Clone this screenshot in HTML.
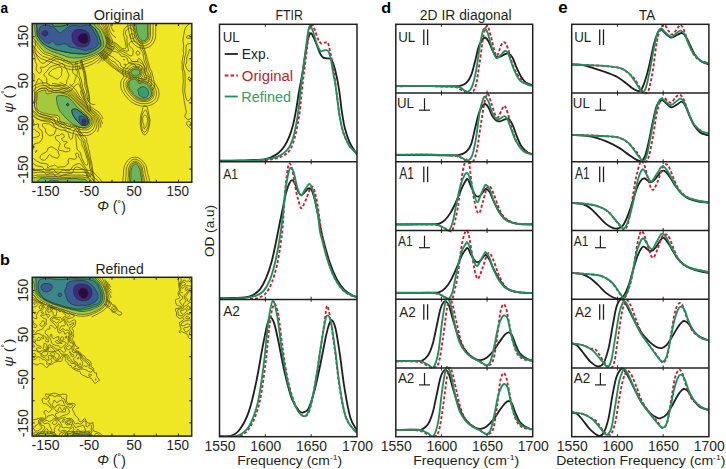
<!DOCTYPE html>
<html><head><meta charset="utf-8"><title>Figure</title><style>
html,body{margin:0;padding:0;background:#fff;width:726px;height:469px;overflow:hidden}
svg{display:block}
text{font-family:"Liberation Sans",sans-serif}
</style></head><body>
<svg width="726" height="469" viewBox="0 0 726 469"><defs><clipPath id="ca"><rect x="32.20" y="23.50" width="159.60" height="158.80"/></clipPath><clipPath id="cb"><rect x="32.20" y="277.30" width="159.50" height="158.80"/></clipPath><clipPath id="cc"><rect x="219.50" y="24.30" width="137.50" height="412.40"/></clipPath><clipPath id="cd"><rect x="395.80" y="24.30" width="136.90" height="412.40"/></clipPath><clipPath id="ce"><rect x="571.70" y="24.30" width="137.20" height="412.40"/></clipPath></defs><g clip-path="url(#ca)"><rect x="32.2" y="23.5" width="159.6" height="158.8" fill="#f0e724"/><path d="M124.2 59.3 123.7 59.5 123.7 60.0 124.2 60.4 124.6 60.0 124.2 59.3M124.7 63.9 124.3 64.5 124.6 65.0 125.7 65.2 125.7 64.4 124.7 63.9M102.2 45.0 101.9 46.0 102.4 49.0 103.2 50.5 105.2 51.8 107.7 54.5 113.2 57.3 116.7 60.4 119.2 62.0 120.0 63.0 120.9 66.0 121.7 66.9 125.7 68.5 129.2 69.0 133.2 71.4 134.2 71.5 135.2 70.7 136.8 68.0 136.0 66.0 135.2 65.0 133.8 64.0 129.2 62.9 128.2 61.7 127.1 58.5 125.7 57.0 124.2 56.5 121.7 56.4 121.1 56.0 119.9 54.0 118.7 53.0 115.2 51.5 112.7 51.2 110.9 49.0 107.7 47.9 105.2 45.4 103.7 44.8 102.2 45.0M140.2 65.4 138.5 67.0 138.2 68.0 139.7 69.9 141.2 70.4 141.7 70.2 142.1 69.5 141.9 67.0 141.2 65.5 140.2 65.4M97.2 40.9 95.7 42.1 95.5 43.0 95.7 44.0 96.5 45.0 99.3 47.0 101.1 51.0 107.8 57.0 110.7 60.1 114.2 62.0 116.1 63.5 119.6 68.0 125.7 71.0 130.2 72.8 137.7 77.8 143.7 79.5 145.2 79.6 146.0 79.0 146.4 76.5 144.9 73.0 144.0 65.5 142.2 61.6 140.2 59.2 138.7 58.5 138.2 59.0 137.5 61.0 136.7 61.6 134.7 61.8 132.7 61.3 131.5 60.5 129.5 58.0 126.6 55.5 122.7 54.0 120.9 52.5 116.6 50.0 113.7 47.1 109.7 45.2 106.7 42.8 98.2 40.7 97.2 40.9M137.2 50.9 136.2 52.0 136.2 53.5 137.2 55.0 138.2 55.1 139.7 54.0 139.8 53.0 138.7 51.3 137.2 50.9M79.7 66.3 79.2 66.6 79.2 67.5 79.7 68.8 80.2 69.2 80.4 68.0 79.7 66.3M59.2 66.9 57.1 67.5 52.2 69.7 49.0 73.0 48.7 74.0 49.0 75.0 52.2 76.5 55.7 78.6 57.2 79.1 57.7 79.0 61.4 75.5 61.5 73.0 62.0 70.5 61.9 69.0 61.2 67.6 60.3 67.0 59.2 66.9M43.7 123.4 42.7 123.9 42.4 124.5 42.4 126.0 45.4 129.0 45.7 132.0 46.2 133.0 49.2 135.5 50.2 135.9 54.2 134.3 56.2 129.0 56.2 128.0 53.2 126.8 49.2 123.9 43.7 123.4M61.2 133.9 59.7 135.5 56.2 135.8 55.5 136.5 55.4 138.0 56.0 139.5 59.2 142.0 60.1 143.5 60.1 144.5 58.5 148.0 58.6 149.5 59.7 150.3 62.7 150.9 65.7 151.9 68.7 151.3 69.7 150.6 70.0 150.0 69.8 148.5 69.2 148.2 65.7 147.9 64.8 147.0 64.5 146.0 64.5 145.0 65.0 144.0 67.2 142.6 67.2 142.0 66.2 141.4 63.7 141.4 62.2 140.4 61.8 139.5 61.8 138.5 62.3 138.0 64.2 137.2 64.4 136.0 63.2 134.3 62.2 133.8 61.2 133.9M76.2 135.0 75.6 135.5 75.4 136.5 76.1 139.5 77.0 149.0 77.5 150.0 79.9 152.0 80.6 153.0 81.4 157.0 84.2 163.2 85.7 165.0 86.7 165.3 87.3 165.0 87.9 164.0 88.0 161.5 84.2 149.6 81.9 144.5 81.5 141.5 81.0 140.5 79.0 138.5 77.7 135.8 76.7 135.0 76.2 135.0M50.7 146.9 48.1 148.0 47.2 150.8 46.2 152.0 41.7 154.4 40.7 155.4 39.9 157.5 40.3 158.5 41.2 159.5 43.2 160.2 45.2 159.9 46.7 158.4 48.0 156.5 48.7 155.0 49.2 154.6 50.2 155.0 52.1 156.5 56.2 158.1 57.2 158.3 58.2 157.6 59.2 155.5 57.8 150.5 52.2 147.0 50.7 146.9M36.2 150.5 35.5 151.5 35.4 152.0 35.7 152.5 37.0 151.0 36.8 150.5 36.2 150.5M131.2 33.6 130.5 35.5 130.7 37.9 131.7 38.6 133.7 38.7 134.5 38.0 134.9 37.0 134.6 35.0 133.2 33.9 131.2 33.6M96.2 37.0 93.4 38.0 92.5 39.0 92.4 41.5 92.7 44.3 93.1 45.5 94.1 46.5 97.2 48.5 100.0 52.0 107.2 58.3 110.2 62.1 114.2 65.0 119.2 69.5 130.2 74.9 136.2 79.1 140.7 81.0 145.2 83.6 146.7 83.7 147.7 83.1 148.8 80.5 149.1 75.0 146.8 71.0 146.3 66.0 144.2 61.0 142.9 53.0 140.5 49.0 140.2 46.5 139.7 45.0 138.2 43.3 135.7 41.5 134.2 41.0 130.2 42.1 129.2 43.0 129.0 44.0 129.2 45.5 132.6 49.0 133.2 50.5 133.2 52.5 132.7 55.0 132.2 55.6 130.7 55.8 129.2 55.3 126.2 53.2 119.2 50.0 117.9 49.0 115.2 45.8 110.7 43.5 106.2 40.0 102.2 38.7 98.9 37.0 96.2 37.0M189.7 49.3 189.2 50.0 188.4 53.5 186.8 57.5 186.7 62.0 185.5 65.5 186.2 67.9 188.7 71.3 189.2 71.3 191.2 69.9 191.9 69.0 192.1 68.0 191.4 62.5 192.5 58.5 192.5 55.5 191.7 52.5 190.7 50.5 189.7 49.3M30.2 49.7 31.2 48.5 31.3 47.5 30.9 46.5 30.2 46.0M78.2 59.4 77.4 60.5 77.1 62.5 77.4 68.0 79.0 72.0 79.5 75.5 81.1 79.0 82.7 87.3 85.4 95.0 86.2 98.3 87.2 99.3 87.7 98.8 87.7 97.5 86.7 94.5 86.5 90.5 84.7 85.5 84.8 80.5 83.7 73.1 79.9 60.5 79.2 59.6 78.2 59.4M60.2 63.9 53.2 65.8 50.2 67.1 49.1 68.0 47.2 70.9 44.5 73.5 44.1 74.5 44.3 75.5 46.1 77.5 46.7 79.0 46.9 83.0 48.7 85.5 49.7 85.8 52.7 85.3 56.2 86.1 59.7 85.3 63.2 85.6 65.2 84.9 66.5 83.5 66.9 80.5 68.8 76.0 68.9 75.0 67.7 72.5 67.0 70.0 64.9 67.0 64.2 64.9 63.2 64.0 62.2 63.6 60.2 63.9M30.2 70.2 31.7 69.6 32.3 68.5 32.3 62.5 32.0 60.0 32.6 57.5 32.0 56.0 30.2 55.1M189.2 77.0 188.7 77.2 188.2 78.0 188.0 79.0 188.2 79.5 189.2 79.9 190.2 79.5 190.5 78.5 190.2 77.7 189.2 77.0M30.2 94.2 31.4 94.0 31.9 93.5 32.8 88.0 31.6 83.5 31.6 82.5 33.9 80.0 34.2 75.5 33.9 74.0 33.2 73.2 32.2 72.7 30.2 72.4M144.7 115.0 143.2 116.2 142.7 118.0 142.7 122.0 144.0 125.0 143.8 128.0 144.2 128.8 145.2 128.2 146.7 125.5 147.7 120.5 147.5 118.5 146.7 116.5 145.7 115.2 144.7 115.0M30.2 158.0 33.7 158.6 36.7 161.1 41.2 163.2 46.7 163.9 47.7 164.3 48.2 165.5 47.2 167.0 47.7 167.8 48.7 167.5 49.8 166.5 52.7 165.9 54.7 164.9 55.7 165.3 57.7 167.3 60.7 166.9 63.7 166.9 64.9 166.5 66.7 164.8 68.2 163.9 68.5 163.0 68.1 160.0 68.7 158.8 70.7 158.5 74.2 159.4 75.9 158.5 76.7 157.0 75.7 155.0 75.6 154.0 76.2 153.3 77.2 153.2 78.5 154.0 78.9 157.0 80.2 158.7 83.0 164.0 86.4 169.0 90.2 176.4 90.7 176.5 90.8 176.0 91.1 172.0 90.7 170.0 89.4 167.0 89.6 164.0 89.2 161.5 87.8 157.5 86.0 150.5 84.0 145.0 83.3 141.0 80.9 137.5 79.8 135.0 77.8 132.5 76.2 129.7 75.2 129.3 74.2 129.8 73.0 134.5 72.5 138.0 71.7 139.0 70.7 139.1 69.4 138.0 68.5 134.0 67.7 132.2 62.5 127.0 59.9 125.0 58.2 124.3 53.7 123.7 50.7 121.0 48.7 120.2 46.7 120.0 42.2 120.3 40.7 120.1 36.7 118.5 34.7 115.9 33.7 115.2 32.7 115.1 31.7 115.5 31.2 116.0 31.0 117.0 33.4 119.5 33.6 123.0 34.1 124.0 35.7 124.6 38.2 123.7 38.6 124.0 38.4 127.5 39.1 128.5 41.2 130.2 42.2 132.0 42.6 137.5 41.7 139.7 40.1 142.0 37.9 143.0 34.1 144.0 33.7 144.9 33.5 147.5 32.7 150.2 31.7 151.6 30.2 152.4M129.7 27.9 128.2 28.5 126.7 29.9 125.7 31.5 125.4 33.0 125.6 34.5 126.7 36.0 127.0 37.0 127.1 44.0 128.5 50.0 128.3 51.0 127.7 51.2 125.7 51.0 120.7 49.3 115.7 44.5 111.2 42.2 107.2 38.8 100.5 35.5 96.9 34.5 93.7 33.2 91.2 33.0 89.7 33.3 87.8 34.5 86.9 35.5 86.8 36.5 90.2 40.1 90.9 42.0 91.4 45.5 92.2 47.0 95.7 49.8 106.2 59.4 110.2 63.9 118.0 70.0 121.2 72.2 129.2 76.3 136.2 80.6 139.7 82.3 143.2 85.0 146.7 86.0 150.7 85.8 151.2 85.5 151.5 84.5 151.0 82.5 151.3 78.5 150.8 74.0 150.2 72.5 148.4 69.5 147.8 65.5 146.0 61.0 145.4 56.5 144.1 52.0 142.4 48.5 141.8 45.5 137.6 39.0 136.6 34.5 135.9 33.0 133.2 30.8 131.2 28.3 129.7 27.9M190.7 34.8 189.2 35.6 187.2 35.8 186.5 37.0 186.7 38.0 187.7 38.3 191.7 38.2 192.4 37.0 192.3 35.5 191.7 34.9 190.7 34.8M30.2 40.3 31.7 39.2 32.7 36.5 32.2 35.2 30.2 34.2M194.2 52.7 192.5 49.0 192.1 45.5 191.7 44.3 190.7 43.6 189.2 43.6 187.7 43.9 186.7 44.7 186.0 47.0 186.0 53.0 184.8 57.0 183.4 67.0 183.7 69.4 184.8 72.5 185.1 75.0 185.1 82.5 184.7 91.0 185.7 97.0 186.7 99.9 187.7 101.0 188.7 100.9 189.7 99.8 192.9 93.5 193.3 87.5 192.3 83.5 193.5 79.5 193.3 75.0 194.2 71.2M77.2 56.5 76.5 58.0 75.2 65.0 75.5 67.5 77.4 72.0 77.4 73.5 77.0 75.5 78.7 77.6 79.4 79.0 81.0 86.5 82.9 91.5 85.1 99.0 86.2 101.1 87.7 102.5 88.2 102.2 88.7 101.0 89.0 97.5 88.0 93.5 87.6 90.0 86.1 84.5 85.8 79.5 84.7 73.0 80.7 59.5 78.7 57.1 77.7 56.4 77.2 56.5M194.2 66.1 194.2 63.1M30.2 105.1 33.2 102.4 34.3 100.5 34.6 98.5 34.6 91.5 35.5 88.0 35.2 85.0 38.2 78.8 39.2 78.8 42.0 81.0 43.2 84.5 43.7 85.1 45.7 86.1 48.7 88.2 51.7 89.0 54.2 90.6 56.2 90.8 59.2 90.1 62.7 88.4 67.7 88.2 70.2 87.3 74.4 82.5 76.2 76.0 76.1 75.5 73.7 73.7 72.9 72.5 72.5 70.5 73.2 66.0 72.7 65.0 71.4 63.5 69.9 62.5 65.2 60.5 56.2 58.9 54.7 59.3 52.0 61.0 48.7 64.3 44.7 66.9 43.2 67.3 40.7 67.1 40.2 67.5 41.4 69.5 41.3 71.5 40.2 73.0 39.7 73.2 38.7 72.9 37.2 71.5 36.2 69.5 36.2 67.0 37.0 65.0 35.2 61.5 34.9 57.0 32.9 51.0 33.1 47.0 32.9 45.5 32.1 44.0 30.2 43.1M145.2 110.0 144.2 111.2 141.6 116.0 141.2 122.0 142.2 129.8 143.2 131.5 144.7 132.2 146.2 131.0 147.8 127.5 148.7 124.5 149.1 121.0 148.7 118.1 146.7 111.6 146.2 110.4 145.7 109.9 145.2 110.0M30.2 131.4 31.7 131.1 33.2 129.3 34.2 129.1 36.2 131.0 38.9 132.5 39.4 133.5 39.5 134.5 39.3 135.5 38.7 136.3 36.7 137.1 33.2 137.9 30.2 141.0M30.2 161.6 36.7 165.8 42.2 166.8 43.9 169.0 46.7 170.8 48.7 170.9 52.2 169.3 53.7 169.5 56.5 173.0 58.2 173.7 59.7 173.0 61.8 170.5 62.7 169.9 63.7 169.9 66.7 170.9 69.4 170.5 70.7 169.5 72.7 166.5 73.8 165.5 77.7 163.8 79.7 163.6 81.7 164.9 86.1 171.0 87.5 174.0 88.7 178.3 90.7 182.1 91.7 183.0 92.7 183.1 93.2 182.5 93.5 181.0 92.2 171.0 91.0 167.0 90.5 162.5 85.5 144.5 84.8 140.5 84.1 139.0 82.4 137.0 79.1 132.0 77.9 129.0 77.2 127.9 75.7 126.8 73.7 126.2 72.7 126.5 70.2 128.4 69.2 128.7 67.7 128.5 66.2 127.7 64.2 125.3 63.2 124.6 59.2 123.0 54.9 122.0 50.7 119.0 47.7 117.8 44.2 117.3 38.7 115.7 37.7 115.0 35.2 112.1 33.7 111.0 32.7 110.9 30.2 111.3M189.7 21.5 189.4 24.0 186.7 25.9 185.2 28.5 184.5 31.0 182.9 40.0 183.7 46.0 183.2 50.0 183.6 53.5 182.1 61.5 182.1 68.5 183.0 73.0 183.0 77.5 183.4 81.5 182.8 86.5 182.8 91.0 184.1 100.5 186.3 112.0 186.2 113.0 185.0 115.0 184.9 116.5 185.7 118.0 187.7 119.4 189.2 119.4 191.3 118.0 192.1 117.0 191.9 115.0 192.5 111.0 192.4 107.5 193.2 104.0 192.7 99.5 194.2 96.0M129.2 25.4 127.2 26.2 125.7 27.2 124.3 29.0 123.7 30.6 123.5 35.0 124.5 38.0 126.1 46.5 125.9 48.0 125.5 48.5 124.7 48.8 122.7 48.6 121.3 48.0 116.4 43.5 112.2 41.4 108.2 38.1 101.2 34.2 93.7 31.2 88.2 30.5 85.7 29.1 84.7 28.8 83.2 29.0 82.3 29.5 81.6 30.5 81.7 31.5 84.7 37.5 89.2 42.5 90.0 46.0 90.9 47.5 110.7 65.8 124.7 76.0 132.2 79.4 135.7 81.8 139.2 83.7 142.7 86.5 148.2 88.8 152.2 89.4 153.2 89.2 154.0 88.0 154.6 85.0 153.6 79.0 151.7 71.5 149.8 68.0 148.8 64.0 147.6 60.5 146.7 56.3 143.0 45.0 139.1 38.0 137.2 32.7 134.5 29.5 132.7 26.0 131.2 25.1 129.2 25.4M194.2 33.3 192.4 27.0 192.2 21.5M194.2 49.1 194.2 46.9M143.7 106.4 143.0 107.5 142.0 112.0 140.7 115.5 140.2 123.0 140.9 128.5 141.7 131.3 143.2 134.0 144.7 134.9 146.2 134.1 147.7 131.7 149.2 126.5 150.0 120.0 147.5 108.0 146.7 106.8 145.7 106.2 144.7 106.0 143.7 106.4M187.7 121.5 186.9 122.5 186.6 123.5 187.2 125.3 191.2 128.9 192.2 129.1 192.7 128.8 193.0 127.5 190.5 122.5 189.2 121.2 188.2 121.1 187.7 121.5M30.2 168.9 32.7 170.3 34.2 170.7 38.7 170.4 41.7 171.0 43.7 171.9 45.7 173.8 46.7 174.3 48.2 174.2 50.8 173.0 52.2 172.8 53.4 173.5 55.7 176.3 58.2 177.3 59.7 176.9 62.7 175.0 72.2 173.1 73.1 172.0 73.7 169.5 74.6 168.0 76.2 167.1 77.7 167.1 82.2 168.8 84.7 170.9 86.4 174.0 87.3 177.5 88.7 180.9 90.8 184.5M95.0 184.5 94.8 181.0 93.4 174.5 91.8 163.5 90.2 156.8 89.5 151.5 88.4 148.5 88.1 145.5 87.0 142.5 86.5 138.5 85.7 137.1 83.2 135.4 80.4 132.0 78.7 128.0 75.9 124.5 75.1 121.5 74.2 120.1 71.7 117.5 71.2 117.2 70.7 117.4 71.2 122.5 71.0 124.5 69.7 126.3 68.7 126.6 67.7 126.5 64.2 123.2 55.7 120.6 52.7 118.4 48.2 116.1 39.2 113.5 36.5 110.0 34.3 106.0 34.3 105.0 36.0 99.5 36.2 94.0 36.6 91.5 37.7 90.1 41.2 88.2 43.2 87.9 45.2 88.2 49.7 90.7 53.7 92.5 61.7 92.7 68.2 91.4 71.2 90.3 72.2 89.5 74.6 86.0 77.2 84.0 78.2 83.7 79.2 84.9 81.9 91.0 84.2 98.9 87.0 105.5 88.2 110.1 88.7 111.1 89.2 111.5 89.7 111.4 90.2 110.5 90.4 108.5 89.7 103.0 89.5 96.5 87.0 84.0 85.4 72.5 83.0 65.0 81.6 59.5 79.5 55.5 77.7 50.3 76.2 48.5 75.7 49.5 75.0 59.5 74.5 61.0 73.7 61.8 72.2 61.4 66.7 57.9 61.7 57.5 56.7 56.4 54.7 56.9 52.2 58.5 48.7 60.0 44.2 63.0 42.7 63.3 41.2 62.8 40.0 61.5 37.2 57.4 36.3 55.5 35.7 52.5 34.7 50.0 34.8 47.5 35.8 43.0 34.7 39.0 35.0 35.0 34.3 33.5 32.3 31.0 30.9 25.5 30.2 24.5" fill="none" stroke="#2e2a18" stroke-width="0.6" stroke-linejoin="round"/><path d="M132.0 20.5 134.4 34.5 135.2 37.0 136.6 40.0 138.2 41.7 139.9 42.8 141.9 43.5 144.2 43.6 146.2 42.9 148.2 41.5 149.1 40.2 150.2 37.5 150.5 35.2 150.6 21.8 150.4 20.5M29.2 39.8 29.7 40.8 30.7 41.4 32.0 41.4 33.0 40.7 40.2 50.2 42.0 52.2 44.0 53.8 48.5 55.4 49.2 55.4 52.5 57.0 59.5 59.4 62.2 60.5 63.0 61.1 65.2 62.3 69.5 63.9 72.0 64.2 74.5 64.2 78.4 63.4 82.0 61.9 87.7 60.2 90.5 58.9 91.7 58.6 92.5 58.0 95.0 56.9 97.5 55.5 98.2 54.7 101.5 52.6 104.1 50.0 105.4 48.2 106.7 45.2 107.0 43.8 107.0 40.5 106.7 38.8 104.0 31.8 102.1 28.5 99.8 25.5 99.3 24.2 99.6 22.5 100.3 20.5M134.7 66.2 132.9 66.6 130.7 68.0 128.9 69.7 127.9 71.2 127.9 73.2 128.3 74.5 128.8 75.2 130.8 77.0 129.2 78.2 128.1 79.8 127.3 80.2 126.0 82.5 125.9 86.0 126.8 88.8 129.0 92.5 131.9 96.2 134.0 98.2 136.9 100.1 141.4 101.6 146.7 101.6 149.2 100.8 151.4 99.5 152.8 98.2 154.1 95.2 154.1 91.2 153.2 88.5 150.4 84.2 148.9 82.9 145.9 81.1 142.9 80.2 141.4 80.5 139.9 81.2 139.7 81.0 139.1 79.5 138.0 78.2 138.7 78.0 139.9 77.1 141.0 76.0 142.1 73.5 142.2 71.0 140.9 68.5 139.4 67.3 137.9 66.5 134.7 66.2M42.9 88.2 41.0 88.6 37.5 90.1 35.8 91.8 35.1 93.8 35.3 96.2 34.5 101.0 34.5 106.2 35.2 109.3 36.2 111.2 37.7 112.8 42.2 114.8 45.0 115.6 46.5 115.7 48.2 116.2 49.5 116.2 51.0 116.7 54.5 116.9 57.2 117.5 57.5 118.0 57.7 120.5 58.5 122.5 59.2 123.2 62.0 124.4 63.5 124.4 66.7 125.2 68.2 125.9 71.2 126.7 74.0 127.9 76.7 128.4 78.5 129.1 82.2 129.9 86.7 129.9 88.7 129.2 91.5 127.2 92.8 124.8 93.4 122.5 93.2 120.5 92.9 119.0 91.7 116.8 88.2 112.9 78.7 103.5 77.2 101.8 71.4 96.2 68.0 93.9 66.2 93.2 65.2 92.6 60.2 91.0 58.0 90.6 54.0 90.5 51.7 90.8 50.2 91.4 48.0 91.9 47.7 89.8 46.8 88.8 45.5 88.1 42.9 88.2M97.1 185.2 96.9 184.0 95.7 182.5 93.2 180.2 90.2 176.8 88.5 175.9 85.0 175.6 83.0 175.1 71.2 175.1 70.2 175.3 66.2 175.3 64.7 175.6 64.0 175.3 61.0 175.3 57.5 174.8 37.5 175.1 32.0 176.2 31.0 176.8 29.7 178.0 29.2 178.9M145.3 185.2 144.9 181.5 144.4 180.0 144.0 177.0 143.2 174.2 142.9 170.8 142.4 169.2 142.4 168.0 142.1 167.0 140.6 164.5 139.2 163.0 136.7 161.4 134.7 161.2 132.7 161.8 131.4 162.9 130.1 164.8 128.9 167.5 128.3 170.8 128.3 177.0 128.0 178.0 127.8 185.2M129.5 20.5 132.2 35.2 133.1 38.0 134.6 41.2 136.7 43.4 138.9 44.9 141.4 45.8 144.2 45.9 145.2 45.7 146.9 45.1 149.2 43.8 151.0 41.8 152.0 39.8 152.6 38.0 153.0 35.5 153.2 21.8 153.0 20.5M29.2 43.8 30.5 44.2 32.3 44.2 36.7 50.4 39.6 53.8 42.7 56.2 48.5 58.1 51.5 59.6 58.7 62.1 64.1 64.8 68.7 66.5 71.7 66.9 74.7 66.9 79.5 66.0 82.7 64.7 88.7 62.8 92.7 61.0 95.7 59.1 98.5 57.1 101.0 54.1 102.2 53.3 104.8 50.8 106.4 48.8 107.7 45.5 107.9 44.0 107.9 40.2 107.6 38.5 105.1 31.2 103.3 27.5 101.3 24.0 102.3 20.5M133.9 64.0 131.9 64.4 129.2 66.1 127.0 68.2 125.6 70.2 125.4 71.5 125.5 73.8 126.1 75.2 127.1 77.0 125.2 79.1 123.6 82.0 123.5 86.0 124.1 88.5 125.0 90.5 127.0 93.8 130.2 97.5 132.8 100.0 135.9 101.9 139.4 103.2 141.2 103.6 146.9 103.7 150.2 102.8 153.2 101.0 154.7 99.5 155.7 97.5 156.4 95.2 156.3 91.5 155.1 87.8 151.9 83.2 149.9 81.5 146.7 79.7 144.9 79.1 143.0 78.7 140.7 79.2 140.5 79.0 140.4 78.5 142.2 76.9 143.8 73.8 144.0 70.8 143.2 68.5 141.9 66.6 139.2 64.6 136.4 64.0 133.9 64.0M42.7 85.5 39.7 86.1 35.6 88.0 33.4 90.2 32.8 91.5 32.3 93.2 32.2 94.5 32.4 95.8 31.7 101.2 31.7 106.2 32.0 108.5 32.5 110.2 33.7 112.5 35.7 114.8 38.7 116.4 44.2 118.3 54.7 120.0 54.9 121.2 56.0 123.8 57.0 125.0 58.0 125.7 61.0 127.0 66.0 127.9 73.0 130.5 76.2 131.2 77.7 131.8 82.0 132.7 87.2 132.6 90.0 131.6 93.0 129.3 94.5 126.8 95.2 123.2 94.9 120.2 94.0 118.0 92.8 116.0 91.2 114.2 81.6 105.0 72.2 95.2 68.7 92.6 66.0 91.1 60.7 89.1 58.2 88.5 54.0 88.1 51.5 88.2 50.0 88.6 48.7 87.0 47.0 85.9 45.5 85.5 42.7 85.5M99.9 185.2 99.8 183.8 99.1 182.2 97.7 180.5 95.4 178.5 92.2 174.8 89.7 173.3 87.2 172.8 85.5 172.7 82.7 172.3 71.2 172.3 65.0 172.7 57.5 172.0 37.5 172.3 32.2 173.2 30.7 173.7 29.2 174.6M147.8 185.2 147.2 181.2 145.2 173.8 144.8 170.5 143.8 166.2 142.0 163.2 139.2 160.8 136.9 159.5 134.7 159.3 132.4 159.7 130.9 160.6 128.3 163.8 126.9 166.8 126.2 170.5 126.0 176.5 125.7 178.0 125.3 185.2M126.9 20.5 129.7 35.8 130.7 39.0 132.4 42.6 135.0 45.2 137.9 47.1 141.2 48.1 144.4 48.3 145.9 48.1 147.9 47.4 150.7 45.9 151.9 44.8 153.2 43.2 154.4 41.0 155.3 38.5 155.7 35.8 155.8 20.5M29.2 46.8 30.7 47.0 34.6 52.2 37.7 55.8 40.2 57.9 41.7 58.8 57.7 64.5 63.2 67.2 68.2 69.0 71.5 69.6 75.0 69.6 77.5 69.3 80.5 68.6 89.5 65.4 93.7 63.3 96.7 61.3 99.5 58.9 101.5 55.0 103.0 54.0 105.5 51.6 107.3 49.2 108.7 45.5 108.9 44.0 108.9 40.2 108.5 38.2 106.1 30.8 104.5 26.8 103.0 23.8 104.1 20.5M133.7 61.5 130.9 62.0 127.7 63.9 125.0 66.5 123.2 69.2 122.7 71.0 122.8 73.2 123.8 76.8 121.5 80.1 120.7 82.5 120.8 86.5 121.4 89.2 122.7 91.8 124.8 95.0 126.9 97.7 131.1 101.8 134.9 104.1 138.7 105.4 141.2 106.0 147.2 106.1 151.2 105.0 154.4 103.2 156.2 101.7 157.2 100.5 158.1 98.5 158.9 96.2 159.0 94.8 158.8 90.8 157.8 88.0 156.1 85.0 153.4 81.8 151.5 80.2 147.4 78.1 143.9 77.2 145.5 74.0 146.0 70.8 145.8 69.5 145.1 67.5 143.7 65.1 141.7 63.4 139.4 62.2 136.7 61.5 133.7 61.5M29.2 108.6 29.9 111.2 31.5 114.2 33.8 116.8 35.5 117.9 40.2 120.0 43.5 121.0 52.3 122.5 54.3 126.3 55.5 127.4 57.0 128.3 60.2 129.7 65.0 130.6 72.2 133.2 77.2 134.6 81.7 135.5 86.7 135.5 88.5 135.2 91.2 134.1 94.0 132.0 95.4 130.2 96.5 127.8 97.1 123.8 96.4 120.2 95.7 118.3 93.5 115.0 82.2 104.3 72.7 94.0 69.5 91.4 66.5 89.5 61.2 87.3 58.5 86.5 56.0 86.1 53.7 85.8 51.0 85.8 48.7 84.0 46.0 82.9 42.7 82.8 38.9 83.5 34.2 85.5 32.0 87.5 31.1 88.8 30.2 90.5 29.6 92.8 29.4 94.2 29.6 95.8 29.2 98.4M102.7 185.2 102.6 183.5 102.1 182.0 101.4 180.8 99.8 178.8 97.4 176.5 93.7 172.4 91.2 170.9 89.5 170.4 83.0 169.5 71.0 169.5 65.0 169.8 57.7 169.2 46.2 169.2 44.2 169.5 36.7 169.5 31.7 170.4 29.2 171.3M150.5 185.2 149.8 181.0 147.6 173.2 146.4 167.0 145.4 164.5 143.7 161.9 140.2 158.9 137.4 157.4 134.4 157.2 131.7 157.6 129.4 158.8 128.0 160.2 126.2 162.4 124.5 165.8 123.6 170.2 123.4 176.2 123.0 177.8 122.6 185.2M97.9 63.5 100.7 60.7 101.7 58.2 102.2 55.7 104.0 54.5 107.9 50.2 109.7 45.8 109.9 44.0 110.0 40.2 109.6 38.2 107.6 32.5 105.7 25.9 104.7 23.4 105.7 20.5M147.5 73.9 147.7 73.3M150.9 77.5 146.7 75.8 147.4 74.2M97.5 131.7 98.3 129.8 98.8 127.5 98.8 123.2 97.9 120.0 97.1 118.0 94.6 114.5 83.7 104.6 78.5 98.8 73.7 93.1 70.0 89.9 66.7 87.7 61.2 85.2 58.0 84.3 54.0 83.5 52.0 83.5M140.5 156.3 140.4 156.2M141.8 157.1 141.7 157.0M102.8 61.5 103.2 59.5 103.1 56.5 104.4 55.5 107.0 53.0 108.8 50.8 110.4 46.8 111.0 44.3 111.9 43.2 112.3 41.8 112.3 40.0 110.1 35.5 108.7 32.0 106.3 23.2 107.3 20.5M100.9 127.6 100.6 123.8 99.4 119.8 98.1 117.0 95.8 114.0 87.8 107.2 83.9 103.5 79.1 98.0 74.7 92.0 71.1 88.5 67.2 85.8 62.0 83.3 59.6 82.5M116.0 37.8 112.2 34.8 110.2 31.5 108.0 22.8 109.0 20.5M104.9 60.3 104.0 57.2 107.7 53.7 109.6 51.5 110.5 49.8 111.7 46.1 115.2 47.3M69.4 84.2 69.1 84.0M102.5 123.8 101.2 119.8 100.0 117.2 97.4 113.8 88.7 106.7 84.7 102.9 82.7 100.7 81.0 98.1 80.0 97.0 75.7 89.8 72.3 86.2 69.5 84.2M114.5 31.5 112.7 30.5 111.0 26.5 110.4 23.9M106.1 59.6 105.0 57.8 108.5 54.5 110.4 52.2 111.3 50.5 112.2 47.9 112.5 47.8 114.4 49.1M103.0 118.9 101.4 115.5 98.9 112.2 94.2 109.2 89.4 105.7 86.7 103.2 84.5 100.8 83.7 99.8 82.2 96.4 81.4 95.2 80.9 93.2 80.7 90.5M106.7 59.0 106.2 58.1 109.5 55.0 111.1 53.0 113.0 49.3 113.8 50.1M95.1 104.4 94.0 104.7 92.7 104.5 91.0 103.7 89.1 102.2 87.9 100.8 87.4 99.2 87.7 98.4 88.6 97.9M113.4 51.1 113.4 50.9" fill="none" stroke="#2e2a18" stroke-width="0.6" stroke-linejoin="round"/><path d="M29.2 20.5 98.8 20.5 97.8 23.0 97.8 24.8 98.6 26.2 101.3 29.2 103.3 32.2 103.8 33.2 103.8 33.8 105.1 36.0 105.3 37.2 106.0 39.0 106.1 40.2 106.3 40.5 106.3 43.8 106.1 44.0 106.1 45.0 105.6 45.8 105.6 46.2 105.1 47.0 104.8 48.0 103.6 49.2 103.6 49.5 101.0 52.1 98.2 53.6 97.7 53.6 97.0 54.4 95.2 54.9 94.2 55.6 93.7 55.6 93.0 56.1 91.7 56.4 91.0 57.1 90.0 57.1 87.0 58.6 86.0 58.6 85.2 59.1 82.7 59.6 82.0 60.1 81.2 60.1 80.0 60.9 79.2 60.9 78.0 61.6 76.2 61.8 76.0 62.1 74.7 62.1 74.5 62.3 70.0 62.1 69.2 61.6 68.5 61.6 66.7 60.6 66.0 60.6 64.0 59.6 63.2 58.8 62.0 58.6 59.0 57.1 58.2 57.1 57.0 56.3 56.2 56.3 54.7 55.6 53.2 55.3 52.5 54.9 51.5 54.6 50.0 53.6 49.0 53.6 47.5 52.9 46.7 52.8 45.5 52.1 44.7 52.1 43.1 50.8 42.1 49.2 41.6 49.0 41.1 48.0 40.4 47.5 39.8 46.5 38.1 44.5 37.8 43.8 36.8 42.8 36.3 41.8 33.0 38.1 32.3 38.5 31.5 39.6 31.1 39.5 30.9 39.0 30.9 37.0 30.6 36.8 30.6 35.8 30.1 34.5 30.1 33.8 29.9 33.5 29.6 31.0 29.4 30.8 29.2 20.5ZM133.6 20.5 148.9 20.5 148.9 21.5 149.1 21.8 149.1 35.2 148.9 35.5 148.8 37.0 147.9 39.5 146.7 40.9 146.2 40.9 145.4 41.7 144.9 41.7 144.2 42.2 142.2 42.2 139.9 41.2 137.8 39.2 137.5 38.2 136.6 36.5 136.3 35.0 135.8 34.2 135.8 33.2 135.6 33.0 135.5 32.0 135.3 31.8 135.3 30.5 135.0 30.2 135.0 29.0 134.8 28.8 134.5 25.5 134.1 24.2 133.8 20.8 133.6 20.5ZM134.8 67.8 136.2 67.6 136.4 67.8 137.7 67.9 138.7 68.3 139.9 69.2 141.1 71.5 141.1 73.2 140.1 75.5 138.2 77.1 137.2 77.2 136.9 77.4 134.9 77.4 134.7 77.2 133.4 76.9 132.7 76.4 132.2 76.4 130.3 74.8 129.6 73.8 129.3 73.0 129.3 71.8 130.0 70.8 132.4 68.6 133.2 68.3 133.7 67.8 134.8 67.8ZM132.5 77.8 134.2 77.6 134.4 77.8 135.4 77.8 136.2 78.3 136.7 78.4 136.9 78.8 138.4 80.0 138.6 81.2 139.4 82.1 140.4 82.1 141.7 81.3 142.7 81.3 142.9 81.1 143.2 81.3 144.2 81.3 144.9 81.8 145.4 81.8 148.2 83.6 149.6 85.0 152.1 89.0 152.4 90.5 152.9 91.5 152.8 94.8 151.8 97.2 150.7 98.4 148.7 99.7 147.4 99.9 146.4 100.4 141.4 100.4 141.2 100.2 139.7 99.9 138.2 99.2 137.7 99.1 134.9 97.4 132.8 95.2 132.8 95.0 131.6 93.8 131.0 92.8 130.1 91.8 129.5 90.5 128.3 88.8 128.0 87.8 127.5 87.0 127.5 86.0 127.3 85.8 127.3 83.0 128.3 81.2 129.3 80.5 130.2 79.1 131.4 78.1 132.5 77.8ZM43.7 90.0 45.2 90.0 46.0 90.5 46.0 92.8 46.7 93.7 49.0 93.7 49.2 93.5 51.0 93.2 52.2 92.4 54.0 92.4 54.2 92.2 58.0 92.2 58.2 92.4 60.0 92.4 62.0 93.1 64.7 93.6 65.7 94.4 66.5 94.4 67.5 94.9 68.0 95.4 69.2 95.9 70.7 96.9 77.8 103.5 77.8 103.8 87.6 113.5 87.6 113.8 90.8 117.2 91.8 119.2 92.1 122.5 91.3 124.5 90.3 126.0 88.0 127.6 86.5 128.2 82.5 128.2 81.2 127.7 79.0 127.5 77.5 126.7 74.5 126.2 72.0 124.9 71.0 124.9 69.5 124.1 68.7 124.1 67.5 123.4 65.5 123.1 64.2 122.6 62.5 122.6 61.5 121.8 60.2 121.6 59.4 119.8 59.4 117.0 58.0 115.6 55.5 115.3 55.2 115.1 51.2 114.8 50.2 114.3 48.5 114.3 47.2 113.8 45.5 113.8 44.5 113.3 43.0 113.0 42.0 112.3 41.2 112.3 41.0 112.0 40.5 112.0 39.5 111.3 39.0 111.3 37.7 110.0 36.9 108.5 36.9 108.0 36.7 107.8 36.7 106.2 36.4 106.0 36.4 101.2 36.7 101.0 36.9 97.2 37.2 97.0 37.2 94.5 36.9 94.2 37.2 94.0 37.4 92.8 38.5 91.7 39.2 91.7 41.5 90.5 42.5 90.5 43.7 90.0ZM134.6 162.5 136.2 162.4 138.4 163.9 139.8 165.2 140.3 166.5 141.1 167.5 141.1 168.0 141.3 168.2 141.4 169.8 141.8 171.0 142.1 174.8 142.4 175.0 142.6 177.0 142.9 177.2 143.1 180.5 143.6 181.8 143.8 185.2 129.3 185.2 129.5 170.8 129.8 170.5 130.1 167.8 131.1 165.5 132.3 163.8 132.7 163.6 133.2 162.9 134.6 162.5ZM46.1 176.8 57.5 176.6 57.7 176.9 63.7 177.1 64.0 177.3 66.0 177.3 66.2 177.1 71.0 177.1 71.2 176.9 82.7 176.9 83.0 177.1 84.0 177.1 84.2 177.4 86.5 177.4 86.7 177.6 88.0 177.7 89.0 178.2 91.3 180.8 91.3 181.0 94.3 183.8 95.3 185.2 29.2 185.2 29.2 181.9 30.9 180.0 31.1 179.2 32.2 178.2 33.5 177.7 36.5 177.4 37.7 176.9 46.1 176.8Z" fill="#a5c93c" fill-rule="evenodd"/><path d="M33.2 20.5 95.5 20.5 94.5 23.0 94.5 24.8 95.7 26.5 97.7 28.2 99.5 30.2 102.0 35.5 102.7 39.2 103.0 39.5 103.0 40.2 103.5 41.2 103.5 42.8 103.7 43.0 103.7 44.8 103.5 45.0 103.2 46.5 102.0 48.5 101.7 48.5 101.2 49.2 100.5 49.8 100.5 50.0 99.7 50.3 97.5 52.0 96.4 52.3 95.2 53.3 93.5 53.8 91.5 55.0 90.5 55.0 88.2 56.0 87.2 56.0 86.5 56.5 85.5 56.5 85.2 56.8 83.2 57.0 82.0 57.5 80.5 57.5 80.2 57.8 79.2 57.8 79.0 58.0 73.2 58.0 72.9 57.8 71.5 57.8 71.2 57.5 68.7 57.3 68.5 57.0 66.0 56.5 64.7 55.8 64.0 55.8 62.7 55.0 62.0 55.0 60.2 54.3 59.0 54.0 58.0 53.3 56.0 53.0 54.5 52.3 53.5 52.3 52.2 51.5 51.2 51.5 50.5 50.8 49.5 50.5 48.2 49.5 47.2 49.3 43.7 46.3 43.5 46.3 42.2 44.8 41.7 44.5 41.7 44.2 41.0 43.8 40.5 43.0 40.2 43.0 40.2 42.8 37.4 39.5 37.2 38.8 36.2 37.5 36.2 37.0 35.7 36.5 35.4 34.8 35.2 34.5 34.7 27.5 34.4 27.2 34.4 26.0 33.9 24.8 33.9 23.8 33.4 22.5 33.4 21.2 33.2 21.0 33.2 20.5ZM135.2 20.5 147.5 20.5 147.5 24.0 147.7 24.2 147.7 36.0 147.2 36.8 147.2 37.8 146.7 38.8 146.0 39.8 144.9 40.5 142.4 40.8 141.7 40.3 140.7 40.0 139.4 38.8 138.4 37.0 138.4 36.5 137.7 35.0 137.4 33.2 136.9 32.5 136.7 30.5 136.4 30.2 136.2 27.0 135.9 26.8 135.9 25.0 135.7 24.8 135.7 23.0 135.4 22.8 135.4 20.8 135.2 20.5ZM135.2 69.0 137.9 69.5 139.0 70.2 140.0 72.0 140.0 73.0 139.2 74.5 136.9 76.0 135.4 76.0 135.2 75.8 134.2 75.8 133.9 75.5 132.7 75.3 131.4 74.0 130.7 72.8 130.7 72.0 131.9 70.5 133.9 69.2 134.9 69.2 135.2 69.0ZM132.9 79.0 135.2 79.2 136.9 80.2 138.9 83.4 140.4 83.4 141.7 82.7 142.7 82.7 142.9 82.5 143.4 82.5 144.7 83.2 145.2 83.2 146.2 83.7 149.5 87.0 150.5 89.0 151.0 89.5 151.0 90.5 151.5 92.0 151.3 95.0 150.5 96.8 149.7 97.6 148.2 98.6 147.2 98.6 146.2 99.1 141.7 99.1 137.7 97.6 135.7 96.3 134.4 94.8 133.7 94.2 132.6 92.5 130.2 89.5 128.9 87.0 128.9 86.0 128.7 85.8 128.7 83.0 129.4 81.5 130.9 80.0 132.9 79.0ZM59.4 95.5 62.5 95.5 62.7 95.7 64.5 95.7 65.2 96.2 67.7 97.0 68.5 97.7 69.5 98.2 72.7 101.5 75.0 104.5 78.7 108.5 79.0 108.5 82.5 111.7 83.0 111.7 87.0 115.5 87.7 116.8 89.2 118.2 90.0 119.8 90.0 122.8 89.7 123.0 89.7 123.8 88.7 125.5 85.7 127.3 83.7 127.5 83.5 127.8 81.7 127.8 81.5 127.5 80.7 127.5 80.0 127.0 79.0 127.0 77.7 126.3 77.2 126.3 75.5 125.3 75.0 125.3 74.0 124.8 73.2 124.0 72.7 124.0 70.7 122.3 70.5 122.3 68.5 120.3 68.2 120.3 64.7 116.8 64.7 116.5 62.7 114.5 62.7 114.2 60.7 112.2 60.4 111.5 59.7 110.8 59.4 109.8 58.4 108.2 58.2 106.5 57.2 104.2 56.9 101.2 56.7 101.0 56.7 99.2 56.4 99.0 56.7 96.8 57.0 96.7 57.4 96.0 58.0 95.7 59.2 95.7 59.4 95.5ZM134.9 164.0 135.9 164.0 136.4 164.2 138.2 165.8 140.2 169.8 140.2 171.2 140.7 172.5 140.7 174.8 141.0 175.0 141.2 177.2 141.5 177.5 141.5 178.8 141.7 179.0 141.7 181.2 142.0 181.5 142.2 185.2 130.9 185.2 130.9 184.0 130.7 183.8 130.7 178.5 130.7 178.0 130.9 177.8 130.9 170.2 131.2 170.0 131.2 169.0 132.7 165.8 134.2 164.2 134.7 164.2 134.9 164.0ZM42.9 177.8 43.2 178.0 45.7 178.0 46.0 178.2 48.5 178.2 48.7 178.4 53.7 178.4 54.0 178.6 58.7 178.6 59.0 178.9 66.0 178.7 66.2 178.5 77.7 178.5 79.0 179.0 82.0 179.0 82.2 179.2 84.0 179.2 85.0 179.7 85.7 179.7 89.2 183.2 90.7 185.2 34.9 185.2 35.9 183.0 39.1 179.5 39.5 179.4 40.7 178.2 42.7 178.0 42.9 177.8Z" fill="#6db55a" fill-rule="evenodd"/><path d="M35.8 20.5 52.6 20.5 52.6 24.5 52.8 25.0 54.2 26.1 56.5 26.1 61.5 26.1 61.7 25.9 63.2 25.9 63.5 25.6 65.7 25.4 67.1 23.8 67.1 21.5 66.8 21.2 66.8 20.5 90.6 20.5 90.1 24.0 90.8 25.8 91.2 26.1 91.7 26.1 93.2 27.4 93.9 27.6 95.3 29.0 95.8 30.2 96.6 31.0 97.3 32.5 98.3 35.0 99.1 36.0 99.3 37.2 99.6 37.5 99.6 38.5 99.8 38.8 100.1 40.0 100.6 40.8 100.8 43.5 101.1 43.8 100.8 45.8 99.2 47.6 98.2 48.4 97.5 48.6 96.7 49.4 95.0 50.1 94.0 50.9 92.2 51.4 91.4 52.1 89.7 52.6 86.5 54.1 77.0 53.9 76.7 53.6 74.5 53.6 74.2 53.4 70.0 53.1 68.7 52.6 68.0 52.6 67.7 52.4 65.7 52.4 64.5 51.9 63.7 51.9 63.5 51.6 62.0 51.6 59.2 50.6 58.0 50.6 57.0 50.1 56.0 50.1 55.0 49.6 54.5 49.6 53.5 49.1 52.7 49.1 51.7 48.4 47.2 46.4 46.5 45.6 45.7 45.4 45.0 44.6 44.2 44.4 43.2 43.6 43.1 43.2 42.5 42.9 42.3 42.5 41.7 42.1 40.6 40.8 39.3 39.0 38.8 37.8 37.8 36.8 37.1 35.0 37.1 33.5 36.8 33.2 36.8 27.5 36.6 27.2 36.3 23.2 36.1 23.0 36.1 21.0 35.8 20.5ZM142.2 86.8 143.9 86.7 146.4 88.0 146.5 88.2 147.7 89.5 148.0 90.5 148.5 91.2 148.7 93.8 147.7 96.2 145.2 97.5 142.9 97.5 141.7 96.8 140.7 96.5 139.7 95.5 139.4 95.5 139.2 94.8 138.7 94.2 138.4 92.2 137.9 91.0 137.9 90.0 138.4 89.0 138.7 89.0 139.2 88.2 141.2 87.0 141.9 87.0 142.2 86.8ZM67.3 103.5 67.7 103.4 68.2 103.6 68.8 104.5 68.2 105.6 67.2 105.6 66.6 105.2 66.6 104.0 67.3 103.5ZM73.6 109.0 75.7 108.9 78.2 110.1 79.2 111.1 80.0 111.4 82.0 112.9 83.0 114.1 84.0 114.9 84.7 115.1 86.8 116.8 87.8 119.0 88.3 119.5 88.3 120.2 88.6 120.5 88.6 122.5 88.1 123.8 87.2 124.6 85.2 125.6 83.0 125.6 82.7 125.4 82.0 125.4 80.5 124.6 77.1 121.0 75.8 119.2 75.1 118.8 74.8 118.0 74.1 117.2 72.3 114.0 71.8 111.2 71.6 111.0 71.8 110.8 71.8 110.0 72.3 109.5 72.7 109.1 73.6 109.0ZM50.9 180.0 51.2 180.2 54.2 180.5 54.5 180.7 56.5 180.7 56.7 180.5 57.7 180.5 59.2 181.8 60.5 184.2 60.7 185.3 46.7 185.2 48.2 181.8 49.5 180.5 50.0 180.5 50.9 180.0Z" fill="#3f9c78" fill-rule="evenodd"/><path d="M35.9 20.5 52.5 20.5 52.5 24.5 53.7 26.0 54.2 26.2 60.5 26.2 65.7 25.5 67.2 23.8 67.2 21.5 66.9 21.2 66.9 20.5 90.5 20.5 90.0 24.0 90.7 25.8 91.2 26.2 91.7 26.2 93.2 27.5 94.0 27.7 95.2 29.0 95.7 30.2 96.5 31.0 97.5 33.0 98.2 35.0 99.0 36.0 99.2 37.2 99.5 37.5 99.5 38.5 99.7 38.8 100.0 40.0 100.5 40.8 100.7 43.5 101.0 43.8 100.7 45.8 99.2 47.5 98.2 48.3 97.5 48.5 96.7 49.3 95.0 50.0 94.0 50.8 92.2 51.3 91.5 52.0 91.0 52.0 89.0 53.0 88.5 53.0 86.5 54.0 77.0 53.8 76.7 53.5 74.5 53.5 74.2 53.3 70.0 53.0 68.7 52.5 68.0 52.5 67.7 52.3 65.7 52.3 64.5 51.8 63.7 51.8 63.5 51.5 62.0 51.5 59.2 50.5 58.0 50.5 57.0 50.0 55.2 49.8 53.5 49.0 52.7 49.0 51.7 48.3 47.2 46.3 46.5 45.5 45.7 45.3 45.0 44.5 44.2 44.3 43.2 43.5 43.2 43.2 42.5 42.8 42.4 42.5 41.7 42.0 41.7 41.8 40.7 40.8 39.4 39.0 38.9 37.8 37.9 36.8 37.2 35.0 37.2 33.5 36.9 33.2 36.9 27.5 36.7 27.2 36.4 23.2 36.2 23.0 36.2 21.0 35.9 20.5ZM67.4 103.5 68.2 103.7 68.7 104.5 68.2 105.5 67.2 105.5 66.7 105.2 66.7 104.0 67.4 103.5ZM73.7 109.0 75.7 109.0 78.2 110.2 79.2 111.2 80.0 111.5 80.7 112.2 82.0 113.0 83.0 114.2 86.7 116.8 87.7 119.0 88.2 119.5 88.2 120.2 88.5 120.5 88.5 122.5 88.0 123.8 87.2 124.5 85.2 125.5 83.0 125.5 82.7 125.3 82.0 125.3 80.5 124.5 77.2 121.0 75.9 119.2 75.2 118.8 74.9 118.0 74.2 117.2 72.4 114.0 71.9 111.2 71.7 111.0 72.2 109.8 72.7 109.2 73.5 109.2 73.7 109.0Z" fill="#3a8689" fill-rule="evenodd"/><path d="M85.6 25.0 87.0 24.9 89.2 25.9 92.5 29.0 95.0 33.5 95.5 34.0 96.0 35.0 96.0 35.5 97.0 37.0 97.3 38.2 97.7 39.0 97.8 40.2 98.0 40.5 98.0 41.8 98.3 42.0 98.3 44.0 98.0 44.2 98.0 45.0 97.0 46.2 95.7 47.3 94.7 47.8 94.2 47.8 93.5 48.6 92.0 48.8 90.0 49.6 89.2 49.6 89.0 49.8 88.2 49.9 86.5 50.6 83.5 50.1 82.7 49.7 82.0 49.7 80.0 48.9 79.0 48.9 78.0 48.4 77.0 48.4 75.7 47.9 74.2 47.9 74.0 47.7 71.5 47.4 68.7 46.4 66.7 44.4 65.5 43.9 62.7 43.9 62.0 44.3 61.5 44.3 60.5 44.8 58.5 44.8 58.2 45.1 57.7 44.8 56.5 44.8 55.1 43.8 54.9 43.0 53.8 42.0 52.7 41.1 52.0 41.1 51.2 41.6 50.0 43.1 49.0 43.3 47.7 43.1 46.7 42.3 45.7 42.1 42.7 39.8 39.6 36.5 38.9 34.5 38.9 33.2 38.6 33.0 38.6 30.5 39.1 29.2 39.6 28.8 39.6 28.2 40.1 27.2 42.0 25.6 43.5 25.4 43.7 25.1 46.7 25.1 47.0 25.4 48.5 25.4 48.7 25.6 51.0 25.9 51.7 26.4 52.2 26.5 53.7 27.2 55.2 28.7 55.5 28.7 57.0 30.8 57.8 31.2 58.5 32.2 58.8 32.2 59.0 32.7 60.0 32.9 60.5 32.9 61.7 32.2 63.7 30.4 64.0 30.4 66.0 28.4 66.7 28.2 67.5 27.4 69.7 26.2 70.5 26.1 71.2 25.6 77.2 25.6 77.5 25.8 79.0 25.8 79.2 26.1 81.7 26.1 82.0 25.8 83.2 25.8 85.6 25.0ZM80.3 116.0 82.2 115.9 82.5 116.2 83.0 116.2 83.5 116.6 84.5 116.9 84.6 117.2 85.2 117.6 87.0 119.6 87.3 119.8 87.8 121.0 87.8 122.5 86.0 124.6 85.5 124.8 83.7 124.9 82.2 124.4 80.1 122.5 79.1 120.0 79.1 116.8 79.7 116.1 80.3 116.0Z" fill="#3b5b95" fill-rule="evenodd"/><path d="M77.9 29.5 81.2 29.4 81.5 29.6 83.2 29.9 83.5 30.1 84.5 30.1 87.2 31.8 88.4 33.2 89.9 36.8 90.1 40.2 89.9 40.5 89.9 41.5 89.1 43.0 89.1 43.5 87.7 45.6 86.2 46.4 84.9 46.6 84.2 47.1 80.7 47.1 80.5 46.8 78.7 46.6 76.5 45.6 73.6 43.0 72.6 40.8 72.6 39.5 72.3 39.2 72.0 36.2 72.1 34.5 72.3 34.2 72.3 33.5 73.1 32.0 73.5 31.9 74.5 30.6 76.7 29.7 77.9 29.5ZM44.2 30.8 45.7 30.7 46.0 31.0 46.5 31.0 47.5 31.8 47.5 32.2 47.7 32.5 47.7 34.2 47.5 34.8 46.7 35.5 45.5 36.0 44.5 36.0 43.2 35.5 42.4 34.8 41.9 33.8 42.2 33.5 42.2 32.8 42.9 31.5 44.2 30.8ZM82.7 119.2 84.5 119.2 85.5 120.0 86.0 121.0 86.0 122.0 85.0 123.5 83.5 123.8 82.4 122.8 81.9 121.5 81.9 120.5 82.2 120.2 82.2 119.8 82.7 119.2Z" fill="#3f2b7d" fill-rule="evenodd"/><path d="M82.6 33.8 85.5 33.6 86.0 33.9 86.8 34.8 87.8 36.5 87.8 37.0 88.0 37.2 88.0 41.0 87.5 42.0 86.2 43.1 84.5 43.4 84.2 43.6 82.0 43.4 80.7 42.4 80.0 42.1 79.7 41.7 78.5 40.8 78.5 40.2 78.0 39.8 78.0 37.5 78.8 36.0 80.7 34.3 81.7 33.9 82.6 33.8Z" fill="#2b0c46" fill-rule="evenodd"/><path d="M98.8 20.5 97.8 23.0 97.8 24.8 98.6 26.2 101.3 29.2 103.3 32.2 103.8 33.2 103.8 33.8 105.1 36.0 105.3 37.2 106.0 39.0 106.1 40.2 106.3 40.5 106.3 43.8 106.1 44.0 106.1 45.0 105.6 45.8 105.6 46.2 105.1 47.0 104.8 48.0 101.0 52.1 98.2 53.6 97.7 53.6 97.0 54.4 95.2 54.9 94.2 55.6 93.7 55.6 93.0 56.1 91.7 56.4 91.0 57.1 90.0 57.1 89.2 57.6 88.7 57.6 87.0 58.6 86.0 58.6 85.2 59.1 82.7 59.6 82.0 60.1 81.2 60.1 80.0 60.9 79.2 60.9 78.0 61.6 76.2 61.8 76.0 62.1 74.7 62.1 74.5 62.3 72.0 62.3 71.7 62.1 70.0 62.1 69.2 61.6 68.5 61.6 66.7 60.6 66.0 60.6 64.0 59.6 62.7 58.6 62.0 58.6 60.2 57.6 59.7 57.6 59.0 57.1 58.2 57.1 57.0 56.3 56.2 56.3 54.7 55.6 53.2 55.3 52.5 54.9 51.5 54.6 50.0 53.6 49.0 53.6 47.5 52.9 46.7 52.8 45.5 52.1 44.7 52.1 43.1 50.8 42.1 49.2 41.6 49.0 41.1 48.0 40.4 47.5 39.8 46.5 38.1 44.5 37.8 43.8 36.8 42.8 36.3 41.8 33.0 38.1 32.3 38.5 31.5 39.6 31.1 39.5 30.9 39.0 30.9 37.0 30.6 36.8 30.6 35.8 30.4 35.5 30.1 33.8 29.9 33.5 29.9 32.5 29.6 32.2 29.6 31.0 29.4 30.8 29.4 28.2 29.2 28.1M148.9 20.5 148.9 21.5 149.1 21.8 149.1 35.2 148.9 35.5 148.8 37.0 148.6 37.2 148.4 38.5 147.1 40.5 146.7 40.9 146.2 40.9 145.4 41.7 144.9 41.7 143.9 42.2 142.2 42.2 141.2 41.7 140.7 41.6 139.2 40.6 137.6 38.8 137.5 38.2 136.6 36.5 136.3 35.0 135.8 34.2 135.8 33.2 135.6 33.0 135.5 32.0 135.3 31.8 135.3 30.5 135.0 30.2 135.0 29.0 134.8 28.8 134.5 25.5 134.1 24.2 133.8 20.8 133.6 20.5M134.8 67.8 136.2 67.6 136.4 67.8 137.7 67.9 138.7 68.3 139.9 69.2 141.1 71.5 141.1 73.2 140.1 75.5 138.2 77.1 137.2 77.2 136.9 77.4 134.9 77.4 134.7 77.2 133.4 76.9 132.7 76.4 132.2 76.4 130.3 74.8 129.6 73.8 129.3 73.0 129.3 71.8 130.0 70.8 132.4 68.6 133.2 68.3 133.7 67.8 134.8 67.8M132.5 77.8 134.2 77.6 134.4 77.8 135.4 77.8 136.2 78.3 136.7 78.4 136.9 78.8 138.4 80.0 138.6 81.2 139.4 82.1 140.4 82.1 141.7 81.3 142.7 81.3 142.9 81.1 143.2 81.3 144.2 81.3 144.9 81.8 145.4 81.8 148.2 83.6 149.6 85.0 152.1 89.0 152.4 90.5 152.9 91.5 152.8 94.8 151.8 97.2 150.7 98.4 148.7 99.7 147.4 99.9 146.4 100.4 141.4 100.4 141.2 100.2 139.7 99.9 138.2 99.2 137.7 99.1 134.9 97.4 132.8 95.2 132.8 95.0 131.6 93.8 131.0 92.8 130.1 91.8 129.5 90.5 128.3 88.8 128.0 87.8 127.5 87.0 127.5 86.0 127.3 85.8 127.3 83.0 128.3 81.2 129.3 80.5 130.2 79.1 131.4 78.1 132.5 77.8M43.7 90.0 45.2 90.0 46.0 90.5 46.0 92.8 46.7 93.7 49.0 93.7 49.2 93.5 51.0 93.2 52.2 92.4 54.0 92.4 54.2 92.2 58.0 92.2 58.2 92.4 60.0 92.4 62.0 93.1 64.7 93.6 65.7 94.4 66.5 94.4 67.5 94.9 68.0 95.4 69.2 95.9 70.7 96.9 77.8 103.5 77.8 103.8 87.6 113.5 87.6 113.8 90.8 117.2 91.8 119.2 92.1 122.5 91.3 124.5 90.3 126.0 88.0 127.6 86.5 128.2 82.5 128.2 81.2 127.7 79.0 127.5 77.5 126.7 74.5 126.2 72.0 124.9 71.0 124.9 69.5 124.1 68.7 124.1 67.5 123.4 65.5 123.1 64.2 122.6 62.5 122.6 61.5 121.8 60.2 121.6 59.4 119.8 59.4 117.0 58.0 115.6 55.5 115.3 55.2 115.1 51.2 114.8 50.2 114.3 48.5 114.3 47.2 113.8 45.5 113.8 44.5 113.3 43.0 113.0 42.0 112.3 41.2 112.3 41.0 112.0 40.5 112.0 39.5 111.3 39.0 111.3 37.7 110.0 36.9 108.5 36.9 108.0 36.7 107.8 36.7 106.2 36.4 106.0 36.4 101.2 36.7 101.0 36.9 97.2 37.2 97.0 37.2 94.5 36.9 94.2 37.2 94.0 37.4 92.8 38.5 91.7 39.2 91.7 41.5 90.5 42.5 90.5 43.7 90.0M29.2 181.9 30.9 180.0 31.1 179.2 32.2 178.2 33.5 177.7 36.5 177.4 37.7 176.9 46.0 176.8 46.2 176.6 57.5 176.6 57.7 176.9 60.0 176.9 60.2 177.1 63.7 177.1 64.0 177.3 65.5 177.3 66.2 177.1 71.0 177.1 71.2 176.9 82.7 176.9 83.0 177.1 84.0 177.1 84.2 177.4 86.5 177.4 86.7 177.6 88.0 177.7 89.0 178.2 91.3 180.8 91.3 181.0 94.3 183.8 95.3 185.2M129.3 185.2 129.5 170.8 129.8 170.5 130.1 167.8 131.1 165.5 132.3 163.8 132.7 163.6 133.2 162.9 134.9 162.4 136.2 162.4 138.4 163.9 139.8 165.2 140.3 166.5 141.1 167.5 141.1 168.0 141.3 168.2 141.4 169.8 141.8 171.0 142.1 174.8 142.4 175.0 142.6 177.0 142.9 177.2 143.1 180.5 143.6 181.8 143.8 185.2M95.5 20.5 94.5 23.0 94.5 24.8 95.7 26.5 97.7 28.2 99.5 30.2 102.0 35.5 102.7 39.2 103.0 39.5 103.0 40.2 103.5 41.2 103.5 42.8 103.7 43.0 103.7 44.8 103.5 45.0 103.5 45.8 103.0 47.0 102.0 48.5 101.7 48.5 101.2 49.2 100.5 49.8 100.5 50.0 99.7 50.3 97.5 52.0 96.4 52.3 95.7 53.0 94.7 53.3 94.0 53.8 93.5 53.8 91.5 55.0 90.5 55.0 88.2 56.0 87.2 56.0 86.5 56.5 85.5 56.5 85.2 56.8 83.2 57.0 82.0 57.5 80.5 57.5 80.2 57.8 79.2 57.8 79.0 58.0 73.2 58.0 72.9 57.8 71.5 57.8 71.2 57.5 70.0 57.5 69.7 57.3 68.7 57.3 68.5 57.0 66.7 56.8 64.7 55.8 64.0 55.8 62.7 55.0 62.0 55.0 60.2 54.3 59.0 54.0 58.0 53.3 56.0 53.0 54.5 52.3 53.5 52.3 52.2 51.5 51.2 51.5 50.5 50.8 49.5 50.5 48.2 49.5 47.2 49.3 43.7 46.3 43.5 46.3 42.2 44.8 41.7 44.5 41.7 44.2 41.0 43.8 40.5 43.0 40.2 43.0 40.2 42.8 38.2 40.5 36.2 37.5 36.2 37.0 35.7 36.5 35.7 35.8 35.2 34.5 35.2 32.5 34.9 32.2 34.9 29.2 34.7 29.0 34.7 27.5 34.4 27.2 34.4 26.0 33.9 24.8 33.9 23.8 33.4 22.5 33.4 21.2 33.2 21.0 33.2 20.5M147.5 20.5 147.5 24.0 147.7 24.2 147.7 36.0 147.2 36.8 147.2 37.8 146.0 39.8 144.9 40.5 143.7 40.8 142.4 40.8 141.7 40.3 140.7 40.0 139.4 38.8 138.4 37.0 138.4 36.5 137.7 35.0 137.4 33.2 136.9 32.5 136.7 30.5 136.4 30.2 136.2 27.0 135.9 26.8 135.9 25.0 135.7 24.8 135.7 23.0 135.4 22.8 135.4 20.8 135.2 20.5M135.2 69.0 137.9 69.5 139.0 70.2 140.0 72.0 140.0 73.0 139.2 74.5 136.9 76.0 135.4 76.0 135.2 75.8 134.2 75.8 133.9 75.5 132.7 75.3 131.4 74.0 130.7 72.8 130.7 72.0 131.9 70.5 133.9 69.2 134.9 69.2 135.2 69.0M132.9 79.0 135.2 79.2 136.9 80.2 138.9 83.4 140.4 83.4 141.7 82.7 142.7 82.7 142.9 82.5 143.4 82.5 144.7 83.2 145.2 83.2 146.2 83.7 149.5 87.0 150.5 89.0 151.0 89.5 151.0 90.5 151.5 92.0 151.3 95.0 150.5 96.8 149.7 97.6 148.2 98.6 147.2 98.6 146.2 99.1 141.7 99.1 137.7 97.6 135.7 96.3 134.4 94.8 133.7 94.2 132.6 92.5 130.2 89.5 128.9 87.0 128.9 86.0 128.7 85.8 128.7 83.0 129.4 81.5 130.9 80.0 132.9 79.0M59.4 95.5 62.5 95.5 62.7 95.7 64.5 95.7 65.2 96.2 67.7 97.0 68.5 97.7 69.5 98.2 72.7 101.5 75.0 104.5 78.7 108.5 79.0 108.5 82.5 111.7 83.0 111.7 87.0 115.5 87.7 116.8 89.2 118.2 90.0 119.8 90.0 122.8 89.7 123.0 89.7 123.8 88.7 125.5 85.7 127.3 83.7 127.5 83.5 127.8 81.7 127.8 81.5 127.5 80.7 127.5 80.0 127.0 79.0 127.0 77.7 126.3 77.2 126.3 75.5 125.3 75.0 125.3 74.0 124.8 73.2 124.0 72.7 124.0 70.7 122.3 70.5 122.3 68.5 120.3 68.2 120.3 64.7 116.8 64.7 116.5 62.7 114.5 62.7 114.2 60.7 112.2 60.4 111.5 59.7 110.8 59.4 109.8 58.4 108.2 58.2 106.5 57.2 104.2 56.9 101.2 56.7 101.0 56.7 99.2 56.4 99.0 56.7 96.8 57.0 96.7 57.4 96.0 58.0 95.7 59.2 95.7 59.4 95.5M34.9 185.2 35.9 183.0 39.1 179.5 39.5 179.4 40.7 178.2 42.7 178.0 43.0 177.7 43.2 178.0 45.7 178.0 46.0 178.2 58.7 178.6 59.0 178.9 66.0 178.7 66.2 178.5 77.7 178.5 79.0 179.0 82.0 179.0 82.2 179.2 84.0 179.2 85.0 179.7 85.7 179.7 89.2 183.2 90.7 185.2M130.9 185.2 130.9 184.0 130.7 183.8 130.7 178.0 130.9 177.8 130.9 170.2 131.2 170.0 131.2 169.0 132.7 165.8 134.2 164.2 135.4 164.0 136.4 164.2 138.2 165.8 140.2 169.8 140.2 171.2 140.7 172.5 140.7 174.8 141.0 175.0 141.2 177.2 141.5 177.5 141.5 178.8 141.7 179.0 141.7 181.2 142.0 181.5 142.2 185.2M52.6 20.5 52.6 24.5 52.8 25.0 54.2 26.1 56.5 26.1 61.5 26.1 61.7 25.9 63.2 25.9 63.5 25.6 65.7 25.4 67.1 23.8 67.1 21.5 66.8 21.2 66.8 20.5M90.6 20.5 90.1 24.0 90.8 25.8 91.2 26.1 91.7 26.1 93.2 27.4 93.9 27.6 95.3 29.0 95.8 30.2 96.6 31.0 97.3 32.5 98.3 35.0 99.1 36.0 99.3 37.2 99.6 37.5 99.6 38.5 99.8 38.8 100.1 40.0 100.6 40.8 100.8 43.5 101.1 43.8 100.8 45.8 99.3 47.5 98.2 48.4 97.5 48.6 96.7 49.4 95.0 50.1 94.5 50.6 93.5 50.9 92.7 51.4 92.2 51.4 91.4 52.1 89.7 52.6 86.5 54.1 82.0 54.1 81.7 53.9 77.0 53.9 76.7 53.6 74.5 53.6 74.2 53.4 70.0 53.1 68.7 52.6 68.0 52.6 67.7 52.4 65.7 52.4 64.5 51.9 63.7 51.9 63.5 51.6 61.0 51.4 59.2 50.6 58.0 50.6 57.0 50.1 56.0 50.1 53.5 49.1 52.7 49.1 51.7 48.4 47.2 46.4 46.5 45.6 44.2 44.4 43.2 43.6 42.7 42.9 42.5 42.9 42.3 42.5 41.7 42.1 40.6 40.8 39.3 39.0 38.8 37.8 37.8 36.8 37.3 35.8 37.3 35.2 37.1 35.0 37.1 33.5 36.8 33.2 36.8 27.5 36.6 27.2 36.3 23.2 36.1 23.0 36.1 21.0 35.8 20.5M142.2 86.8 143.9 86.7 146.4 88.0 146.5 88.2 147.7 89.5 148.0 90.5 148.5 91.2 148.7 93.8 147.7 96.2 145.2 97.5 142.9 97.5 141.7 96.8 140.7 96.5 139.7 95.5 139.4 95.5 139.2 94.8 138.7 94.2 138.4 92.2 137.9 91.0 137.9 90.0 138.4 89.0 138.7 89.0 139.2 88.2 141.2 87.0 141.9 87.0 142.2 86.8M67.3 103.5 67.7 103.4 68.2 103.6 68.8 104.5 68.2 105.6 67.2 105.6 66.6 105.2 66.6 104.0 67.3 103.5M73.6 109.0 75.7 108.9 78.2 110.1 79.2 111.1 80.0 111.4 82.0 112.9 83.0 114.1 84.0 114.9 84.7 115.1 86.8 116.8 87.8 119.0 88.3 119.5 88.3 120.2 88.6 120.5 88.6 122.5 88.1 123.8 87.2 124.6 85.2 125.6 83.0 125.6 82.7 125.4 82.0 125.4 80.5 124.6 77.1 121.0 75.8 119.2 75.1 118.8 74.8 118.0 74.1 117.2 72.3 114.0 71.8 111.2 71.6 111.0 71.8 110.8 71.8 110.0 72.3 109.5 72.7 109.1 73.6 109.0M46.7 185.2 48.2 181.8 49.5 180.5 50.0 180.5 51.0 180.0 51.2 180.2 52.7 180.2 53.0 180.5 54.2 180.5 54.5 180.7 56.5 180.7 56.7 180.5 57.7 180.5 59.2 181.8 60.5 184.2 60.7 185.2M52.5 20.5 52.5 24.5 53.7 26.0 54.2 26.2 60.5 26.2 65.7 25.5 67.2 23.8 67.2 21.5 66.9 21.2 66.9 20.5M90.5 20.5 90.2 22.8 90.0 23.0 90.2 24.8 91.2 26.2 91.7 26.2 92.5 27.0 94.0 27.8 95.2 29.0 95.7 30.2 96.5 31.0 98.0 34.0 98.0 34.5 99.0 36.0 99.2 37.2 99.5 37.5 99.5 38.5 99.7 38.8 100.0 40.0 100.5 40.8 100.5 42.0 100.7 42.2 101.0 44.8 100.7 45.0 100.7 45.8 99.7 46.8 99.7 47.0 96.7 49.3 95.0 50.0 94.0 50.8 92.2 51.3 91.5 52.0 91.0 52.0 89.0 53.0 88.5 53.0 86.5 54.0 85.7 54.0 77.0 53.8 76.7 53.5 74.5 53.5 74.2 53.3 71.7 53.3 71.5 53.0 70.0 53.0 68.7 52.5 68.0 52.5 67.7 52.3 65.7 52.3 64.5 51.8 63.7 51.8 63.5 51.5 62.0 51.5 59.2 50.5 58.0 50.5 57.0 50.0 55.2 49.8 53.5 49.0 52.7 49.0 51.7 48.3 47.2 46.3 45.0 44.5 44.2 44.3 43.2 43.5 42.7 42.8 42.5 42.8 42.4 42.5 41.7 42.0 41.7 41.8 40.7 40.8 39.4 39.0 38.9 37.8 37.9 36.8 37.4 35.8 37.4 35.2 37.2 35.0 37.2 33.5 36.9 33.2 36.9 27.5 36.7 27.2 36.4 23.2 36.2 23.0 36.2 21.0 35.9 20.5M67.4 103.5 68.2 103.7 68.7 104.5 68.2 105.5 67.2 105.5 66.7 105.2 66.7 104.0 67.4 103.5M73.7 109.0 75.7 109.0 78.2 110.2 79.2 111.2 80.0 111.5 80.7 112.2 82.0 113.0 83.0 114.2 86.7 116.8 87.7 119.0 88.2 119.5 88.2 120.2 88.5 120.5 88.5 122.5 88.0 123.8 87.2 124.5 85.2 125.5 83.0 125.5 82.7 125.3 82.0 125.3 80.5 124.5 77.2 121.0 75.9 119.2 75.2 118.8 74.9 118.0 74.2 117.2 72.4 114.0 71.9 111.2 71.7 111.0 72.2 109.8 72.7 109.2 73.5 109.2 73.7 109.0M85.6 25.0 87.0 24.9 89.2 25.9 92.5 29.0 95.0 33.5 95.5 34.0 96.0 35.0 96.0 35.5 97.0 37.0 97.3 38.2 97.7 39.0 97.8 40.2 98.0 40.5 98.0 41.8 98.3 42.0 98.3 44.0 98.0 44.2 98.0 45.0 97.0 46.2 95.7 47.3 94.7 47.8 94.2 47.8 93.5 48.6 92.0 48.8 90.0 49.6 89.2 49.6 89.0 49.8 88.2 49.9 86.5 50.6 83.5 50.1 82.7 49.7 82.0 49.7 80.0 48.9 79.0 48.9 78.0 48.4 77.0 48.4 75.7 47.9 74.2 47.9 74.0 47.7 71.5 47.4 68.7 46.4 66.7 44.4 65.5 43.9 62.7 43.9 62.0 44.3 61.5 44.3 60.5 44.8 58.5 44.8 58.2 45.1 57.7 44.8 56.5 44.8 55.1 43.8 54.9 43.0 53.8 42.0 52.7 41.1 52.0 41.1 51.2 41.6 50.0 43.1 49.0 43.3 47.7 43.1 46.7 42.3 45.7 42.1 42.7 39.8 39.6 36.5 38.9 34.5 38.9 33.2 38.6 33.0 38.6 30.5 39.1 29.2 39.6 28.8 39.6 28.2 40.1 27.2 42.0 25.6 43.5 25.4 43.7 25.1 46.7 25.1 47.0 25.4 48.5 25.4 48.7 25.6 51.0 25.9 51.7 26.4 52.2 26.5 53.7 27.2 55.2 28.7 55.5 28.7 57.0 30.8 57.8 31.2 58.5 32.2 58.8 32.2 59.0 32.7 60.0 32.9 60.5 32.9 61.7 32.2 63.7 30.4 64.0 30.4 66.0 28.4 66.7 28.2 67.5 27.4 69.7 26.2 70.5 26.1 71.2 25.6 77.2 25.6 77.5 25.8 79.0 25.8 79.2 26.1 81.7 26.1 82.0 25.8 83.2 25.8 85.6 25.0M80.3 116.0 82.2 115.9 82.5 116.2 83.0 116.2 83.5 116.6 84.5 116.9 84.6 117.2 85.2 117.6 87.0 119.6 87.3 119.8 87.8 121.0 87.8 122.5 86.0 124.6 85.5 124.8 83.7 124.9 82.2 124.4 80.1 122.5 79.1 120.0 79.1 116.8 79.7 116.1 80.3 116.0M77.9 29.5 81.2 29.4 81.5 29.6 83.2 29.9 83.5 30.1 84.5 30.1 87.2 31.8 88.4 33.2 89.9 36.8 90.1 40.2 89.9 40.5 89.9 41.5 89.1 43.0 89.1 43.5 87.7 45.6 86.2 46.4 84.9 46.6 84.2 47.1 80.7 47.1 80.5 46.8 78.7 46.6 76.5 45.6 73.6 43.0 72.6 40.8 72.6 39.5 72.3 39.2 72.0 36.2 72.1 34.5 72.3 34.2 72.3 33.5 73.1 32.0 73.5 31.9 74.5 30.6 76.7 29.7 77.9 29.5M44.2 30.8 45.7 30.7 46.0 31.0 46.5 31.0 47.5 31.8 47.5 32.2 47.7 32.5 47.7 34.2 47.5 34.8 46.7 35.5 45.5 36.0 44.5 36.0 43.2 35.5 42.4 34.8 41.9 33.8 42.2 33.5 42.2 32.8 42.9 31.5 44.2 30.8M82.7 119.2 84.5 119.2 85.5 120.0 86.0 121.0 86.0 122.0 85.0 123.5 83.5 123.8 82.4 122.8 81.9 121.5 81.9 120.5 82.2 120.2 82.2 119.8 82.7 119.2M82.6 33.8 85.5 33.6 86.0 33.9 86.8 34.8 87.8 36.5 87.8 37.0 88.0 37.2 88.0 41.0 87.5 42.0 86.2 43.1 84.5 43.4 84.2 43.6 82.0 43.4 80.7 42.4 80.0 42.1 79.7 41.7 78.5 40.8 78.5 40.2 78.0 39.8 78.0 37.5 78.8 36.0 80.7 34.3 81.7 33.9 82.6 33.8" fill="none" stroke="#2e2a18" stroke-width="0.6" stroke-linejoin="round"/></g>
<g clip-path="url(#cb)"><rect x="32.2" y="277.3" width="159.5" height="158.8" fill="#f0e724"/><path d="M30.2 295.1 30.7 295.4 32.2 294.6 33.2 294.7 34.2 295.7 35.4 297.8 38.2 300.5 40.7 302.0 43.6 303.3 45.2 304.7 46.7 304.1 49.2 303.9 50.2 304.2 51.9 305.8 53.7 306.4 57.2 306.0 60.7 307.3 68.2 306.8 73.3 308.3 74.2 308.1 76.2 305.9 77.7 305.2 83.7 304.8 90.3 303.3 90.8 302.8 90.8 301.8 89.6 300.3 89.4 299.3 91.0 296.3 91.6 293.8 91.2 292.6 89.2 292.3 88.4 291.8 87.2 289.8 85.2 288.0 84.2 285.8 83.7 285.3 80.7 284.6 78.7 283.2 77.2 282.5 72.7 281.3 70.7 281.1 70.1 280.8 68.9 278.8 67.7 277.9 56.7 277.1 54.7 277.7 52.2 279.2 50.7 279.4 48.5 278.3 47.2 276.1 44.2 275.5 42.7 275.5 41.2 276.1 40.4 278.3 39.7 278.8 37.7 278.9 35.7 279.6 33.6 279.8 32.6 280.3 32.2 280.8 32.0 283.8 31.0 287.3 30.2 288.5M34.7 325.6 34.3 325.8 34.7 325.9 34.7 325.6M56.7 340.3 55.4 341.3 55.4 341.8 56.2 342.8 57.7 343.3 60.2 343.0 61.7 343.5 62.2 343.3 60.2 342.6 57.7 340.7 56.7 340.3M45.7 347.7 45.7 348.1 45.7 347.7M71.1 438.3 70.2 437.5 67.7 438.0 66.7 437.5 65.6 435.8 65.9 433.8 65.7 433.3 64.7 432.9 63.4 433.3 60.8 436.3 59.2 437.2 57.7 437.0 53.2 435.0 52.2 435.2 49.2 437.1 47.7 436.8 44.7 435.0 41.2 434.9 38.7 435.4 36.2 437.4 32.7 437.7 31.2 437.5 30.2 437.8M79.1 438.3 78.7 438.1 77.5 438.3M39.5 275.3 38.7 275.8 37.8 277.3 36.6 278.3 35.2 278.8 32.7 279.1 31.1 280.3 30.9 281.3 31.4 283.3 30.2 286.7M30.2 297.1 32.7 297.1 35.7 299.3 37.8 301.3 42.6 303.8 43.4 304.8 44.7 307.7 45.7 308.5 46.7 307.8 47.9 305.8 49.2 305.4 53.7 307.2 57.2 307.5 59.2 309.4 60.2 309.8 61.2 309.4 62.7 308.1 64.2 307.8 70.2 308.3 73.7 309.1 75.2 308.6 76.7 306.9 77.7 306.4 83.2 305.8 86.7 304.7 90.7 304.3 91.4 303.8 92.0 302.3 91.7 298.8 92.5 295.3 92.3 292.3 91.2 291.0 89.1 290.8 88.1 289.3 85.8 287.3 84.2 284.5 81.2 283.6 77.7 281.6 74.7 281.0 71.2 279.7 67.7 277.4 63.2 277.2 56.7 276.4 52.7 276.6 49.1 275.3M42.2 311.7 41.2 312.3 41.4 312.8 42.2 313.4 43.2 313.6 43.6 313.3 43.4 312.3 42.2 311.7M30.2 313.5 30.9 313.3 31.4 312.3 31.2 311.7 30.2 311.3M52.7 318.0 51.8 319.3 52.1 320.3 52.7 320.9 54.7 321.8 56.2 323.2 57.2 322.7 59.6 320.3 59.7 319.8 56.7 319.3 54.2 318.0 52.7 318.0M42.7 320.7 42.2 320.9 41.4 322.8 39.8 324.3 39.9 325.3 41.2 326.3 42.2 326.2 44.8 323.8 44.8 322.8 44.4 321.8 43.7 321.1 42.7 320.7M34.2 323.8 32.5 325.3 32.1 326.3 32.6 326.8 34.7 327.6 36.2 327.3 36.8 326.3 36.6 325.3 35.2 323.7 34.2 323.8M33.2 330.6 32.6 331.3 33.0 331.8 33.7 331.9 34.3 331.3 34.2 330.8 33.2 330.6M50.7 334.5 50.0 335.8 49.9 337.8 51.2 340.7 51.8 343.3 52.7 344.3 56.2 345.6 58.7 345.6 59.5 347.3 60.2 347.8 61.2 348.0 66.0 343.8 66.1 342.8 65.2 341.9 60.7 341.1 59.3 340.3 58.7 339.3 59.0 336.8 58.7 336.6 55.7 337.3 54.2 338.4 53.2 338.5 52.3 337.8 51.7 334.5 51.2 334.3 50.7 334.5M66.2 336.1 65.3 336.8 65.2 337.3 65.7 338.3 66.2 338.2 66.7 336.9 66.7 336.0 66.2 336.1M42.2 336.8 41.5 337.3 41.9 338.3 42.7 338.8 43.7 338.6 44.0 337.8 43.6 337.3 42.2 336.8M30.2 338.6 32.2 338.3 34.0 337.3 34.2 336.8 32.7 336.2 30.2 336.4M44.2 343.3 43.9 343.8 43.9 345.8 43.3 348.8 44.2 349.8 45.7 349.9 46.7 349.3 47.2 348.3 46.8 344.8 46.0 343.8 44.2 343.3M78.7 357.3 78.2 357.5 77.2 358.8 78.7 358.7 79.0 357.8 78.7 357.3M79.7 363.7 79.7 364.3 80.2 364.6 80.6 364.3 80.6 363.8 80.2 363.4 79.7 363.7M73.2 436.8 73.8 437.3 73.8 437.8 73.2 438.1 72.6 437.8 72.7 437.2 73.2 436.8M80.9 438.3 80.8 436.8 81.9 434.3 81.7 433.5 81.2 433.1 80.2 432.9 79.2 433.1 73.7 436.2 73.2 436.1 70.7 433.6 70.2 433.8 69.2 435.5 68.2 436.1 67.7 435.9 67.4 435.3 67.5 433.3 66.2 432.2 64.7 431.8 63.2 431.9 59.9 433.3 59.3 435.3 58.7 435.8 57.7 435.8 54.7 434.4 53.2 434.1 51.7 434.4 49.7 436.0 48.7 436.2 47.9 435.8 47.2 434.8 48.0 430.3 47.7 429.3 46.7 428.7 45.2 429.8 43.7 432.8 42.7 433.7 37.2 434.7 34.7 434.5 32.7 435.5 30.2 435.5M37.7 275.3 36.7 276.8 35.7 277.7 32.7 278.1 30.2 279.6M183.2 282.2 182.1 282.8 181.2 283.8 181.3 284.8 182.7 285.6 184.7 285.0 185.6 283.8 184.7 282.4 183.2 282.2M193.7 282.7 192.2 283.2 191.3 283.8 191.9 284.8 193.7 285.4M30.2 283.0 30.2 283.9M189.7 290.8 185.7 296.3 185.8 297.3 187.1 298.8 187.7 301.1 188.2 301.5 189.2 301.3 190.2 300.4 191.1 296.3 191.2 294.3 190.7 291.5 190.2 290.7 189.7 290.8M30.2 298.5 34.7 299.8 37.7 302.3 41.8 304.3 42.9 305.8 43.3 308.3 43.1 309.3 42.7 309.8 39.2 310.7 38.5 311.3 36.5 315.3 36.4 316.3 37.0 318.3 36.2 318.7 33.7 318.0 32.3 316.3 32.2 315.3 33.2 309.8 30.2 309.8M193.7 307.1 192.7 307.3 192.1 308.3 192.6 309.8 193.7 310.4M46.7 314.2 46.4 314.3 46.5 314.8 47.7 317.4 48.2 317.6 49.2 316.7 49.8 315.3 49.5 314.8 48.3 314.3 46.7 314.2M30.2 317.6 32.7 320.1 33.6 321.8 33.5 322.8 32.3 324.3 31.2 325.1 30.2 325.5M30.2 331.1 32.6 333.8 32.6 334.3 32.0 334.8 30.2 335.3M61.7 336.8 62.7 336.8 63.5 337.8 63.9 339.3 63.2 340.1 61.2 340.1 60.3 339.3 60.6 337.8 61.7 336.8M38.6 337.3 39.2 337.4 40.2 338.4 40.6 339.8 40.2 340.3 38.7 340.6 37.2 340.3 37.0 339.8 37.5 338.3 38.6 337.3M30.2 340.4 34.2 339.8 35.8 340.3 36.1 340.8 35.2 342.1 33.2 341.4 33.0 342.3 33.7 342.7 34.7 342.6 37.2 345.5 40.8 346.3 41.2 347.3 40.7 348.3 37.7 347.7 36.7 348.2 36.4 348.8 36.8 349.8 38.7 351.3 39.7 351.5 41.7 350.9 45.2 350.8 46.7 350.4 47.8 348.8 48.4 345.3 49.2 344.6 53.4 346.8 55.7 348.9 59.2 349.3 61.0 350.3 63.2 352.2 64.7 352.1 65.4 351.3 65.6 350.3 64.3 347.8 64.8 346.8 67.2 345.0 68.0 343.8 68.3 342.3 67.9 338.3 69.0 335.3 69.1 334.3 68.7 333.1 67.7 332.4 65.7 333.9 64.7 334.0 64.1 331.8 63.2 331.0 62.2 331.2 60.7 332.6 59.7 333.0 58.7 332.7 58.2 332.1 57.4 328.8 58.1 326.8 58.0 324.3 59.2 322.7 62.1 321.3 62.3 320.3 61.7 319.0 60.7 317.7 59.7 317.2 57.2 317.9 54.2 317.0 52.7 316.8 51.7 317.2 50.7 318.3 50.3 319.3 50.5 320.8 51.2 321.6 53.2 322.8 54.8 324.8 56.6 326.3 56.7 327.3 55.7 328.3 54.7 328.3 52.2 325.7 50.7 325.1 49.5 326.3 50.0 328.3 49.7 329.1 47.2 329.2 46.2 330.0 45.2 332.3 45.2 333.3 45.7 334.1 47.8 335.3 48.1 336.8 48.1 339.8 48.7 341.8 46.7 341.8 45.8 341.3 45.6 340.8 46.4 339.3 46.1 337.8 44.7 336.0 42.1 335.3 39.2 333.6 37.7 333.6 35.7 334.3 34.8 333.8 35.7 332.4 37.6 330.8 41.7 329.4 42.7 328.8 44.1 326.3 45.7 325.2 46.3 324.3 46.2 321.8 46.5 319.3 43.7 318.3 41.0 316.3 40.6 315.3 41.2 314.9 43.7 315.4 45.7 314.3 46.0 313.8 45.6 312.3 45.7 311.3 48.2 307.4 49.2 306.7 56.7 308.6 59.2 311.4 60.2 311.6 61.2 311.2 63.2 309.0 64.2 308.6 67.7 309.1 70.2 309.1 73.2 309.7 74.7 309.6 75.7 309.3 78.2 307.3 83.2 306.6 86.7 305.3 91.2 305.0 92.1 304.3 92.6 303.3 93.3 300.3 93.3 298.3 93.9 295.8 92.8 291.3 91.7 289.6 89.2 288.7 86.7 287.1 84.7 283.7 81.7 282.9 78.0 280.8 74.2 279.9 67.7 276.8 62.2 276.7 56.7 275.7 52.2 275.3M30.2 348.8 31.3 348.3 31.1 347.8 30.2 347.6M69.7 351.5 69.5 352.3 70.2 353.3 70.3 351.8 69.7 351.5M51.2 352.8 50.1 353.3 50.2 353.8 52.2 355.6 53.7 355.7 54.8 354.8 54.8 353.8 54.2 353.0 53.2 352.7 51.2 352.8M70.7 353.6 70.5 354.3 71.2 355.8 72.2 356.7 73.2 356.7 73.8 355.8 73.5 354.8 70.7 353.6M77.2 354.0 76.6 354.8 76.5 356.3 73.8 358.3 73.6 359.8 74.1 360.8 76.8 362.3 79.2 366.2 80.7 366.6 81.4 366.3 82.1 365.3 82.7 363.3 82.6 362.3 80.9 359.8 80.5 357.3 79.3 354.8 78.2 354.0 77.2 354.0M54.7 420.1 53.7 420.9 52.3 422.8 52.2 423.3 52.7 423.8 54.2 424.7 55.2 424.4 56.7 423.3 57.1 422.3 56.9 421.3 56.2 420.4 54.7 420.1M69.2 420.8 67.0 421.8 66.7 422.8 67.0 423.3 68.7 423.6 70.5 422.8 70.9 422.3 70.9 421.3 70.2 420.8 69.2 420.8M83.5 438.3 82.7 437.6 82.4 436.8 83.0 434.3 82.7 432.8 81.7 431.9 79.7 431.2 78.2 429.1 77.2 429.3 76.9 429.8 77.0 432.3 75.8 433.8 74.2 434.5 73.2 434.3 72.7 433.9 72.3 432.3 73.9 429.3 73.5 427.8 72.7 427.1 69.9 429.3 68.2 431.4 67.2 431.4 65.7 430.7 64.2 430.4 62.7 430.5 60.2 431.2 59.2 430.9 58.6 430.3 58.6 429.3 59.9 427.3 60.0 425.8 59.7 424.7 58.7 423.9 58.2 424.1 57.2 425.8 55.7 426.4 54.9 427.3 54.3 429.8 54.7 431.8 54.6 432.3 53.7 432.7 50.2 432.8 50.2 432.3 51.4 430.8 51.6 429.8 49.8 426.3 49.6 424.3 49.3 423.8 47.2 423.1 44.2 423.8 42.7 421.8 41.7 421.2 41.2 421.3 40.7 422.3 41.1 424.8 41.7 425.4 43.7 425.8 44.3 426.3 44.7 427.3 44.2 428.9 42.4 430.8 41.7 432.3 39.7 433.3 35.2 432.8 30.2 433.9M36.6 275.3 35.2 276.6 34.2 276.8 32.7 276.5 31.9 275.3M30.2 277.0 30.6 277.3 30.2 278.3M193.7 282.0 191.2 282.2 188.2 281.0 186.7 281.5 184.7 280.4 183.7 280.3 180.7 282.8 180.2 284.3 180.7 286.0 182.2 288.3 182.7 288.4 185.2 286.2 187.2 285.4 191.7 286.5 193.7 286.5M190.7 288.3 189.7 288.8 186.7 292.9 184.3 295.3 184.3 297.8 185.6 299.8 185.9 300.8 185.3 302.3 183.3 303.8 183.6 305.3 184.7 306.4 185.7 306.0 188.4 303.3 191.2 302.1 191.8 301.3 191.6 299.3 192.5 296.3 191.5 289.8 191.2 288.8 190.7 288.3M182.2 292.2 181.7 292.8 182.2 293.0 182.2 292.2M104.7 300.0 104.5 300.3 104.7 301.8 105.7 302.7 106.2 302.4 106.2 301.8 104.7 300.0M30.2 303.7 31.0 303.3 31.5 301.8 32.2 300.9 33.7 300.6 35.2 301.3 37.8 304.3 37.7 304.8 36.8 305.8 35.2 306.8 32.2 307.4 30.2 306.7M39.9 305.3 41.2 305.4 41.9 306.3 42.1 307.8 41.2 308.9 40.2 309.0 39.4 308.3 39.3 306.3 39.9 305.3M193.7 305.4 192.7 305.4 191.7 305.9 191.1 306.8 190.8 308.8 191.2 310.3 193.2 313.5 193.7 313.9M49.4 307.8 50.7 307.6 52.2 307.9 56.4 310.3 57.1 311.8 56.4 313.8 56.2 315.8 55.2 315.8 53.7 315.3 53.1 314.3 53.1 312.3 52.5 311.8 50.7 311.7 48.7 312.4 47.9 311.8 47.9 310.3 48.7 308.5 49.4 307.8M113.7 308.6 113.5 309.8 114.2 310.0 114.3 308.8 113.7 308.6M185.2 308.7 182.7 310.5 180.3 310.8 180.3 311.3 181.3 313.3 182.2 314.1 183.7 314.2 187.0 311.3 186.6 309.8 185.2 308.7M34.7 312.3 35.2 311.9 35.8 312.3 35.6 313.3 34.7 314.0 34.5 313.3 34.7 312.3M30.2 320.2 31.7 321.0 32.5 322.3 31.8 323.8 30.2 324.6M191.7 321.2 190.6 321.8 190.7 322.3 191.7 322.7 193.3 322.3 193.5 321.8 191.7 321.2M30.2 343.4 33.7 345.0 34.2 345.4 34.6 346.3 34.4 346.8 33.7 347.0 31.7 346.4 30.2 346.3M69.2 345.3 69.7 345.3 70.7 346.0 71.4 346.8 71.5 347.8 69.2 349.5 67.7 350.0 66.7 349.2 66.2 347.8 66.9 346.8 69.2 345.3M30.2 350.2 35.7 350.7 41.2 353.7 43.2 352.1 47.7 351.2 49.2 347.4 49.7 346.9 50.7 347.0 52.9 348.3 55.2 351.2 57.7 350.5 59.0 350.8 61.2 354.0 62.2 354.3 65.7 354.3 67.7 355.0 69.0 356.3 69.8 358.3 71.2 359.8 72.3 361.8 75.7 363.2 77.0 364.8 78.2 367.1 79.1 367.8 80.7 367.9 82.4 367.3 84.2 365.5 86.2 366.6 87.2 366.3 88.1 365.3 88.1 364.3 87.7 363.7 82.5 359.3 80.8 355.8 79.2 353.6 77.7 352.8 73.7 352.6 72.5 351.8 71.9 347.8 72.9 345.8 73.0 344.3 72.2 343.1 70.2 342.6 69.2 340.3 68.9 338.3 70.1 335.8 70.3 334.8 69.8 332.3 68.9 330.8 67.7 329.9 65.2 330.3 63.2 328.7 62.7 328.7 60.2 330.6 59.5 330.3 59.2 329.3 61.4 325.8 64.2 325.9 65.0 325.3 65.4 324.3 65.3 323.3 62.7 318.3 63.0 317.3 65.2 316.6 66.1 315.8 65.7 314.6 63.2 313.0 62.7 312.3 62.8 311.3 63.7 309.8 64.7 309.4 67.7 310.0 70.2 309.7 73.2 310.2 75.2 310.2 76.3 309.8 78.3 308.3 83.2 307.4 86.2 306.0 90.7 305.9 91.7 305.6 92.8 304.3 94.6 300.3 95.7 295.8 92.7 289.3 91.5 288.3 87.2 286.4 85.2 283.0 81.7 282.2 78.6 280.3 74.7 279.4 68.2 276.5 66.2 276.2 60.2 276.1 57.6 275.3M48.7 351.6 47.9 352.3 47.2 354.9 46.2 355.7 44.7 356.0 43.7 355.7 41.2 353.9 40.9 355.3 41.7 356.5 44.7 357.5 47.1 359.8 48.2 360.4 48.7 360.3 48.9 359.8 48.9 358.8 48.1 356.3 48.7 355.6 49.7 355.5 52.2 356.7 54.7 356.8 55.3 357.3 56.2 359.2 57.7 358.9 58.7 357.8 59.4 354.8 58.7 354.1 56.7 353.5 55.2 351.5 50.7 351.3 48.7 351.6M33.2 353.8 32.5 354.8 32.3 356.3 32.9 357.3 34.2 357.5 35.4 356.8 35.7 356.3 35.8 355.3 35.2 354.2 34.2 353.4 33.2 353.8M54.2 400.0 53.5 402.3 52.4 403.8 52.1 404.8 52.6 405.8 54.2 407.2 55.2 407.4 55.7 407.1 56.9 405.3 57.7 404.8 59.7 404.9 63.2 405.9 64.9 405.3 65.1 404.8 63.7 403.3 63.2 401.1 62.7 400.4 61.7 400.2 60.7 400.5 56.7 402.6 56.0 402.3 55.2 400.7 54.2 400.0M89.2 430.8 88.2 431.2 87.9 431.8 88.0 432.8 88.7 433.4 89.7 432.9 90.3 431.8 90.2 431.2 89.2 430.8M73.7 432.3 74.7 431.8 75.0 432.3 74.8 432.8 74.2 433.2 73.7 432.9 73.7 432.3M86.1 438.3 83.9 435.8 84.2 434.0 85.6 430.3 83.7 425.3 83.2 425.2 80.2 426.4 78.2 426.4 76.2 427.5 75.2 427.4 74.0 425.3 72.6 423.8 72.2 420.7 71.4 419.8 70.7 419.5 69.2 419.5 67.7 420.1 65.8 421.3 65.3 422.3 65.5 423.8 66.7 424.8 67.7 424.9 70.7 424.3 71.7 424.4 72.0 424.8 71.5 426.3 70.6 427.3 69.2 428.0 66.2 427.3 63.7 427.8 62.2 427.4 61.4 424.3 59.7 421.3 56.2 419.0 54.2 418.5 51.9 420.3 49.2 421.6 48.0 421.3 47.2 420.4 46.7 420.3 44.7 421.3 41.7 420.0 40.3 420.3 39.7 421.8 39.9 425.3 40.5 426.3 41.9 427.3 42.1 427.8 38.2 430.8 35.2 431.2 34.6 430.8 34.0 428.8 32.2 428.1 30.2 428.0M186.2 275.3 185.9 276.8 185.2 277.6 184.2 277.7 182.2 276.8 181.7 276.9 181.1 278.3 181.3 280.3 179.6 283.3 179.5 285.3 180.5 289.8 179.5 293.8 180.2 295.0 182.3 296.3 182.7 298.3 182.2 299.3 180.2 300.3 179.7 301.8 180.2 302.8 183.4 306.8 183.5 307.8 182.7 308.8 179.7 309.0 177.9 309.8 177.6 310.3 178.2 312.3 178.1 314.8 178.7 315.2 183.7 316.3 186.2 314.2 187.2 313.7 188.2 313.9 189.2 314.7 189.8 314.3 189.8 313.3 190.2 312.5 191.2 313.0 192.0 314.8 192.7 315.3 193.7 315.5M193.7 281.1 191.2 281.0 190.2 280.3 189.1 277.8 189.4 275.3M185.8 287.8 186.7 287.3 187.2 287.4 188.0 288.3 187.3 289.8 186.2 290.6 185.7 290.6 185.3 289.8 185.8 287.8M193.7 295.2 192.8 293.3 192.4 289.8 192.7 288.3 193.7 287.7M102.7 297.1 101.7 297.8 101.5 298.8 104.1 303.3 105.2 304.1 107.2 304.9 109.1 306.8 109.9 306.8 110.3 305.8 110.2 303.2 107.7 301.5 104.7 297.5 103.7 296.9 102.7 297.1M34.0 302.3 34.7 302.6 35.1 303.3 35.2 304.0 34.7 304.6 34.1 304.3 33.5 303.3 33.5 302.8 34.0 302.3M113.7 306.2 112.5 306.8 111.8 307.8 111.9 310.3 113.2 311.5 115.7 311.6 116.3 310.8 115.9 308.3 114.7 306.6 113.7 306.2M187.4 306.3 188.7 305.9 189.3 306.3 189.6 308.3 189.2 310.0 188.7 310.1 188.2 309.7 187.0 308.3 186.7 307.3 187.4 306.3M50.2 308.8 51.2 308.5 52.2 308.8 52.8 309.3 52.8 309.8 52.2 310.2 50.7 310.1 50.1 309.8 50.0 309.3 50.2 308.8M193.7 320.5 191.2 319.9 187.7 320.3 184.7 321.1 182.3 322.3 181.1 324.3 181.3 325.3 182.7 325.9 183.7 325.7 187.2 323.8 188.7 324.0 190.2 324.9 193.7 323.5M30.2 321.7 31.2 322.3 31.2 322.8 30.2 323.6M189.7 326.0 187.7 327.2 184.1 327.8 183.8 328.3 183.7 329.3 185.1 331.3 185.7 331.7 186.7 331.8 190.3 329.3 190.8 327.8 190.2 326.2 189.7 326.0M193.7 336.3 192.2 336.8 192.3 337.3 193.7 337.5M30.2 356.5 31.7 359.1 33.2 359.9 35.2 359.0 37.7 356.9 39.2 356.9 42.7 359.4 44.7 359.8 46.7 361.2 47.1 362.3 46.5 363.8 47.2 364.4 50.5 363.3 51.7 362.3 51.8 361.3 50.8 359.3 51.2 358.1 52.7 357.9 53.7 358.2 54.3 359.8 54.7 360.2 56.7 360.5 59.3 359.3 59.8 358.8 60.7 356.8 61.7 356.0 63.7 355.5 65.7 355.6 66.7 356.0 67.5 356.8 67.8 357.8 67.6 359.8 70.1 361.3 71.0 363.3 71.7 363.6 74.2 363.6 75.8 364.8 76.1 365.8 75.9 366.3 74.0 366.8 73.5 367.3 74.2 368.3 78.7 369.4 82.2 368.9 83.2 369.1 86.2 369.9 88.2 371.5 90.7 372.1 91.7 371.9 92.5 370.8 92.5 369.8 92.2 369.3 89.5 368.3 89.0 367.8 89.6 364.8 89.3 363.3 88.7 362.4 84.6 359.3 79.2 352.7 77.7 352.0 74.7 351.4 73.9 350.8 73.7 349.3 74.2 346.3 73.7 343.3 72.7 341.9 70.8 340.8 70.1 339.3 70.3 337.8 72.1 336.3 72.2 335.8 71.5 333.8 71.5 331.8 69.6 329.3 69.2 327.8 69.7 327.3 71.2 326.8 72.2 325.8 73.4 324.3 73.7 322.8 73.2 322.4 71.7 324.1 69.5 324.8 68.2 326.1 67.7 325.7 66.8 323.3 65.0 320.3 64.6 318.8 65.7 317.9 69.4 316.3 69.7 315.3 68.7 314.2 64.7 312.3 64.2 311.3 64.5 310.8 65.2 310.5 67.2 311.1 70.2 310.5 75.7 310.8 78.7 309.1 83.2 308.2 86.2 306.6 87.7 306.4 90.7 306.8 91.7 306.6 92.9 305.3 94.7 302.1 98.0 297.3 98.2 296.3 95.9 293.3 92.8 288.3 91.2 287.1 87.7 285.5 85.7 282.4 82.2 281.8 78.7 279.7 75.2 279.0 72.7 277.7 68.2 276.0 65.7 275.6 61.2 275.7 58.9 275.3M95.2 379.2 95.7 379.9 96.3 379.3 95.7 378.9 95.2 379.2M51.2 395.2 48.7 395.7 48.3 396.3 49.6 399.8 48.1 401.3 48.1 401.8 49.7 403.1 50.4 405.3 55.3 409.8 56.2 411.4 57.2 411.5 58.1 410.8 58.1 408.8 59.2 407.5 59.7 407.3 60.6 407.8 61.3 409.8 61.7 410.3 62.7 410.6 63.7 409.9 64.2 407.8 65.7 406.7 67.7 406.3 69.7 407.6 70.7 407.7 72.0 406.8 72.7 405.8 72.4 404.8 71.7 404.5 68.2 404.8 67.2 404.3 65.3 402.3 65.1 400.3 64.7 399.2 63.7 398.6 61.7 398.2 61.3 396.8 60.7 396.2 57.2 395.8 54.7 396.8 52.7 395.4 51.2 395.2M63.6 419.3 64.2 418.8 64.7 419.3 63.6 421.8 63.2 422.3 62.7 422.4 62.1 421.8 62.2 420.8 63.6 419.3M94.7 438.3 94.7 437.2 95.2 437.0 96.8 438.3M100.9 438.3 101.1 437.3 100.8 436.3 98.2 434.0 97.2 433.5 96.2 433.4 95.3 433.8 94.2 436.5 92.2 436.0 91.2 435.5 90.9 434.3 91.9 431.3 91.0 428.8 91.6 425.8 90.7 425.0 89.2 425.0 88.6 425.3 87.7 426.9 87.2 427.2 86.7 427.0 86.0 425.8 86.1 422.8 85.3 421.3 84.7 420.8 83.4 421.3 81.7 423.5 80.7 424.1 79.7 424.0 77.7 423.2 75.7 424.0 74.6 423.3 73.4 420.3 71.7 418.6 70.2 418.4 66.7 418.5 66.0 418.3 65.2 417.3 63.7 418.0 62.2 417.8 59.8 419.3 58.7 419.3 55.9 417.8 54.8 416.8 53.7 415.2 52.2 414.5 50.2 415.5 48.2 415.9 46.2 418.5 44.7 419.5 43.7 419.6 41.2 418.9 39.2 419.6 38.4 420.8 38.7 422.8 38.5 423.8 36.2 425.0 34.7 427.1 33.7 427.1 32.7 426.6 32.1 425.8 31.7 423.1 31.2 422.6 30.2 422.6M63.0 275.3 61.3 275.3M180.8 275.3 179.7 277.5 178.2 278.4 177.8 279.3 178.9 281.8 178.8 285.8 179.5 289.3 179.4 290.3 178.3 292.3 178.3 294.3 178.7 295.8 179.7 297.3 179.7 297.8 178.7 298.9 176.2 299.1 175.5 299.8 175.3 300.8 176.5 304.8 178.2 305.8 181.2 306.3 181.8 306.8 181.9 307.3 181.2 307.7 175.5 308.8 175.2 309.8 176.7 312.8 176.3 315.8 179.2 318.3 180.2 318.4 182.2 317.7 183.2 318.0 184.0 318.8 184.0 319.3 183.1 320.3 179.1 322.8 181.1 328.8 180.7 330.2 179.2 331.1 179.0 331.8 179.2 332.4 179.7 332.6 181.7 331.7 186.8 333.8 187.5 334.3 188.3 337.3 189.2 338.4 191.2 338.8 193.7 338.7M185.2 275.3 184.8 276.3 184.2 276.4 183.0 275.3M193.7 291.0 193.7 289.6M186.6 316.3 187.2 316.2 190.0 317.8 189.7 318.3 188.2 318.8 186.1 318.8 185.7 317.8 186.6 316.3M193.7 319.5 192.4 318.8 191.8 317.8 192.3 317.3 193.7 316.8M193.7 327.5 192.7 326.9 192.4 325.8 193.0 324.8 193.7 324.5M193.7 335.0 190.6 334.8 189.5 333.8 189.3 332.8 189.8 331.8 191.2 330.7 193.7 330.0M39.0 359.8 39.3 359.8 39.0 359.8M30.2 361.2 34.0 363.8 36.7 364.9 37.7 364.9 39.7 363.5 41.7 363.7 43.2 364.6 45.7 367.1 46.7 367.6 47.4 367.3 48.3 365.8 49.2 365.0 52.5 363.8 54.7 362.1 58.7 361.1 61.2 361.5 62.1 360.3 62.2 358.2 62.6 357.3 63.7 356.8 65.1 356.8 65.9 357.3 66.0 357.8 65.3 359.8 65.6 360.8 67.5 362.8 68.6 364.8 71.3 365.8 72.1 367.8 73.2 368.9 76.7 370.7 79.7 371.4 80.2 371.8 80.7 373.8 82.0 374.8 84.7 375.9 87.2 377.4 89.2 377.5 91.2 378.5 92.6 379.8 93.7 382.2 94.7 383.0 95.7 383.2 97.2 381.7 99.6 380.3 96.8 376.3 96.6 375.3 96.7 372.9 94.7 372.9 93.9 372.3 93.7 368.8 93.2 368.0 91.2 366.8 91.1 363.3 90.1 361.3 89.2 360.4 86.2 358.9 84.6 356.3 82.2 354.9 79.2 351.6 76.2 350.6 75.3 349.8 75.4 349.3 76.2 348.7 78.7 348.4 78.8 347.8 75.6 345.8 73.7 341.0 72.2 339.8 71.8 338.8 73.4 337.3 73.8 336.3 73.0 333.8 73.6 330.8 72.2 328.8 72.1 328.3 72.9 327.3 74.7 326.3 75.0 325.8 75.7 321.8 75.6 320.8 74.7 320.0 73.7 319.9 70.2 322.0 69.2 322.3 67.7 321.5 66.7 319.8 66.9 319.3 67.7 318.9 72.7 317.5 73.7 316.9 74.4 315.8 74.0 314.8 71.7 314.3 70.3 313.3 69.5 312.3 69.7 311.8 70.7 311.4 76.2 311.5 79.2 309.9 83.2 309.2 85.7 307.4 86.7 307.1 90.2 307.7 91.7 307.4 92.7 306.7 94.2 304.5 98.2 300.2 99.2 299.7 101.7 301.1 104.0 304.3 110.2 309.1 112.2 311.9 115.7 313.0 118.7 315.2 119.7 315.2 121.2 314.7 121.8 313.8 121.7 313.0 120.7 311.9 119.2 311.5 118.2 310.9 116.3 307.3 114.7 305.2 113.7 304.8 112.1 304.8 111.1 302.3 108.2 300.7 104.7 296.4 103.2 295.9 100.7 295.9 98.7 294.6 95.7 291.3 92.7 287.3 90.7 285.8 88.2 284.5 86.2 282.0 82.2 281.3 78.7 279.1 75.2 278.5 72.7 277.2 66.9 275.3M89.0 374.3 89.7 374.1 90.9 374.3 91.6 374.8 91.6 375.3 90.7 376.1 89.2 376.3 88.7 375.3 89.0 374.3M65.7 408.3 66.2 407.9 67.2 407.9 68.5 408.8 69.1 410.3 69.2 413.0 66.7 414.5 64.7 415.0 61.2 416.4 59.2 418.1 57.7 417.8 56.4 416.8 55.5 415.3 55.5 413.8 60.2 411.7 63.2 412.1 65.2 411.8 65.6 411.3 65.4 409.3 65.7 408.3M93.2 422.2 93.2 422.5 93.2 422.2M103.2 438.3 103.2 436.8 102.7 435.7 99.7 433.2 96.2 431.6 93.7 431.2 92.7 428.8 93.6 426.3 92.7 422.8 90.7 423.3 88.7 423.2 87.7 422.9 86.7 421.8 85.2 418.9 84.7 418.5 81.2 421.7 80.2 421.9 79.2 421.2 78.2 418.2 77.5 417.3 75.7 416.1 72.4 409.3 72.7 408.3 75.1 405.8 75.0 404.3 74.2 403.4 72.2 403.3 68.7 403.6 67.2 402.8 66.6 401.8 66.5 400.8 66.5 397.8 67.0 395.3 66.2 394.4 62.7 394.1 60.7 394.7 59.2 394.8 56.2 393.5 53.2 393.2 49.7 394.3 46.7 394.0 45.5 394.3 45.2 395.3 47.1 397.3 47.3 398.8 46.8 399.3 46.2 399.4 43.7 398.0 42.7 398.3 42.0 399.8 42.7 402.7 43.2 403.4 45.7 403.7 47.2 404.3 48.7 406.3 51.5 407.8 52.0 408.8 51.8 409.8 48.7 412.5 46.2 410.5 45.2 410.6 44.2 411.2 43.9 412.3 44.1 413.3 45.7 415.3 45.9 416.3 45.6 417.3 44.7 418.1 43.7 418.3 41.7 417.9 39.7 418.1 35.2 419.5 32.5 419.8 30.2 420.8" fill="none" stroke="#2e2a18" stroke-width="0.6" stroke-linejoin="round"/><path d="M29.2 292.3 29.6 293.8 30.2 294.8 31.0 295.2 31.7 295.3 33.5 294.6 33.7 294.8 35.5 296.8 37.0 299.0 39.2 301.2 43.7 303.9 52.2 307.9 65.7 312.5 69.7 313.6 70.7 314.2 72.9 314.8 74.0 314.8 77.2 315.8 80.7 316.3 84.2 316.3 89.0 315.4 93.0 313.9 94.0 313.3 96.5 312.3 100.7 309.8 102.7 308.3 105.6 305.1 107.1 302.3 107.1 301.6 107.5 300.1 107.3 295.6 106.4 291.8 103.8 285.3 102.1 281.6 99.3 277.6 99.5 276.3 100.5 275.3 100.9 274.3M57.5 439.1 56.6 436.1 55.5 433.8 54.0 432.5 51.5 431.8 49.0 431.8 48.2 432.1 40.2 431.8 38.7 432.2 37.8 433.1 36.6 434.8 35.8 436.6 35.2 439.1M93.7 439.1 93.6 438.3 93.0 436.9 90.5 433.6 87.7 431.5 85.7 431.1 83.0 431.1 81.0 431.6 79.0 431.6 78.2 431.8 71.0 431.3 68.2 431.9 66.7 432.8 65.3 434.3 63.4 437.5 63.2 439.1M102.6 275.9 102.7 275.7M102.2 276.5 102.5 276.2M92.2 316.6 97.9 313.8 101.7 311.6 104.1 309.8 107.3 306.3 109.0 303.1 109.3 300.3 108.5 295.3 106.6 290.3 103.6 280.8 101.7 277.3M91.6 316.8 92.2 316.6M111.2 298.0 110.3 295.3 107.5 289.8 104.8 279.4M111.7 293.3 108.5 289.6 107.4 285.8 106.5 280.8M111.4 290.1 109.9 289.1 109.4 288.3 108.3 285.3 107.8 282.2M110.7 287.2 109.7 285.5 109.3 284.1" fill="none" stroke="#2e2a18" stroke-width="0.6" stroke-linejoin="round"/><path d="M29.2 274.3 99.3 274.3 98.3 275.1 97.6 276.8 97.6 277.6 98.1 278.8 101.1 282.3 102.1 284.6 103.1 285.8 104.6 288.8 105.1 290.8 105.8 292.1 105.8 292.8 106.3 294.1 106.3 295.3 106.6 295.6 106.6 300.1 106.1 301.1 106.1 302.1 105.3 303.1 104.8 304.3 103.1 306.1 103.1 306.3 100.0 308.9 98.7 309.4 98.2 309.9 97.0 310.4 96.0 311.2 93.5 311.9 92.5 312.6 89.0 313.6 88.7 313.9 86.0 314.1 85.7 314.4 84.5 314.4 84.2 314.6 81.0 314.6 80.7 314.4 77.5 314.1 74.7 313.2 73.2 313.2 72.0 312.7 71.2 312.7 70.2 311.9 69.5 311.9 67.0 310.9 66.2 310.9 64.0 309.9 53.0 306.4 52.0 305.7 50.7 305.4 50.2 304.9 49.2 304.7 48.2 303.9 47.5 303.9 47.0 303.4 46.0 303.2 45.5 302.7 44.5 302.4 43.7 301.7 43.2 301.7 42.2 301.2 41.5 300.4 40.2 299.9 38.6 298.1 38.1 297.8 37.0 296.1 35.6 294.6 34.8 293.3 34.0 292.4 33.2 292.4 32.7 293.1 31.7 293.6 31.4 293.6 30.9 292.3 30.6 290.8 30.1 290.1 29.9 288.8 29.2 287.4 29.2 274.3ZM83.0 432.8 85.7 432.6 86.0 432.9 87.0 432.9 87.7 433.4 89.4 434.8 90.6 436.8 91.6 437.8 92.1 439.1 64.9 439.1 64.9 438.3 66.4 436.1 66.6 435.3 68.7 433.5 70.7 433.2 71.0 432.9 75.2 433.1 75.5 433.4 79.0 433.4 79.2 433.1 81.7 433.1 82.0 432.9 83.0 432.8ZM40.2 433.6 43.0 433.5 43.2 433.8 49.0 433.8 49.2 433.5 51.5 433.5 51.7 433.8 53.2 434.0 54.2 435.1 55.0 436.6 55.7 439.1 36.9 439.1 37.2 438.8 37.4 437.1 38.2 435.6 39.2 434.1 40.2 433.6Z" fill="#a5c93c" fill-rule="evenodd"/><path d="M29.8 274.3 96.5 274.3 95.1 276.1 95.1 277.6 96.6 279.8 98.3 281.3 99.8 283.3 100.6 285.3 101.1 285.8 102.6 288.8 102.8 290.1 103.1 290.3 103.1 291.1 103.3 291.3 103.4 292.1 103.8 293.1 103.9 293.8 104.1 294.0 104.1 295.3 104.3 295.6 104.3 299.6 104.1 299.8 103.8 301.6 102.6 303.6 101.0 305.2 100.2 305.5 99.2 306.5 98.2 306.7 97.7 307.2 97.2 307.2 96.4 307.9 95.2 308.2 94.2 308.9 93.7 308.9 89.7 310.4 88.2 310.5 87.2 311.0 85.7 311.0 84.5 311.5 79.2 311.5 78.2 311.0 75.7 310.7 74.7 310.3 72.9 310.2 72.7 310.0 71.0 309.7 69.7 309.0 69.0 309.0 68.7 308.8 65.0 308.0 64.0 307.5 63.2 307.5 62.2 307.0 61.5 307.0 60.5 306.5 59.0 306.0 58.2 306.0 56.0 305.0 51.0 303.5 50.0 302.7 48.7 302.5 48.2 302.0 47.2 301.7 46.2 301.0 44.7 300.5 41.7 298.2 41.2 298.2 39.5 296.5 39.2 296.4 36.6 293.6 35.3 291.1 35.3 290.6 34.8 289.8 34.8 289.1 34.5 288.8 34.5 287.8 34.3 287.6 34.3 284.6 34.0 284.3 33.8 282.8 30.3 276.1 30.0 274.6 29.8 274.3ZM74.4 434.1 79.0 434.5 83.0 434.3 83.2 434.0 86.5 434.0 88.0 434.8 89.7 438.1 89.7 439.0 69.4 439.1 70.4 437.1 71.9 435.1 72.7 434.5 74.2 434.3 74.4 434.1Z" fill="#6db55a" fill-rule="evenodd"/><path d="M36.5 274.3 89.9 274.3 92.7 278.1 98.0 283.3 100.3 287.6 101.6 290.8 102.6 294.8 102.7 297.8 102.1 301.1 101.1 302.8 100.2 303.9 98.5 305.1 95.7 306.3 89.0 308.5 83.7 309.7 80.2 310.2 77.2 310.1 74.7 309.4 72.2 309.1 69.0 308.2 65.5 307.5 51.2 302.8 45.0 299.8 43.4 298.8 40.7 296.4 39.2 294.8 37.9 292.8 36.7 289.6 36.2 286.8 35.8 279.1 36.0 276.8 36.5 274.3Z" fill="#3f9c78" fill-rule="evenodd"/><path d="M43.8 278.6 47.2 278.4 47.5 278.6 51.0 278.6 51.2 278.9 52.2 278.9 52.5 279.1 55.2 279.1 55.4 279.4 56.5 279.4 56.7 279.6 63.2 279.6 63.5 279.4 71.7 279.1 72.0 278.8 80.2 278.8 80.5 279.1 85.5 279.1 85.7 279.4 88.0 279.4 88.2 279.6 89.2 279.7 89.5 279.9 90.5 279.9 90.7 280.2 92.2 280.5 93.5 281.2 93.9 281.2 95.5 282.6 95.5 282.8 97.0 284.3 99.0 288.1 99.0 288.6 99.5 289.3 99.8 290.6 100.5 292.1 100.8 294.6 101.0 294.8 101.0 297.6 100.8 297.8 100.5 300.3 99.5 302.6 97.7 303.9 97.2 303.9 96.2 304.4 95.5 304.4 95.2 304.7 94.5 304.7 94.2 304.9 93.5 304.9 93.2 305.2 92.5 305.2 91.4 305.9 90.7 305.9 90.5 306.2 86.7 306.9 86.5 307.2 85.7 307.2 85.5 307.4 84.7 307.4 81.5 308.6 79.2 308.9 79.0 309.1 75.5 308.8 75.2 308.6 74.2 308.6 74.0 308.4 72.2 308.3 71.2 307.8 69.7 307.8 69.5 307.6 68.2 307.6 68.0 307.3 65.7 307.1 63.2 306.1 61.7 305.8 60.7 305.1 60.0 305.1 59.0 304.6 58.2 304.6 56.5 303.8 55.7 303.8 54.7 303.3 54.2 303.3 53.0 302.6 51.7 302.3 50.7 301.6 50.0 301.6 49.0 300.8 48.2 300.8 47.2 300.1 46.2 299.6 45.7 299.6 44.7 298.6 43.7 298.1 42.7 296.8 41.4 295.8 40.9 294.8 40.1 294.1 39.9 293.1 38.9 291.6 38.9 291.1 38.6 290.8 38.6 289.6 38.4 289.3 38.3 288.1 38.1 287.8 38.1 283.6 38.4 283.3 38.6 281.3 39.7 279.7 42.2 278.7 43.8 278.6Z" fill="#3a8689" fill-rule="evenodd"/><path d="M78.1 280.1 83.7 280.5 84.0 280.7 84.7 280.7 86.0 281.5 86.7 281.5 90.7 283.9 94.3 287.6 95.3 289.1 95.8 290.3 96.6 291.1 98.0 294.8 98.0 297.3 97.8 297.6 97.5 298.8 97.0 299.8 95.2 301.9 93.7 302.9 93.2 302.9 91.7 303.6 91.2 304.1 87.5 304.9 87.2 305.1 86.2 305.1 86.0 305.4 80.7 305.6 80.5 305.9 80.2 305.6 77.2 305.6 77.0 305.4 75.2 305.4 74.2 304.9 73.5 304.9 71.7 304.1 71.2 304.1 68.1 301.3 66.8 298.8 66.3 296.8 66.1 296.6 66.1 295.6 65.3 294.1 65.0 292.6 64.8 292.3 64.8 290.3 66.1 288.3 66.1 287.3 66.6 286.3 66.6 284.8 66.8 284.6 66.9 284.1 68.2 282.5 69.7 281.5 71.5 281.2 72.7 280.7 73.7 280.7 75.0 280.2 78.0 280.2 78.1 280.1ZM43.9 283.6 48.2 283.5 50.2 284.3 51.0 284.3 52.3 285.8 52.3 287.8 51.8 288.3 50.8 290.3 47.7 291.9 45.2 291.8 45.0 291.6 44.2 291.6 42.5 290.6 41.2 288.1 40.9 286.3 41.7 285.1 42.5 284.3 43.9 283.6ZM58.8 293.3 60.7 293.2 61.3 293.6 61.8 294.8 61.6 295.1 61.6 295.8 61.0 296.4 60.5 296.6 59.2 296.6 58.4 296.1 58.1 295.6 58.1 294.3 58.8 293.3Z" fill="#3b5b95" fill-rule="evenodd"/><path d="M80.6 284.1 85.0 284.4 86.0 284.9 87.5 285.2 89.3 286.6 90.8 288.6 91.6 290.1 91.6 291.1 91.8 291.3 91.9 294.6 91.6 294.8 91.6 295.8 91.1 296.8 88.7 299.5 85.5 300.7 83.5 300.7 83.2 301.0 82.7 301.0 82.4 300.7 81.2 300.7 80.2 300.2 79.0 300.2 78.5 299.7 77.2 299.2 75.0 296.8 74.0 294.8 74.0 293.8 73.5 292.8 73.6 289.1 73.8 288.8 73.8 287.8 74.3 286.8 75.5 285.4 78.5 284.2 80.6 284.1Z" fill="#3f2b7d" fill-rule="evenodd"/><path d="M82.1 288.1 83.7 287.9 84.4 288.4 84.9 288.4 85.7 288.9 86.7 289.2 88.1 291.6 88.1 292.8 88.3 293.3 88.1 294.6 86.8 297.1 85.0 298.2 83.0 298.2 81.0 297.2 80.7 296.7 79.6 295.8 78.6 293.6 78.5 291.3 78.8 291.1 78.8 290.6 80.2 288.9 82.1 288.1Z" fill="#2b0c46" fill-rule="evenodd"/><path d="M99.3 274.3 98.3 275.1 97.6 276.8 97.6 277.6 98.1 278.8 101.1 282.3 102.1 284.6 103.1 285.8 104.6 288.8 105.1 290.8 105.8 292.1 105.8 292.8 106.3 294.1 106.3 295.3 106.6 295.6 106.6 300.1 106.1 301.1 106.1 302.1 105.3 303.1 104.8 304.3 103.1 306.1 103.1 306.3 100.0 308.9 98.7 309.4 98.2 309.9 97.0 310.4 96.0 311.2 94.7 311.4 94.0 311.9 93.0 312.2 92.5 312.6 89.0 313.6 88.7 313.9 86.0 314.1 85.7 314.4 84.5 314.4 84.2 314.6 81.0 314.6 80.7 314.4 77.5 314.1 74.7 313.2 73.2 313.2 72.0 312.7 71.2 312.7 70.2 311.9 69.5 311.9 67.0 310.9 66.2 310.9 66.0 310.7 64.7 310.4 64.0 309.9 53.0 306.4 52.0 305.7 50.7 305.4 50.2 304.9 49.2 304.7 48.2 303.9 47.5 303.9 47.0 303.4 46.0 303.2 45.5 302.7 44.5 302.4 43.7 301.7 43.2 301.7 42.2 301.2 41.5 300.4 40.2 299.9 38.6 298.1 38.1 297.8 37.0 296.1 35.6 294.6 34.8 293.3 34.0 292.4 33.2 292.4 32.7 293.1 31.5 293.6 30.9 292.3 30.6 290.8 30.1 290.1 29.9 288.8 29.2 287.4M36.9 439.1 37.2 438.8 37.4 437.1 39.5 433.8 40.0 433.8 40.2 433.5 46.2 433.8 51.5 433.5 51.7 433.8 53.2 434.0 54.2 435.1 55.0 436.6 55.7 439.1M64.9 439.1 64.9 438.3 66.4 436.1 66.6 435.3 68.7 433.5 70.7 433.2 71.0 432.9 72.5 432.9 72.7 433.1 75.2 433.1 75.5 433.4 79.0 433.4 79.2 433.1 81.7 433.1 83.2 432.6 85.7 432.6 86.0 432.9 87.0 432.9 87.7 433.4 89.4 434.8 90.6 436.8 91.6 437.8 92.1 439.1M96.5 274.3 95.1 276.1 95.1 277.6 96.6 279.8 98.3 281.3 99.8 283.3 100.6 285.3 101.1 285.8 102.6 288.8 102.8 290.1 103.1 290.3 103.1 291.1 103.3 291.3 103.4 292.1 103.8 293.1 103.9 293.8 104.1 294.0 104.1 295.3 104.3 295.6 104.3 299.6 104.1 299.8 103.8 301.6 102.6 303.6 101.0 305.2 100.2 305.5 99.2 306.5 98.2 306.7 97.7 307.2 97.2 307.2 96.4 307.9 94.7 308.5 94.2 308.9 93.7 308.9 89.7 310.4 88.2 310.5 87.2 311.0 85.7 311.0 84.5 311.5 79.2 311.5 78.2 311.0 75.7 310.7 74.7 310.3 72.9 310.2 72.7 310.0 71.0 309.7 69.7 309.0 65.0 308.0 64.0 307.5 63.2 307.5 59.0 306.0 58.2 306.0 56.7 305.5 56.0 305.0 51.0 303.5 50.0 302.7 48.7 302.5 48.2 302.0 47.2 301.7 46.2 301.0 44.7 300.5 41.7 298.2 41.2 298.2 39.5 296.5 39.2 296.4 36.6 293.6 35.3 291.1 35.3 290.6 34.8 289.8 34.8 289.1 34.5 288.8 34.5 287.8 34.3 287.6 34.3 284.6 34.0 284.3 34.0 283.6 30.3 276.1 30.0 274.6 29.8 274.3M69.4 439.1 70.9 436.3 71.9 435.1 72.7 434.5 74.2 434.3 74.5 434.0 79.0 434.5 80.7 434.5 81.0 434.3 83.0 434.3 83.2 434.0 83.7 434.0 86.5 434.0 88.0 434.8 89.7 438.1 89.7 439.1M89.9 274.3 92.7 278.1 98.0 283.3 100.3 287.6 101.6 290.8 102.6 294.8 102.7 297.8 102.2 300.8 101.1 302.8 100.3 303.8 98.5 305.1 95.7 306.3 89.0 308.5 83.7 309.7 80.2 310.2 77.2 310.1 74.7 309.4 72.2 309.1 69.0 308.2 65.5 307.5 54.2 303.9 49.7 302.1 45.0 299.8 41.5 297.2 39.2 294.8 37.9 292.8 37.1 291.1 36.3 288.1 35.8 279.1 36.0 276.8 36.5 274.3M43.8 278.6 47.2 278.4 47.5 278.6 51.0 278.6 51.2 278.9 52.2 278.9 52.5 279.1 55.2 279.1 55.4 279.4 56.5 279.4 56.7 279.6 63.2 279.6 63.5 279.4 71.7 279.1 72.0 278.8 80.2 278.8 80.5 279.1 85.5 279.1 85.7 279.4 88.0 279.4 88.2 279.6 89.2 279.7 89.5 279.9 90.5 279.9 90.7 280.2 92.2 280.5 93.5 281.2 93.9 281.2 95.5 282.6 95.5 282.8 97.0 284.3 99.0 288.1 99.0 288.6 99.5 289.3 99.8 290.6 100.5 292.1 100.8 294.6 101.0 294.8 101.0 297.6 100.8 297.8 100.5 300.3 99.5 302.6 97.7 303.9 97.2 303.9 96.2 304.4 95.5 304.4 95.2 304.7 94.5 304.7 94.2 304.9 93.5 304.9 93.2 305.2 92.5 305.2 91.4 305.9 90.7 305.9 90.5 306.2 86.7 306.9 86.5 307.2 85.7 307.2 85.5 307.4 84.7 307.4 81.5 308.6 79.2 308.9 79.0 309.1 75.5 308.8 75.2 308.6 74.2 308.6 74.0 308.4 72.2 308.3 71.2 307.8 69.7 307.8 69.5 307.6 68.2 307.6 68.0 307.3 65.7 307.1 63.2 306.1 61.7 305.8 60.7 305.1 60.0 305.1 59.0 304.6 58.2 304.6 56.5 303.8 55.7 303.8 54.7 303.3 54.2 303.3 53.0 302.6 51.7 302.3 50.7 301.6 50.0 301.6 49.0 300.8 48.2 300.8 47.2 300.1 46.2 299.6 45.7 299.6 44.7 298.6 43.7 298.1 42.7 296.8 41.4 295.8 40.9 294.8 40.1 294.1 39.9 293.1 38.9 291.6 38.9 291.1 38.6 290.8 38.6 289.6 38.4 289.3 38.3 288.1 38.1 287.8 38.1 283.6 38.4 283.3 38.6 281.3 39.7 279.7 42.2 278.7 43.8 278.6M78.1 280.1 83.7 280.5 84.0 280.7 84.7 280.7 86.0 281.5 86.7 281.5 90.7 283.9 94.3 287.6 95.3 289.1 95.8 290.3 96.6 291.1 98.0 294.8 98.0 297.3 97.8 297.6 97.5 298.8 97.0 299.8 95.2 301.9 93.7 302.9 93.2 302.9 91.7 303.6 91.2 304.1 87.5 304.9 87.2 305.1 86.2 305.1 86.0 305.4 80.7 305.6 80.5 305.9 80.2 305.6 77.2 305.6 77.0 305.4 75.2 305.4 74.2 304.9 73.5 304.9 71.7 304.1 71.2 304.1 68.1 301.3 66.8 298.8 66.3 296.8 66.1 296.6 66.1 295.6 65.3 294.1 65.0 292.6 64.8 292.3 64.8 290.3 66.1 288.3 66.1 287.3 66.6 286.3 66.6 284.8 66.8 284.6 66.9 284.1 68.2 282.5 69.7 281.5 71.5 281.2 72.7 280.7 73.7 280.7 75.0 280.2 78.0 280.2 78.1 280.1M43.9 283.6 48.2 283.5 50.2 284.3 51.0 284.3 52.3 285.8 52.3 287.8 51.8 288.3 50.8 290.3 47.7 291.9 45.2 291.8 45.0 291.6 44.2 291.6 42.5 290.6 41.2 288.1 40.9 286.3 41.7 285.1 42.5 284.3 43.9 283.6M58.8 293.3 60.7 293.2 61.3 293.6 61.8 294.8 61.6 295.1 61.6 295.8 61.0 296.4 60.5 296.6 59.2 296.6 58.4 296.1 58.1 295.6 58.1 294.3 58.8 293.3M80.6 284.1 85.0 284.4 86.0 284.9 87.5 285.2 89.3 286.6 90.8 288.6 91.6 290.1 91.6 291.1 91.8 291.3 91.9 294.6 91.6 294.8 91.6 295.8 91.1 296.8 88.7 299.5 85.5 300.7 83.5 300.7 83.2 301.0 82.7 301.0 82.4 300.7 81.2 300.7 80.2 300.2 79.0 300.2 78.5 299.7 77.2 299.2 75.0 296.8 74.0 294.8 74.0 293.8 73.5 292.8 73.6 289.1 73.8 288.8 73.8 287.8 74.3 286.8 75.5 285.4 78.5 284.2 80.6 284.1M82.1 288.1 83.7 287.9 84.4 288.4 84.9 288.4 85.7 288.9 86.7 289.2 88.1 291.6 88.1 292.8 88.3 293.3 88.1 294.6 86.8 297.1 85.0 298.2 83.0 298.2 81.0 297.2 80.7 296.7 79.6 295.8 78.6 293.6 78.5 291.3 78.8 291.1 78.8 290.6 80.2 288.9 82.1 288.1" fill="none" stroke="#2e2a18" stroke-width="0.6" stroke-linejoin="round"/></g>
<path clip-path="url(#cc)" d="M219.0 160.8C222.5 160.8 234.0 160.6 240.0 160.5C246.0 160.4 251.3 160.1 255.0 160.0C258.7 159.9 260.3 159.8 262.0 159.7C263.7 159.6 263.5 159.6 265.0 159.2C266.5 158.8 268.8 158.4 271.0 157.4C273.2 156.4 276.2 154.9 278.4 153.0C280.6 151.1 282.5 149.1 284.4 146.2C286.3 143.3 288.1 139.5 289.6 135.8C291.1 132.1 292.2 128.4 293.3 123.9C294.4 119.4 295.4 113.9 296.3 108.9C297.2 103.9 297.6 99.9 298.6 94.0C299.6 88.1 301.3 80.0 302.4 73.3C303.5 66.6 304.5 59.4 305.4 53.9C306.3 48.4 306.7 43.8 307.6 40.4C308.5 37.0 309.6 33.8 310.6 33.3C311.6 32.8 312.5 35.2 313.6 37.4C314.7 39.6 316.2 43.6 317.3 46.4C318.4 49.1 319.3 52.0 320.3 53.9C321.3 55.8 322.2 56.9 323.3 57.6C324.4 58.3 325.8 58.0 327.0 58.3C328.2 58.5 329.7 58.4 330.7 59.1C331.7 59.9 332.2 60.9 333.0 62.8C333.8 64.7 334.4 67.3 335.2 70.3C335.9 73.3 336.8 76.8 337.5 80.7C338.2 84.7 339.0 88.8 339.7 94.0C340.4 99.2 341.0 106.2 341.9 111.9C342.8 117.6 343.6 123.3 344.9 128.3C346.1 133.3 347.8 138.1 349.4 141.8C351.0 145.5 353.2 148.6 354.6 150.7C356.0 152.8 357.4 153.9 358.0 154.5" fill="none" stroke="#231f20" stroke-width="1.85" stroke-linejoin="round"/>
<path clip-path="url(#cc)" d="M219.0 298.3C221.7 298.2 230.7 298.0 235.0 297.9C239.3 297.8 242.1 297.8 245.0 297.4C247.9 297.0 249.9 296.6 252.4 295.3C254.9 294.0 257.6 292.3 259.9 289.4C262.2 286.5 264.4 282.3 266.3 277.7C268.2 273.1 270.0 267.6 271.6 261.7C273.2 255.8 274.5 249.3 275.9 242.6C277.3 235.9 279.0 226.9 280.1 221.3C281.2 215.8 281.9 212.9 282.6 209.3C283.3 205.8 283.8 202.8 284.4 200.0C285.0 197.2 285.3 195.5 286.1 192.8C286.9 190.1 288.1 186.0 289.1 183.9C290.1 181.8 291.1 180.1 292.1 180.1C293.1 180.1 294.1 182.0 295.1 183.9C296.1 185.8 297.1 189.4 298.1 191.3C299.1 193.2 299.9 195.0 301.0 195.1C302.1 195.2 303.6 193.2 304.8 192.1C306.1 191.0 307.4 188.8 308.5 188.4C309.6 188.0 310.5 188.2 311.5 189.9C312.5 191.6 313.5 195.1 314.5 198.8C315.5 202.5 316.5 207.5 317.5 212.2C318.5 216.9 319.4 222.5 320.4 227.2C321.4 231.9 322.0 234.9 323.5 240.6C325.0 246.3 327.2 255.0 329.4 261.5C331.6 268.0 334.4 274.7 336.9 279.4C339.4 284.1 341.7 287.2 344.4 289.9C347.1 292.6 351.0 294.6 353.3 295.8C355.6 297.0 357.2 296.8 358.0 297.0" fill="none" stroke="#231f20" stroke-width="1.85" stroke-linejoin="round"/>
<path clip-path="url(#cc)" d="M219.0 436.2C221.0 436.1 227.4 437.0 230.9 435.9C234.4 434.8 236.9 433.4 239.9 429.3C242.9 425.2 246.2 419.3 248.9 411.4C251.6 403.4 254.1 392.1 256.3 381.6C258.5 371.2 260.6 357.9 262.3 348.7C264.1 339.5 265.5 331.6 266.8 326.4C268.1 321.2 269.1 317.9 270.3 317.4C271.5 316.9 272.8 319.2 274.2 323.4C275.6 327.6 276.9 334.6 278.7 342.8C280.4 351.0 282.5 363.2 284.7 372.6C286.9 382.1 289.6 393.0 292.1 399.5C294.6 406.0 297.6 409.3 299.6 411.4C301.6 413.5 302.6 412.5 304.1 412.0C305.6 411.5 306.9 412.0 308.6 408.4C310.3 404.8 312.5 397.9 314.5 390.5C316.5 383.1 318.5 373.1 320.5 363.7C322.5 354.2 324.8 341.0 326.5 333.8C328.2 326.6 329.4 321.4 330.9 320.4C332.4 319.4 333.9 322.2 335.4 327.9C336.9 333.6 338.4 344.8 339.9 354.7C341.4 364.6 342.7 377.2 344.4 387.6C346.1 398.1 348.3 410.4 350.3 417.4C352.3 424.3 355.0 427.0 356.3 429.3C357.6 431.6 357.7 430.7 358.0 431.0" fill="none" stroke="#231f20" stroke-width="1.85" stroke-linejoin="round"/>
<path clip-path="url(#cd)" d="M395.0 86.2C399.2 86.2 412.5 86.0 420.0 86.0C427.5 86.0 433.9 86.3 440.0 86.3C446.1 86.3 453.3 86.3 456.7 86.2C460.1 86.1 459.0 86.3 460.6 85.7C462.2 85.1 464.5 84.6 466.3 82.8C468.1 81.0 469.8 78.6 471.2 75.1C472.6 71.6 473.7 66.4 475.0 61.6C476.3 56.8 477.6 49.8 478.9 46.1C480.2 42.4 481.7 40.8 482.7 39.4C483.7 38.0 484.0 37.2 485.0 37.5C486.0 37.8 487.3 39.2 488.5 41.3C489.7 43.4 491.1 47.4 492.4 50.0C493.7 52.6 494.9 55.6 496.2 56.7C497.5 57.8 498.7 57.1 500.1 56.7C501.6 56.3 503.4 54.7 504.9 54.2C506.3 53.7 507.5 52.9 508.8 53.5C510.1 54.1 511.3 55.4 512.6 57.7C513.9 60.0 515.0 64.2 516.5 67.4C518.0 70.6 519.7 74.4 521.3 77.0C522.9 79.6 524.0 81.3 526.1 82.8C528.2 84.2 532.5 85.2 533.8 85.7" fill="none" stroke="#231f20" stroke-width="1.85" stroke-linejoin="round"/>
<path clip-path="url(#cd)" d="M395.0 155.2C399.2 155.2 412.5 155.0 420.0 155.0C427.5 155.0 433.7 155.3 440.0 155.3C446.3 155.3 453.6 155.8 458.0 155.2C462.4 154.6 464.1 153.7 466.3 151.8C468.5 150.0 469.8 148.0 471.2 144.1C472.6 140.2 473.7 133.8 475.0 128.6C476.3 123.4 477.6 117.0 478.9 113.2C480.2 109.4 481.6 107.0 482.7 105.5C483.8 104.0 484.2 103.7 485.2 104.0C486.2 104.3 487.3 105.4 488.5 107.4C489.7 109.4 491.1 113.9 492.4 116.1C493.7 118.3 494.9 119.6 496.2 120.5C497.5 121.4 498.7 121.5 500.1 121.3C501.6 121.1 503.4 119.8 504.9 119.4C506.3 119.0 507.5 118.1 508.8 119.0C510.1 119.9 511.3 122.1 512.6 124.8C513.9 127.5 515.0 131.9 516.5 135.4C518.0 138.9 519.4 143.1 521.3 146.0C523.2 148.9 525.9 151.2 528.0 152.7C530.1 154.1 532.8 154.4 533.8 154.7" fill="none" stroke="#231f20" stroke-width="1.85" stroke-linejoin="round"/>
<path clip-path="url(#cd)" d="M395.0 224.6C399.2 224.6 413.3 224.5 420.0 224.4C426.7 224.3 431.8 224.3 435.0 224.2C438.2 224.1 437.7 224.3 439.4 223.6C441.1 222.9 443.2 221.7 445.1 219.8C447.0 217.9 449.0 215.3 450.9 212.1C452.8 208.9 454.9 204.4 456.7 200.5C458.5 196.6 460.1 192.1 461.5 188.9C462.9 185.7 464.3 182.8 465.4 181.2C466.5 179.6 466.9 178.3 467.9 179.3C468.9 180.3 470.0 184.4 471.2 187.0C472.4 189.6 473.8 193.1 475.0 194.7C476.2 196.3 477.2 196.8 478.3 196.6C479.4 196.4 480.6 195.0 481.8 193.7C483.0 192.4 484.3 189.2 485.6 188.9C486.9 188.6 488.2 189.9 489.5 191.8C490.8 193.7 491.9 197.4 493.3 200.5C494.8 203.6 496.4 207.2 498.2 210.1C500.0 213.0 501.8 215.8 503.9 217.8C506.0 219.8 508.0 221.0 510.7 222.1C513.4 223.2 516.4 223.8 520.3 224.2C524.1 224.6 531.5 224.5 533.8 224.6" fill="none" stroke="#231f20" stroke-width="1.85" stroke-linejoin="round"/>
<path clip-path="url(#cd)" d="M395.0 293.0C399.2 293.0 413.3 292.9 420.0 292.8C426.7 292.7 431.8 292.7 435.0 292.6C438.2 292.5 437.7 292.9 439.4 292.2C441.1 291.5 443.2 290.4 445.1 288.4C447.0 286.4 449.0 283.6 450.9 280.1C452.8 276.6 454.9 271.6 456.7 267.6C458.5 263.6 460.1 259.0 461.5 256.0C462.9 253.0 464.3 251.1 465.4 249.8C466.5 248.5 466.9 247.4 467.9 248.3C468.9 249.2 470.0 252.9 471.2 255.0C472.4 257.1 473.8 259.6 475.0 260.8C476.2 262.0 477.2 262.5 478.3 262.2C479.4 261.9 480.6 260.1 481.8 258.9C483.0 257.7 484.3 254.8 485.6 255.0C486.9 255.2 488.2 257.6 489.5 259.9C490.8 262.1 491.7 265.3 493.3 268.5C494.9 271.7 497.2 276.1 499.1 279.1C501.0 282.2 502.6 284.8 504.9 286.8C507.1 288.8 509.1 290.1 512.6 291.1C516.1 292.1 522.6 292.7 526.1 293.0C529.6 293.3 532.5 293.1 533.8 293.1" fill="none" stroke="#231f20" stroke-width="1.85" stroke-linejoin="round"/>
<path clip-path="url(#cd)" d="M395.0 361.2C397.5 361.2 406.2 361.0 410.0 361.0C413.8 361.0 416.0 361.1 418.0 361.0C420.0 360.9 420.4 361.6 422.0 360.7C423.6 359.8 426.0 358.5 427.8 355.8C429.6 353.1 431.2 349.1 432.6 344.3C434.1 339.5 435.2 332.7 436.5 326.9C437.8 321.1 439.2 313.6 440.3 309.6C441.4 305.6 442.2 304.2 443.2 302.8C444.2 301.4 445.1 301.0 446.1 301.5C447.1 302.0 447.9 302.8 449.0 305.7C450.1 308.6 451.4 314.4 452.8 319.2C454.2 324.0 455.9 329.8 457.7 334.6C459.5 339.4 461.4 344.6 463.5 348.1C465.6 351.6 468.1 353.9 470.2 355.8C472.3 357.7 474.2 358.6 476.0 359.3C477.8 360.0 479.0 360.4 480.8 360.1C482.6 359.9 484.5 359.3 486.6 357.8C488.7 356.3 491.2 353.6 493.3 351.0C495.4 348.4 497.2 345.1 499.1 342.4C501.0 339.7 503.3 336.3 504.9 334.6C506.5 332.9 507.7 332.3 508.8 332.3C509.9 332.3 510.6 332.6 511.7 334.6C512.8 336.6 514.1 341.1 515.5 344.3C516.9 347.5 518.2 351.4 520.3 353.9C522.4 356.4 525.8 358.2 528.0 359.3C530.2 360.4 532.8 360.5 533.8 360.7" fill="none" stroke="#231f20" stroke-width="1.85" stroke-linejoin="round"/>
<path clip-path="url(#cd)" d="M395.0 429.9C397.5 429.9 406.2 429.7 410.0 429.7C413.8 429.7 416.0 429.8 418.0 429.7C420.0 429.6 420.4 430.3 422.0 429.4C423.6 428.5 426.0 427.2 427.8 424.5C429.6 421.8 431.2 417.8 432.6 413.0C434.1 408.2 435.2 401.4 436.5 395.6C437.8 389.8 439.2 382.3 440.3 378.3C441.4 374.3 442.2 372.9 443.2 371.5C444.2 370.1 445.1 369.7 446.1 370.2C447.1 370.7 447.9 371.4 449.0 374.4C450.1 377.3 451.4 383.1 452.8 387.9C454.2 392.7 455.9 398.5 457.7 403.3C459.5 408.1 461.4 413.3 463.5 416.8C465.6 420.3 468.1 422.6 470.2 424.5C472.3 426.4 474.2 427.3 476.0 428.0C477.8 428.7 479.0 429.1 480.8 428.8C482.6 428.6 484.5 428.0 486.6 426.5C488.7 425.0 491.2 422.3 493.3 419.7C495.4 417.1 497.2 413.8 499.1 411.1C501.0 408.4 503.3 405.0 504.9 403.3C506.5 401.6 507.7 401.0 508.8 401.0C509.9 401.0 510.6 401.3 511.7 403.3C512.8 405.3 514.1 409.8 515.5 413.0C516.9 416.2 518.2 420.1 520.3 422.6C522.4 425.1 525.8 426.9 528.0 428.0C530.2 429.1 532.8 429.2 533.8 429.4" fill="none" stroke="#231f20" stroke-width="1.85" stroke-linejoin="round"/>
<path clip-path="url(#ce)" d="M571.0 64.5C572.9 64.6 578.8 64.4 582.6 65.0C586.5 65.6 590.2 67.1 594.1 68.3C598.0 69.5 601.8 70.8 605.7 72.2C609.6 73.7 613.8 75.1 617.3 77.0C620.8 78.9 624.3 81.8 626.9 83.7C629.5 85.6 630.9 87.4 632.7 88.6C634.5 89.8 636.0 90.8 637.5 90.9C639.0 91.1 639.9 91.8 641.4 89.5C642.9 87.2 644.8 81.7 646.2 77.0C647.7 72.3 648.8 67.1 650.1 61.6C651.4 56.1 652.6 49.0 653.9 44.2C655.2 39.4 656.6 35.0 657.8 32.6C659.0 30.2 659.9 29.5 661.2 29.7C662.5 29.9 663.8 32.3 665.5 33.6C667.2 34.9 669.4 37.3 671.3 37.5C673.2 37.7 675.3 35.8 677.1 35.0C678.9 34.2 680.5 32.8 681.9 33.0C683.3 33.2 684.4 34.6 685.7 36.5C687.0 38.4 688.2 41.3 689.6 44.2C691.0 47.1 692.6 51.2 694.4 53.9C696.2 56.6 698.3 59.0 700.2 60.6C702.1 62.2 704.4 62.9 706.0 63.5C707.6 64.2 709.3 64.3 710.0 64.5" fill="none" stroke="#231f20" stroke-width="1.85" stroke-linejoin="round"/>
<path clip-path="url(#ce)" d="M571.0 134.8C574.2 135.1 584.5 135.3 590.3 136.4C596.1 137.5 600.9 139.3 605.7 141.2C610.5 143.1 615.4 145.7 619.2 147.9C623.1 150.2 625.9 152.7 628.8 154.7C631.7 156.7 634.5 158.8 636.6 159.9C638.7 161.0 640.0 161.7 641.4 161.0C642.8 160.3 643.9 159.1 645.2 155.6C646.5 152.1 647.8 146.0 649.1 140.2C650.4 134.4 651.7 126.7 653.0 120.9C654.3 115.1 655.5 108.9 656.8 105.5C658.1 102.1 659.6 101.5 660.7 100.7C661.8 99.9 662.2 100.2 663.2 100.7C664.2 101.2 665.1 102.5 666.5 103.6C667.9 104.7 669.5 107.2 671.3 107.4C673.1 107.6 675.3 105.5 677.1 104.5C678.9 103.5 680.5 101.3 681.9 101.6C683.3 101.9 684.4 104.1 685.7 106.5C687.0 108.9 688.2 112.9 689.6 116.1C691.0 119.3 692.6 123.0 694.4 125.7C696.2 128.4 698.3 131.0 700.2 132.5C702.1 134.0 704.4 134.3 706.0 134.8C707.6 135.3 709.3 135.3 710.0 135.4" fill="none" stroke="#231f20" stroke-width="1.85" stroke-linejoin="round"/>
<path clip-path="url(#ce)" d="M571.0 202.8C572.9 203.0 579.4 203.1 582.6 204.0C585.8 204.9 587.7 206.2 590.3 208.2C592.9 210.2 595.4 213.3 598.0 215.9C600.6 218.5 603.3 221.6 605.7 223.6C608.1 225.6 610.6 227.1 612.5 227.9C614.4 228.7 615.7 228.7 617.3 228.5C618.9 228.3 620.5 228.3 622.1 226.5C623.7 224.7 625.3 221.5 626.9 217.8C628.5 214.1 630.1 209.2 631.7 204.4C633.3 199.6 635.2 192.8 636.6 188.9C638.0 185.0 639.2 183.0 640.4 181.2C641.6 179.4 642.8 178.5 643.9 178.3C645.0 178.1 646.0 179.5 647.2 180.2C648.4 180.8 649.6 182.5 651.0 182.2C652.4 181.9 654.3 179.9 655.8 178.3C657.3 176.7 658.9 173.8 660.1 172.5C661.3 171.2 662.1 170.6 663.2 170.6C664.3 170.6 665.1 171.1 666.5 172.5C667.9 173.9 669.7 176.9 671.3 179.3C672.9 181.7 674.3 184.6 676.1 187.0C677.9 189.4 679.8 191.8 681.9 193.7C684.0 195.6 685.9 197.3 688.6 198.6C691.3 199.9 694.7 200.8 698.3 201.5C701.9 202.2 708.0 202.6 710.0 202.8" fill="none" stroke="#231f20" stroke-width="1.85" stroke-linejoin="round"/>
<path clip-path="url(#ce)" d="M571.0 273.0C572.9 273.2 579.4 273.4 582.6 274.3C585.8 275.2 587.7 276.4 590.3 278.2C592.9 280.0 595.4 282.5 598.0 284.9C600.6 287.3 603.1 290.5 605.7 292.6C608.3 294.7 611.1 296.5 613.4 297.5C615.6 298.5 617.4 299.1 619.2 298.8C621.0 298.5 622.4 297.8 624.0 295.5C625.6 293.2 627.3 288.9 628.8 284.9C630.2 280.9 631.2 276.2 632.7 271.4C634.2 266.6 636.0 259.9 637.5 256.0C639.0 252.2 640.3 249.9 641.4 248.3C642.5 246.8 642.9 246.5 643.9 246.7C644.9 246.8 646.0 248.4 647.2 249.2C648.4 249.9 649.6 251.5 651.0 251.2C652.4 250.9 654.3 249.1 655.8 247.3C657.3 245.5 658.9 242.2 660.1 240.6C661.3 239.0 662.1 237.7 663.2 237.7C664.3 237.7 665.1 238.8 666.5 240.6C667.9 242.4 669.5 245.4 671.3 248.3C673.1 251.2 675.2 255.3 677.1 257.9C679.0 260.5 680.5 261.9 682.8 263.7C685.0 265.5 687.4 267.1 690.6 268.5C693.8 269.9 698.9 271.1 702.1 271.8C705.3 272.6 708.7 272.8 710.0 273.0" fill="none" stroke="#231f20" stroke-width="1.85" stroke-linejoin="round"/>
<path clip-path="url(#ce)" d="M571.0 343.3C572.0 343.6 574.9 343.8 576.8 345.2C578.7 346.6 580.4 349.3 582.6 352.0C584.9 354.7 587.7 359.2 590.3 361.6C592.9 364.0 595.8 366.3 598.0 366.5C600.2 366.7 602.0 365.7 603.8 362.6C605.6 359.5 607.1 354.1 608.6 348.1C610.1 342.2 611.2 333.6 612.5 326.9C613.8 320.1 615.0 312.1 616.3 307.6C617.6 303.1 618.9 301.0 620.2 299.9C621.5 298.8 622.6 299.3 624.0 300.9C625.4 302.5 627.0 306.2 628.8 309.6C630.6 313.0 632.4 317.1 634.6 321.1C636.9 325.1 639.7 330.1 642.3 333.7C644.9 337.2 647.7 340.1 650.1 342.4C652.5 344.6 654.9 346.2 656.8 347.2C658.7 348.1 660.0 348.4 661.6 348.1C663.2 347.8 664.7 347.1 666.5 345.2C668.3 343.3 670.3 339.7 672.2 336.6C674.1 333.6 676.4 329.3 678.0 326.9C679.6 324.5 680.8 323.1 681.9 322.1C683.0 321.1 683.7 320.8 684.8 321.1C685.9 321.4 687.2 322.4 688.6 324.0C690.0 325.6 691.6 328.7 693.4 330.8C695.2 332.9 697.1 335.2 699.2 336.6C701.3 338.1 704.2 338.8 706.0 339.5C707.8 340.2 709.3 340.6 710.0 340.8" fill="none" stroke="#231f20" stroke-width="1.85" stroke-linejoin="round"/>
<path clip-path="url(#ce)" d="M571.0 412.3C572.0 412.6 574.9 412.5 576.8 413.8C578.7 415.1 580.4 417.4 582.6 420.0C584.9 422.6 587.6 427.0 590.3 429.6C593.0 432.2 596.8 435.3 599.0 435.8C601.2 436.3 602.2 435.4 603.8 432.5C605.4 429.6 607.1 424.4 608.6 418.1C610.1 411.8 611.2 401.6 612.5 394.9C613.8 388.1 615.0 381.8 616.3 377.6C617.6 373.4 619.1 371.3 620.2 369.9C621.3 368.4 621.7 367.6 623.1 368.9C624.5 370.2 626.9 374.2 628.8 377.6C630.7 381.0 632.4 384.8 634.6 389.1C636.9 393.4 639.7 399.6 642.3 403.6C644.9 407.6 647.7 410.9 650.1 413.2C652.5 415.5 655.0 416.9 656.8 417.7C658.6 418.5 659.1 418.6 660.7 418.1C662.3 417.6 664.6 416.7 666.5 414.6C668.4 412.5 670.3 408.8 672.2 405.5C674.1 402.2 676.4 397.5 678.0 394.9C679.6 392.3 680.8 391.1 681.9 390.1C683.0 389.1 683.7 388.8 684.8 389.1C685.9 389.4 687.2 390.2 688.6 392.0C690.0 393.8 691.6 397.3 693.4 399.7C695.2 402.1 697.1 404.9 699.2 406.5C701.3 408.1 704.2 408.7 706.0 409.4C707.8 410.1 709.3 410.5 710.0 410.7" fill="none" stroke="#231f20" stroke-width="1.85" stroke-linejoin="round"/>
<path clip-path="url(#cc)" d="M255.0 161.2C256.2 161.1 259.6 160.8 262.0 160.6C264.4 160.3 267.0 160.1 269.5 159.7C272.0 159.3 274.4 158.9 276.9 158.2C279.4 157.4 282.1 156.7 284.4 155.2C286.6 153.7 288.7 152.2 290.4 149.2C292.1 146.2 293.6 141.5 294.8 137.3C296.0 133.1 296.9 128.6 297.8 123.9C298.7 119.2 299.5 113.9 300.1 108.9C300.7 103.9 301.0 99.9 301.6 94.0C302.2 88.1 303.0 80.7 303.9 73.3C304.8 65.9 306.0 56.4 306.9 49.4C307.8 42.4 308.4 35.6 309.1 31.5C309.8 27.4 310.4 25.2 311.3 24.7C312.2 24.2 313.2 26.1 314.3 28.5C315.4 30.9 316.9 36.4 318.0 38.9C319.1 41.4 319.9 42.8 321.0 43.4C322.1 44.0 323.7 42.8 324.8 42.7C325.9 42.6 326.9 41.3 327.8 42.7C328.7 44.1 329.3 47.8 330.0 50.9C330.7 54.0 331.4 57.1 332.2 61.3C332.9 65.5 333.9 71.7 334.5 76.2C335.1 80.7 335.5 84.2 336.0 88.2C336.5 92.2 336.9 95.3 337.5 100.0C338.1 104.7 338.7 110.9 339.7 116.4C340.7 121.9 341.9 128.1 343.4 132.8C344.9 137.5 346.9 141.7 348.7 144.7C350.5 147.7 352.4 149.3 354.0 151.0C355.6 152.7 357.3 154.3 358.0 155.0" fill="none" stroke="#c4202e" stroke-width="1.85" stroke-dasharray="3 2" stroke-linejoin="round"/>
<path clip-path="url(#cc)" d="M250.0 298.8C251.3 298.7 255.3 299.0 258.0 298.0C260.7 297.0 263.7 295.7 266.0 293.0C268.3 290.3 270.2 286.7 272.0 282.0C273.8 277.3 275.6 271.2 277.0 265.0C278.4 258.8 279.6 251.2 280.5 245.0C281.4 238.8 281.9 235.9 282.6 228.0C283.3 220.1 283.9 206.2 284.6 197.3C285.3 188.5 286.1 180.5 286.9 174.9C287.6 169.3 288.2 164.7 289.1 163.7C290.0 162.7 291.0 164.6 292.1 169.0C293.2 173.4 294.6 183.9 295.8 189.9C297.1 195.9 298.6 201.8 299.6 204.8C300.6 207.8 300.7 208.8 301.8 207.8C302.9 206.8 304.8 202.2 306.3 198.8C307.8 195.4 309.5 189.3 310.7 187.6C311.9 185.9 312.7 186.3 313.7 188.4C314.7 190.5 315.7 195.1 316.7 200.3C317.7 205.5 318.9 214.8 319.7 219.7C320.4 224.6 320.3 225.0 321.2 230.0C322.1 235.0 323.1 242.4 325.0 249.6C326.9 256.8 329.7 266.9 332.4 273.4C335.1 279.9 338.5 284.8 341.4 288.4C344.3 292.0 347.2 293.5 350.0 295.0C352.8 296.5 356.7 297.2 358.0 297.6" fill="none" stroke="#c4202e" stroke-width="1.85" stroke-dasharray="3 2" stroke-linejoin="round"/>
<path clip-path="url(#cc)" d="M225.0 436.5C227.5 436.4 235.7 437.7 240.0 435.9C244.3 434.1 247.8 431.1 251.0 425.5C254.2 419.9 257.1 412.8 259.5 402.5C261.9 392.2 263.8 377.1 265.5 363.7C267.2 350.3 268.6 331.8 270.0 321.9C271.4 311.9 272.8 305.0 274.2 304.0C275.6 303.0 277.1 308.4 278.5 315.9C279.9 323.3 281.1 337.8 282.7 348.7C284.3 359.6 286.0 372.1 288.2 381.6C290.4 391.1 293.1 399.8 295.6 405.5C298.1 411.2 300.8 415.0 303.0 416.0C305.2 417.0 307.1 416.1 309.0 411.4C310.9 406.7 312.6 397.7 314.5 387.6C316.4 377.5 318.6 361.6 320.3 350.7C322.0 339.8 323.4 329.3 324.5 321.9C325.6 314.4 326.1 306.6 327.0 306.0C327.9 305.4 328.9 310.7 330.2 318.0C331.5 325.3 333.2 338.1 334.8 349.7C336.4 361.3 337.8 376.3 339.6 387.6C341.5 398.9 343.4 410.2 345.9 417.4C348.4 424.6 352.8 428.3 354.8 430.8C356.8 433.3 357.5 432.2 358.0 432.5" fill="none" stroke="#c4202e" stroke-width="1.85" stroke-dasharray="3 2" stroke-linejoin="round"/>
<path clip-path="url(#cd)" d="M395.0 86.4C399.2 86.3 412.5 86.0 420.0 86.0C427.5 86.0 434.2 86.2 440.0 86.4C445.8 86.6 451.6 86.5 455.0 87.0C458.4 87.5 458.7 88.6 460.6 89.5C462.5 90.4 464.4 91.9 466.3 92.4C468.2 92.9 470.5 93.7 472.1 92.4C473.7 91.1 474.7 89.8 476.0 84.7C477.3 79.6 478.5 70.0 479.8 61.6C481.1 53.2 482.5 40.6 483.7 34.6C484.9 28.7 486.1 25.9 487.2 25.9C488.3 25.9 489.2 30.6 490.4 34.6C491.6 38.6 493.2 46.5 494.3 50.0C495.4 53.5 496.1 56.6 497.2 55.8C498.3 55.0 499.9 47.5 501.1 45.2C502.3 43.0 503.4 41.8 504.5 42.3C505.6 42.8 506.6 44.9 507.8 48.1C509.0 51.3 510.2 57.4 511.7 61.6C513.1 65.8 514.7 69.9 516.5 73.1C518.3 76.3 520.4 78.9 522.3 80.8C524.2 82.7 526.1 83.8 528.0 84.7C529.9 85.6 532.8 85.8 533.8 86.0" fill="none" stroke="#c4202e" stroke-width="1.85" stroke-dasharray="3 2" stroke-linejoin="round"/>
<path clip-path="url(#cd)" d="M395.0 154.9C399.2 154.9 412.5 154.7 420.0 154.7C427.5 154.7 434.2 154.8 440.0 155.0C445.8 155.2 451.2 155.2 455.0 155.8C458.8 156.4 460.3 157.4 462.5 158.5C464.7 159.6 466.5 161.9 468.3 162.4C470.1 162.9 471.7 163.5 473.1 161.4C474.6 159.3 475.7 155.9 477.0 149.8C478.3 143.7 479.5 132.8 480.8 124.8C482.1 116.8 483.5 106.8 484.7 101.6C485.9 96.4 486.8 93.6 487.9 93.9C489.0 94.2 490.2 100.1 491.4 103.6C492.6 107.1 494.2 112.8 495.3 115.1C496.4 117.3 497.1 118.0 498.2 117.1C499.3 116.1 500.9 111.3 502.0 109.4C503.1 107.5 503.5 105.3 504.5 105.9C505.5 106.5 506.6 109.4 507.8 113.2C509.0 117.0 510.1 123.6 511.7 128.6C513.3 133.6 515.3 139.4 517.4 143.1C519.5 146.8 521.5 148.9 524.2 150.8C526.9 152.7 532.2 153.9 533.8 154.5" fill="none" stroke="#c4202e" stroke-width="1.85" stroke-dasharray="3 2" stroke-linejoin="round"/>
<path clip-path="url(#cd)" d="M395.0 224.4C399.2 224.4 413.5 224.2 420.0 224.2C426.5 224.2 430.7 224.3 434.0 224.6C437.3 224.9 438.0 225.3 440.0 226.0C442.0 226.7 444.3 228.2 446.0 229.0C447.7 229.8 448.9 230.9 450.0 231.0C451.1 231.1 451.5 233.2 452.8 229.4C454.1 225.6 456.2 216.5 457.7 208.2C459.1 199.8 460.4 186.7 461.5 179.3C462.6 171.9 463.5 167.2 464.4 163.9C465.3 160.6 465.9 159.5 466.7 159.5C467.5 159.5 468.3 159.3 469.2 163.9C470.1 168.5 471.0 179.6 472.1 187.0C473.2 194.4 474.8 203.9 476.0 208.2C477.2 212.5 478.2 214.0 479.3 213.0C480.4 212.0 481.5 206.4 482.7 202.4C483.9 198.4 485.5 191.6 486.6 188.9C487.7 186.2 488.4 185.3 489.5 186.0C490.6 186.7 491.9 189.4 493.3 192.8C494.8 196.2 496.6 202.5 498.2 206.3C499.8 210.2 500.9 213.3 503.0 215.9C505.1 218.5 507.9 220.4 510.7 221.7C513.5 223.0 516.1 223.4 520.0 223.8C523.9 224.2 531.5 224.1 533.8 224.2" fill="none" stroke="#c4202e" stroke-width="1.85" stroke-dasharray="3 2" stroke-linejoin="round"/>
<path clip-path="url(#cd)" d="M395.0 293.0C399.2 293.0 413.5 292.8 420.0 292.8C426.5 292.8 430.7 292.9 434.0 293.2C437.3 293.5 438.0 293.9 440.0 294.6C442.0 295.3 444.3 296.7 446.0 297.5C447.7 298.3 448.9 299.5 450.0 299.5C451.1 299.5 451.5 301.5 452.8 297.5C454.1 293.5 456.2 283.8 457.7 275.3C459.1 266.8 460.3 253.5 461.5 246.4C462.7 239.3 463.9 235.5 464.8 232.9C465.7 230.3 466.0 230.3 466.7 230.9C467.4 231.5 468.1 231.5 469.2 236.7C470.3 241.8 472.0 255.4 473.1 261.8C474.2 268.2 475.1 272.6 476.0 275.3C476.9 278.0 477.4 279.5 478.5 278.2C479.6 276.9 481.3 271.3 482.7 267.6C484.1 263.9 485.5 258.4 486.6 256.0C487.7 253.6 488.4 252.4 489.5 253.1C490.6 253.8 491.9 256.5 493.3 259.9C494.8 263.3 496.4 269.2 498.2 273.4C500.0 277.6 501.8 282.0 503.9 284.9C506.0 287.8 508.3 289.2 511.0 290.5C513.7 291.8 516.2 292.1 520.0 292.5C523.8 292.9 531.5 292.9 533.8 293.0" fill="none" stroke="#c4202e" stroke-width="1.85" stroke-dasharray="3 2" stroke-linejoin="round"/>
<path clip-path="url(#cd)" d="M395.0 361.4C397.5 361.4 406.2 361.1 410.0 361.2C413.8 361.3 415.7 361.4 418.0 361.8C420.3 362.2 421.6 362.7 423.9 363.6C426.2 364.5 429.2 367.4 431.6 367.4C434.0 367.4 436.5 368.7 438.4 363.6C440.3 358.5 441.8 345.9 443.2 336.6C444.6 327.3 446.0 313.9 447.1 307.6C448.2 301.3 449.1 299.3 450.0 299.0C450.9 298.7 451.7 301.7 452.8 305.7C453.9 309.7 455.2 317.0 456.7 323.1C458.1 329.2 459.6 337.3 461.5 342.4C463.4 347.5 465.2 350.7 468.3 353.9C471.4 357.1 476.6 359.7 479.8 361.6C483.0 363.5 485.4 365.8 487.6 365.5C489.9 365.2 491.7 364.5 493.3 359.7C494.9 354.9 496.1 344.3 497.2 336.6C498.3 328.9 499.1 318.7 500.1 313.4C501.1 308.1 502.0 305.7 503.0 304.7C504.0 303.7 504.9 304.9 505.9 307.6C506.9 310.3 507.7 315.6 508.8 321.1C509.9 326.6 511.2 334.9 512.6 340.4C514.0 345.9 515.5 350.8 517.4 353.9C519.3 357.0 521.5 358.1 524.2 359.3C526.9 360.5 532.2 360.6 533.8 360.9" fill="none" stroke="#c4202e" stroke-width="1.85" stroke-dasharray="3 2" stroke-linejoin="round"/>
<path clip-path="url(#cd)" d="M395.0 430.1C397.5 430.1 406.2 429.8 410.0 429.9C413.8 430.0 415.7 430.1 418.0 430.5C420.3 430.9 421.6 431.4 423.9 432.3C426.2 433.2 429.2 436.1 431.6 436.1C434.0 436.1 436.5 437.4 438.4 432.3C440.3 427.2 441.8 414.6 443.2 405.3C444.6 396.0 446.0 382.6 447.1 376.3C448.2 370.0 449.1 368.0 450.0 367.7C450.9 367.4 451.7 370.4 452.8 374.4C453.9 378.4 455.2 385.7 456.7 391.8C458.1 397.9 459.6 406.0 461.5 411.1C463.4 416.2 465.2 419.4 468.3 422.6C471.4 425.8 476.6 428.4 479.8 430.3C483.0 432.2 485.4 434.5 487.6 434.2C489.9 433.9 491.7 433.2 493.3 428.4C494.9 423.6 496.1 413.0 497.2 405.3C498.3 397.6 499.1 387.4 500.1 382.1C501.1 376.8 502.0 374.4 503.0 373.4C504.0 372.4 504.9 373.6 505.9 376.3C506.9 379.0 507.7 384.3 508.8 389.8C509.9 395.3 511.2 403.6 512.6 409.1C514.0 414.6 515.5 419.4 517.4 422.6C519.3 425.8 521.5 426.8 524.2 428.0C526.9 429.2 532.2 429.3 533.8 429.6" fill="none" stroke="#c4202e" stroke-width="1.85" stroke-dasharray="3 2" stroke-linejoin="round"/>
<path clip-path="url(#ce)" d="M571.0 64.5C574.9 64.7 587.7 65.1 594.1 65.4C600.5 65.7 605.1 65.9 609.6 66.4C614.1 66.9 617.9 67.3 621.1 68.5C624.3 69.7 626.5 71.8 628.8 73.5C631.0 75.2 632.7 76.4 634.6 78.9C636.5 81.4 638.6 86.2 640.4 88.6C642.2 91.0 643.8 93.4 645.2 93.4C646.7 93.4 647.8 92.6 649.1 88.6C650.4 84.6 651.7 77.0 653.0 69.3C654.3 61.6 655.5 49.0 656.8 42.3C658.1 35.5 659.4 31.7 660.7 28.8C662.0 25.9 663.2 24.6 664.5 24.9C665.8 25.2 667.1 29.1 668.4 30.7C669.7 32.3 670.8 34.9 672.2 34.6C673.7 34.3 675.7 30.4 677.1 28.8C678.5 27.2 679.4 24.8 680.5 24.9C681.6 25.0 682.6 27.1 683.8 29.7C685.0 32.3 686.1 36.4 687.7 40.4C689.3 44.4 691.3 50.5 693.4 53.9C695.5 57.3 697.4 59.0 700.2 60.6C703.0 62.2 708.4 63.0 710.0 63.5" fill="none" stroke="#c4202e" stroke-width="1.85" stroke-dasharray="3 2" stroke-linejoin="round"/>
<path clip-path="url(#ce)" d="M571.0 134.8C577.4 135.1 601.2 135.8 609.6 136.4C618.0 137.0 617.9 137.3 621.1 138.5C624.3 139.7 626.2 141.4 628.8 143.6C631.4 145.8 634.5 149.2 636.6 151.8C638.7 154.5 640.0 157.7 641.4 159.5C642.8 161.3 643.9 163.1 645.2 162.4C646.5 161.8 647.8 159.9 649.1 155.6C650.4 151.3 651.7 143.5 653.0 136.4C654.3 129.3 655.6 119.0 656.8 113.2C658.0 107.4 659.0 104.2 660.1 101.6C661.2 99.0 662.4 97.9 663.6 97.8C664.8 97.7 666.1 99.9 667.4 100.7C668.7 101.5 669.8 103.2 671.3 102.6C672.8 101.9 674.6 98.1 676.1 96.8C677.6 95.5 678.7 94.4 680.0 94.9C681.3 95.4 682.5 97.1 683.8 99.7C685.1 102.3 686.1 106.3 687.7 110.3C689.3 114.3 691.0 120.3 693.4 123.8C695.8 127.3 699.3 129.9 702.1 131.5C704.9 133.1 708.7 133.2 710.0 133.5" fill="none" stroke="#c4202e" stroke-width="1.85" stroke-dasharray="3 2" stroke-linejoin="round"/>
<path clip-path="url(#ce)" d="M571.0 202.8C573.6 203.0 581.9 203.4 586.4 204.0C590.9 204.6 594.5 205.1 598.0 206.3C601.5 207.5 604.7 209.0 607.6 211.3C610.5 213.6 613.1 217.7 615.4 220.3C617.6 222.9 619.6 225.5 621.1 227.0C622.6 228.5 623.4 230.0 624.5 229.5C625.6 229.0 626.9 227.2 627.9 224.0C628.9 220.8 629.7 216.6 630.8 210.1C631.9 203.6 633.3 192.2 634.6 185.1C635.9 178.0 637.4 171.7 638.5 167.7C639.6 163.7 640.3 161.0 641.4 161.0C642.5 161.0 643.9 164.0 645.2 167.7C646.5 171.4 647.8 179.4 649.1 183.1C650.4 186.8 651.5 190.2 653.0 189.9C654.5 189.6 656.2 184.9 657.8 181.2C659.4 177.5 661.2 170.5 662.6 167.7C664.0 164.9 664.8 164.2 665.9 164.2C667.0 164.2 668.1 165.5 669.3 167.7C670.5 169.9 671.8 174.0 673.2 177.4C674.7 180.8 676.2 185.1 678.0 188.0C679.8 190.9 681.7 192.9 683.8 194.7C685.9 196.5 687.5 197.5 690.6 198.6C693.7 199.7 698.9 200.9 702.1 201.5C705.3 202.1 708.7 202.2 710.0 202.4" fill="none" stroke="#c4202e" stroke-width="1.85" stroke-dasharray="3 2" stroke-linejoin="round"/>
<path clip-path="url(#ce)" d="M571.0 273.0C574.2 273.2 585.1 273.7 590.3 274.3C595.4 274.9 598.4 275.0 601.9 276.4C605.4 277.8 608.8 280.0 611.5 282.5C614.2 285.0 616.4 288.8 618.2 291.2C620.0 293.6 621.1 295.8 622.1 297.0C623.1 298.2 623.4 299.9 624.5 298.5C625.6 297.1 627.4 293.0 628.8 288.8C630.2 284.6 631.4 280.1 632.7 273.4C634.0 266.6 635.5 254.7 636.6 248.3C637.7 241.9 638.6 237.6 639.5 234.8C640.4 232.0 641.0 230.8 642.0 231.3C643.0 231.8 644.0 234.5 645.2 237.7C646.4 240.8 647.8 246.8 649.1 250.2C650.4 253.6 651.5 258.2 653.0 257.9C654.5 257.6 656.4 251.7 657.8 248.3C659.2 244.9 660.3 240.0 661.6 237.7C662.9 235.4 664.2 234.4 665.5 234.4C666.8 234.4 667.8 235.1 669.3 237.7C670.8 240.3 672.6 246.5 674.2 250.2C675.8 253.9 677.2 257.3 679.0 259.9C680.8 262.5 682.5 264.1 684.8 265.6C687.0 267.1 688.3 267.7 692.5 268.8C696.7 269.9 707.1 271.8 710.0 272.4" fill="none" stroke="#c4202e" stroke-width="1.85" stroke-dasharray="3 2" stroke-linejoin="round"/>
<path clip-path="url(#ce)" d="M571.0 343.3C572.9 343.6 579.4 344.3 582.6 345.2C585.8 346.1 587.8 347.7 590.0 348.5C592.2 349.3 593.8 347.9 596.1 350.1C598.4 352.3 601.4 358.7 603.8 361.6C606.2 364.6 608.7 367.8 610.5 367.8C612.3 367.8 613.1 366.8 614.4 361.6C615.7 356.4 616.9 345.0 618.2 336.6C619.5 328.2 620.9 317.3 622.1 311.5C623.3 305.7 624.4 303.7 625.4 301.9C626.4 300.1 626.8 299.9 627.9 300.9C629.0 301.8 630.2 304.2 631.7 307.6C633.2 311.0 634.8 316.6 636.6 321.1C638.4 325.6 640.0 330.4 642.3 334.6C644.5 338.8 647.9 343.0 650.1 346.2C652.4 349.4 653.9 351.3 655.8 353.9C657.7 356.5 660.3 360.2 661.6 361.6C662.9 363.1 662.6 363.6 663.6 362.6C664.6 361.6 666.1 360.8 667.4 355.8C668.7 350.8 670.0 340.1 671.3 332.7C672.6 325.3 673.8 316.4 675.1 311.5C676.4 306.6 677.8 304.4 679.0 303.4C680.2 302.4 681.2 303.4 682.5 305.7C683.8 308.0 685.0 313.1 686.7 317.3C688.4 321.5 689.9 327.3 692.5 330.8C695.1 334.3 699.2 336.9 702.1 338.5C705.0 340.1 708.7 340.1 710.0 340.4" fill="none" stroke="#c4202e" stroke-width="1.85" stroke-dasharray="3 2" stroke-linejoin="round"/>
<path clip-path="url(#ce)" d="M571.0 412.3C572.9 412.6 579.4 412.9 582.6 413.8C585.8 414.7 587.8 416.3 590.0 417.5C592.2 418.7 593.8 418.6 596.1 421.0C598.4 423.4 601.7 429.4 603.8 431.6C605.9 433.9 607.3 434.2 608.6 434.5C609.9 434.8 610.4 435.6 611.5 433.5C612.6 431.4 614.1 427.7 615.4 421.9C616.7 416.1 617.9 405.9 619.2 398.8C620.5 391.7 621.8 384.1 623.1 379.5C624.4 374.9 625.6 372.4 626.9 371.4C628.2 370.4 629.2 371.1 630.8 373.7C632.4 376.3 634.7 382.5 636.6 387.2C638.5 391.9 640.0 397.4 642.3 401.7C644.5 406.0 647.5 409.8 650.1 413.2C652.7 416.6 655.7 419.4 657.8 421.9C659.9 424.4 661.0 428.1 662.6 428.1C664.2 428.1 666.0 426.8 667.4 421.9C668.8 417.0 670.0 406.2 671.3 398.8C672.6 391.4 673.8 382.4 675.1 377.6C676.4 372.8 677.8 370.5 679.0 369.9C680.2 369.2 681.2 370.8 682.5 373.7C683.8 376.6 685.0 382.9 686.7 387.2C688.4 391.5 689.9 396.3 692.5 399.7C695.1 403.1 699.2 405.7 702.1 407.5C705.0 409.3 708.7 409.9 710.0 410.4" fill="none" stroke="#c4202e" stroke-width="1.85" stroke-dasharray="3 2" stroke-linejoin="round"/>
<path clip-path="url(#cc)" d="M219.0 161.2C222.5 161.1 234.0 161.1 240.0 160.9C246.0 160.8 251.3 160.5 255.0 160.3C258.7 160.1 260.1 159.9 262.0 159.7C263.9 159.5 264.3 159.6 266.5 159.2C268.7 158.8 272.7 158.3 275.4 157.4C278.1 156.5 280.6 155.3 282.9 153.7C285.1 152.1 287.2 150.4 288.9 147.7C290.6 145.0 292.1 141.3 293.3 137.3C294.5 133.3 295.4 128.6 296.3 123.9C297.2 119.2 298.0 113.9 298.6 108.9C299.2 103.9 299.4 100.7 300.1 94.0C300.9 87.3 302.1 76.7 303.1 68.8C304.1 60.9 305.2 52.9 306.1 46.4C307.0 39.9 307.7 33.4 308.4 30.0C309.1 26.6 309.6 25.7 310.3 25.8C311.0 25.9 311.8 27.8 312.8 30.7C313.9 33.6 315.4 40.0 316.6 43.4C317.9 46.8 319.2 49.7 320.3 50.9C321.4 52.1 322.3 50.7 323.3 50.6C324.3 50.5 325.4 49.9 326.3 50.1C327.2 50.3 327.8 50.2 328.5 51.6C329.2 53.0 329.9 54.9 330.7 58.3C331.4 61.7 332.2 67.6 333.0 71.8C333.8 76.0 334.6 80.0 335.2 83.7C335.8 87.4 335.9 88.5 336.7 94.0C337.4 99.5 338.6 109.9 339.7 116.4C340.8 122.9 341.9 128.1 343.4 132.8C344.9 137.5 346.9 141.7 348.7 144.7C350.5 147.7 352.4 149.3 354.0 151.0C355.6 152.7 357.3 154.3 358.0 155.0" fill="none" stroke="#1f8f60" stroke-width="1.85" stroke-linejoin="round"/>
<path clip-path="url(#cc)" d="M219.0 298.6C221.7 298.6 230.7 298.4 235.0 298.3C239.3 298.2 241.7 298.2 245.0 297.9C248.3 297.5 251.6 297.3 254.6 296.2C257.6 295.1 260.6 294.1 263.1 291.5C265.6 288.9 267.6 285.5 269.5 280.9C271.4 276.3 273.2 270.2 274.8 263.8C276.4 257.4 277.8 249.7 279.0 242.6C280.2 235.5 281.4 226.9 282.2 221.3C282.9 215.8 283.1 213.0 283.5 209.3C283.9 205.6 284.2 203.0 284.6 199.0C285.0 195.0 285.4 190.2 286.1 185.4C286.9 180.6 288.3 173.3 289.1 170.4C289.9 167.5 290.2 167.6 291.0 167.8C291.8 168.1 292.6 168.6 293.6 171.9C294.7 175.2 296.1 183.7 297.3 187.6C298.5 191.5 299.8 195.1 301.0 195.5C302.2 195.9 303.4 191.8 304.8 189.9C306.2 188.0 308.1 184.2 309.3 183.9C310.5 183.7 311.2 185.7 312.2 188.4C313.2 191.1 314.2 195.6 315.2 200.3C316.2 205.0 317.4 211.8 318.2 216.7C318.9 221.6 319.1 226.2 319.7 230.0C320.3 233.8 320.6 234.3 322.0 239.6C323.4 244.8 325.8 254.9 328.0 261.5C330.2 268.1 332.7 274.4 335.4 279.4C338.1 284.4 340.9 288.3 344.4 291.3C347.9 294.3 354.0 296.2 356.3 297.3C358.6 298.4 357.7 297.6 358.0 297.6" fill="none" stroke="#1f8f60" stroke-width="1.85" stroke-linejoin="round"/>
<path clip-path="url(#cc)" d="M219.0 436.4C222.0 436.3 231.9 437.6 236.9 435.9C241.9 434.2 245.4 432.0 248.9 426.4C252.4 420.8 255.3 412.9 257.8 402.5C260.3 392.1 262.1 377.1 263.8 363.7C265.6 350.3 266.8 332.3 268.3 321.9C269.8 311.4 271.2 302.0 272.7 301.0C274.2 300.0 275.7 307.9 277.2 315.9C278.7 323.8 279.9 337.8 281.7 348.7C283.4 359.6 285.5 372.1 287.7 381.6C289.9 391.1 292.6 399.8 295.1 405.5C297.6 411.2 300.4 414.9 302.6 415.9C304.9 416.9 306.6 416.1 308.6 411.4C310.6 406.7 312.5 398.1 314.5 387.6C316.5 377.2 318.8 359.6 320.5 348.7C322.2 337.8 323.9 327.5 325.0 321.9C326.1 316.3 326.4 315.3 327.4 315.3C328.4 315.3 329.6 315.8 330.9 321.9C332.2 328.0 333.9 340.8 335.4 351.7C336.9 362.6 338.1 376.7 339.9 387.6C341.6 398.6 343.4 410.2 345.9 417.4C348.4 424.6 352.8 428.3 354.8 430.8C356.8 433.3 357.5 432.2 358.0 432.5" fill="none" stroke="#1f8f60" stroke-width="1.85" stroke-linejoin="round"/>
<path clip-path="url(#cd)" d="M395.0 86.2C399.2 86.1 412.5 85.8 420.0 85.8C427.5 85.8 434.2 86.1 440.0 86.2C445.8 86.3 451.6 86.3 455.0 86.5C458.4 86.7 459.0 86.9 460.6 87.6C462.2 88.3 463.1 89.8 464.4 90.5C465.7 91.2 467.0 92.2 468.3 91.5C469.6 90.8 470.8 90.0 472.1 86.6C473.4 83.2 474.7 78.0 476.0 71.2C477.3 64.5 478.7 52.7 479.8 46.1C480.9 39.5 481.9 34.6 482.7 31.7C483.5 28.8 483.9 28.2 484.7 28.4C485.5 28.5 486.5 29.7 487.6 32.6C488.7 35.6 490.1 42.1 491.4 46.1C492.7 50.1 494.3 54.7 495.3 56.7C496.3 58.7 496.2 58.4 497.2 58.1C498.2 57.8 499.8 56.0 501.1 54.8C502.4 53.6 503.8 51.3 504.9 51.0C506.0 50.7 506.8 51.3 507.8 52.9C508.8 54.5 509.6 57.5 510.7 60.6C511.8 63.7 513.0 67.8 514.6 71.2C516.2 74.6 518.1 78.5 520.3 80.8C522.5 83.0 525.8 83.8 528.0 84.7C530.2 85.6 532.8 86.0 533.8 86.2" fill="none" stroke="#1f8f60" stroke-width="1.85" stroke-linejoin="round"/>
<path clip-path="url(#cd)" d="M395.0 154.7C399.2 154.7 412.5 154.5 420.0 154.5C427.5 154.5 434.2 154.7 440.0 154.8C445.8 154.9 451.4 154.7 455.0 155.2C458.6 155.7 459.4 156.7 461.5 157.6C463.6 158.5 465.5 160.8 467.3 160.5C469.1 160.2 470.7 159.3 472.1 155.6C473.6 151.9 474.7 145.7 476.0 138.3C477.3 130.9 478.6 117.9 479.8 111.3C481.0 104.7 482.4 101.1 483.3 98.7C484.2 96.3 484.1 96.3 485.0 96.8C485.9 97.3 487.3 98.9 488.5 101.6C489.7 104.3 491.1 110.3 492.4 113.2C493.7 116.1 494.9 118.1 496.2 119.0C497.5 119.9 498.7 119.1 500.1 118.6C501.5 118.1 503.2 115.9 504.5 116.1C505.8 116.3 506.6 117.6 507.8 120.0C509.0 122.4 510.2 126.9 511.7 130.6C513.1 134.3 514.4 138.6 516.5 142.1C518.6 145.6 521.3 149.7 524.2 151.8C527.1 153.9 532.2 154.2 533.8 154.7" fill="none" stroke="#1f8f60" stroke-width="1.85" stroke-linejoin="round"/>
<path clip-path="url(#cd)" d="M395.0 224.2C399.2 224.2 413.5 224.0 420.0 224.0C426.5 224.0 430.8 224.1 434.0 224.4C437.2 224.7 437.5 224.9 439.4 225.6C441.2 226.3 443.5 227.7 445.1 228.5C446.7 229.3 447.7 231.5 449.0 230.4C450.3 229.3 451.5 226.4 452.8 221.7C454.1 217.0 455.4 208.5 456.7 202.4C458.0 196.3 459.3 189.6 460.6 185.1C461.9 180.6 463.3 177.4 464.4 175.4C465.5 173.4 466.3 172.4 467.3 173.1C468.3 173.8 469.1 175.7 470.2 179.3C471.3 182.9 472.9 190.8 474.1 194.7C475.3 198.5 476.4 202.4 477.5 202.4C478.6 202.4 479.6 197.4 480.8 194.7C482.0 192.0 483.7 187.6 484.7 186.0C485.7 184.4 485.7 184.3 486.6 185.1C487.6 185.9 489.1 188.0 490.4 190.9C491.7 193.8 492.7 198.6 494.3 202.4C495.9 206.2 498.0 210.9 500.1 214.0C502.2 217.1 504.1 219.1 506.8 220.7C509.5 222.3 512.0 223.0 516.5 223.6C521.0 224.2 530.9 224.1 533.8 224.2" fill="none" stroke="#1f8f60" stroke-width="1.85" stroke-linejoin="round"/>
<path clip-path="url(#cd)" d="M395.0 292.8C399.2 292.8 413.5 292.6 420.0 292.6C426.5 292.6 430.8 292.7 434.0 293.0C437.2 293.3 437.7 293.6 439.4 294.2C441.1 294.8 442.7 296.1 444.2 296.9C445.7 297.7 447.2 299.8 448.6 298.8C450.0 297.8 451.5 295.3 452.8 290.7C454.1 286.1 455.2 277.8 456.7 271.4C458.1 265.0 460.1 256.6 461.5 252.1C462.9 247.6 464.4 246.0 465.4 244.4C466.4 242.8 466.5 241.8 467.3 242.5C468.1 243.2 469.1 245.1 470.2 248.3C471.3 251.5 472.9 258.9 474.1 261.8C475.3 264.8 476.2 266.3 477.3 266.0C478.4 265.7 479.6 262.0 480.8 259.9C482.0 257.8 483.8 254.3 484.7 253.1C485.6 251.9 485.2 251.7 486.0 252.5C486.8 253.3 488.1 254.7 489.5 257.9C490.9 261.0 492.5 267.4 494.3 271.4C496.1 275.4 498.0 279.1 500.1 282.0C502.2 284.9 503.8 287.1 506.8 288.8C509.9 290.5 513.9 291.5 518.4 292.2C522.9 292.9 531.2 292.9 533.8 293.0" fill="none" stroke="#1f8f60" stroke-width="1.85" stroke-linejoin="round"/>
<path clip-path="url(#cd)" d="M395.0 361.2C397.5 361.2 406.2 361.0 410.0 361.0C413.8 361.0 416.0 361.1 418.0 361.2C420.0 361.3 420.4 361.1 422.0 361.6C423.6 362.2 425.9 363.6 427.8 364.5C429.7 365.4 431.8 369.1 433.6 367.0C435.4 364.9 437.0 359.6 438.4 352.0C439.8 344.4 441.0 329.5 442.2 321.1C443.4 312.8 444.6 305.7 445.5 301.9C446.4 298.1 446.7 297.9 447.6 298.5C448.5 299.1 449.7 301.3 450.9 305.7C452.1 310.1 453.4 318.9 454.8 325.0C456.2 331.1 457.8 337.9 459.6 342.4C461.4 346.9 463.3 349.4 465.4 352.0C467.5 354.6 469.7 356.2 472.1 357.8C474.5 359.4 477.4 360.3 479.8 361.6C482.2 362.9 484.8 365.5 486.6 365.5C488.4 365.5 489.1 364.8 490.4 361.6C491.7 358.4 493.0 352.0 494.3 346.2C495.6 340.4 496.9 331.7 498.2 326.9C499.5 322.1 500.9 319.2 502.0 317.3C503.1 315.4 503.9 315.1 504.9 315.4C505.9 315.7 506.8 316.3 507.8 319.2C508.8 322.1 509.6 328.2 510.7 332.7C511.8 337.2 513.0 342.3 514.6 346.2C516.2 350.1 518.1 353.6 520.3 355.8C522.5 358.1 525.8 358.9 528.0 359.7C530.2 360.5 532.8 360.5 533.8 360.7" fill="none" stroke="#1f8f60" stroke-width="1.85" stroke-linejoin="round"/>
<path clip-path="url(#cd)" d="M395.0 429.9C397.5 429.9 406.2 429.7 410.0 429.7C413.8 429.7 416.0 429.8 418.0 429.9C420.0 430.0 420.4 429.8 422.0 430.3C423.6 430.9 425.9 432.3 427.8 433.2C429.7 434.1 431.8 437.8 433.6 435.7C435.4 433.6 437.0 428.3 438.4 420.7C439.8 413.1 441.0 398.2 442.2 389.8C443.4 381.4 444.6 374.4 445.5 370.6C446.4 366.8 446.7 366.6 447.6 367.2C448.5 367.8 449.7 370.0 450.9 374.4C452.1 378.8 453.4 387.6 454.8 393.7C456.2 399.8 457.8 406.6 459.6 411.1C461.4 415.6 463.3 418.1 465.4 420.7C467.5 423.3 469.7 424.9 472.1 426.5C474.5 428.1 477.4 429.0 479.8 430.3C482.2 431.6 484.8 434.2 486.6 434.2C488.4 434.2 489.1 433.5 490.4 430.3C491.7 427.1 493.0 420.7 494.3 414.9C495.6 409.1 496.9 400.4 498.2 395.6C499.5 390.8 500.9 387.9 502.0 386.0C503.1 384.1 503.9 383.8 504.9 384.1C505.9 384.4 506.8 385.0 507.8 387.9C508.8 390.8 509.6 396.9 510.7 401.4C511.8 405.9 513.0 411.0 514.6 414.9C516.2 418.8 518.1 422.2 520.3 424.5C522.5 426.8 525.8 427.6 528.0 428.4C530.2 429.2 532.8 429.2 533.8 429.4" fill="none" stroke="#1f8f60" stroke-width="1.85" stroke-linejoin="round"/>
<path clip-path="url(#ce)" d="M571.0 64.5C574.9 64.7 587.7 65.1 594.1 65.4C600.5 65.7 605.1 65.9 609.6 66.4C614.1 66.9 617.9 67.2 621.1 68.3C624.3 69.4 626.5 71.0 628.8 73.1C631.0 75.2 632.8 78.2 634.6 80.8C636.4 83.4 638.1 86.7 639.5 88.6C640.9 90.5 641.6 92.7 642.7 92.4C643.8 92.1 645.0 90.4 646.2 86.6C647.4 82.8 648.8 75.7 650.1 69.3C651.4 62.9 652.6 54.2 653.9 48.1C655.2 42.0 656.6 35.9 657.8 32.6C659.0 29.3 659.9 28.4 661.2 28.4C662.5 28.4 663.8 31.2 665.5 32.6C667.2 34.0 669.5 36.7 671.3 36.9C673.1 37.1 674.6 34.6 676.1 33.6C677.6 32.6 679.0 30.5 680.5 30.7C682.0 30.9 683.4 32.4 684.8 34.6C686.1 36.9 687.0 40.8 688.6 44.2C690.2 47.6 692.1 51.9 694.4 54.8C696.6 57.7 699.5 60.1 702.1 61.6C704.7 63.1 708.7 63.2 710.0 63.5" fill="none" stroke="#1f8f60" stroke-width="1.85" stroke-linejoin="round"/>
<path clip-path="url(#ce)" d="M571.0 134.8C577.4 135.1 601.2 135.8 609.6 136.4C618.0 137.0 617.9 137.2 621.1 138.3C624.3 139.4 626.5 141.0 628.8 143.1C631.0 145.2 632.7 148.2 634.6 150.8C636.5 153.4 638.9 156.8 640.4 158.5C641.9 160.2 642.8 161.8 643.9 161.0C645.0 160.2 646.0 158.1 647.2 153.7C648.4 149.3 649.7 140.8 651.0 134.4C652.3 128.0 653.6 120.6 654.9 115.1C656.2 109.6 657.5 104.3 658.7 101.6C659.9 98.9 660.9 98.7 662.0 98.7C663.1 98.7 664.0 100.5 665.5 101.6C667.0 102.7 669.1 105.1 670.9 105.1C672.7 105.1 674.5 102.7 676.1 101.6C677.7 100.5 679.1 98.5 680.5 98.7C681.9 98.9 683.0 100.2 684.4 102.6C685.8 105.0 686.9 109.5 688.6 113.2C690.3 116.9 692.1 121.8 694.4 124.8C696.6 127.8 699.5 130.1 702.1 131.5C704.7 132.9 708.7 133.2 710.0 133.5" fill="none" stroke="#1f8f60" stroke-width="1.85" stroke-linejoin="round"/>
<path clip-path="url(#ce)" d="M571.0 202.8C573.6 203.0 581.9 203.4 586.4 204.0C590.9 204.6 594.5 205.1 598.0 206.3C601.5 207.5 604.7 208.8 607.6 211.1C610.5 213.3 613.1 217.2 615.4 219.8C617.6 222.4 619.7 225.1 621.1 226.5C622.5 227.9 622.9 229.3 624.0 228.5C625.1 227.7 626.4 225.7 627.9 221.7C629.4 217.7 631.2 210.5 632.7 204.4C634.2 198.3 635.3 190.4 636.6 185.1C637.9 179.8 639.3 175.1 640.4 172.5C641.5 169.9 642.3 169.0 643.3 169.3C644.3 169.6 645.3 172.4 646.6 174.5C647.9 176.6 649.5 181.4 651.0 181.6C652.5 181.8 654.2 177.7 655.8 175.4C657.4 173.1 659.5 169.2 660.7 167.7C661.9 166.2 662.2 165.9 663.2 166.2C664.2 166.5 665.1 167.7 666.5 169.6C667.9 171.5 669.5 174.3 671.3 177.4C673.1 180.5 675.2 185.1 677.1 188.0C679.0 190.9 680.5 192.9 682.8 194.7C685.0 196.5 687.4 197.5 690.6 198.6C693.8 199.7 698.9 200.9 702.1 201.5C705.3 202.1 708.7 202.2 710.0 202.4" fill="none" stroke="#1f8f60" stroke-width="1.85" stroke-linejoin="round"/>
<path clip-path="url(#ce)" d="M571.0 273.0C574.2 273.2 585.1 273.8 590.3 274.3C595.4 274.8 598.4 274.9 601.9 276.2C605.4 277.5 608.8 279.6 611.5 282.0C614.2 284.4 616.4 288.3 618.2 290.7C620.0 293.1 621.1 295.4 622.1 296.5C623.1 297.6 623.0 298.5 624.0 297.5C625.0 296.5 626.4 295.1 627.9 290.7C629.4 286.3 631.2 277.8 632.7 271.4C634.2 265.0 635.3 257.1 636.6 252.1C637.9 247.1 639.3 243.8 640.4 241.5C641.5 239.2 642.2 238.0 643.3 238.3C644.4 238.6 645.3 241.7 646.8 243.5C648.2 245.3 650.3 249.5 652.0 249.2C653.7 248.9 655.3 243.9 656.8 241.5C658.2 239.1 659.7 236.1 660.7 234.8C661.7 233.5 661.6 233.3 662.6 233.8C663.6 234.3 665.0 235.4 666.5 237.7C668.0 239.9 669.5 244.1 671.3 247.3C673.1 250.5 675.2 254.3 677.1 257.0C679.0 259.7 680.2 261.8 682.8 263.7C685.4 265.6 688.0 267.1 692.5 268.5C697.0 269.9 707.1 271.8 710.0 272.4" fill="none" stroke="#1f8f60" stroke-width="1.85" stroke-linejoin="round"/>
<path clip-path="url(#ce)" d="M571.0 343.3C572.9 343.6 579.1 344.1 582.6 345.2C586.1 346.3 589.3 347.9 592.2 350.1C595.1 352.4 597.6 356.1 599.9 358.7C602.1 361.3 604.4 364.1 605.7 365.5C607.1 366.9 607.0 368.0 608.0 367.0C609.0 366.0 610.3 364.8 611.5 359.7C612.7 354.6 614.1 344.3 615.4 336.6C616.7 328.9 618.0 319.0 619.2 313.4C620.4 307.8 621.7 304.8 622.7 302.8C623.7 300.8 624.0 300.7 625.0 301.5C626.0 302.3 627.2 304.3 628.8 307.6C630.4 310.9 632.7 316.9 634.6 321.1C636.5 325.3 638.3 329.1 640.4 332.7C642.5 336.2 645.0 339.2 647.2 342.4C649.5 345.6 651.8 349.1 653.9 352.0C656.0 354.9 658.2 358.1 659.7 359.7C661.2 361.3 662.1 362.1 663.2 361.6C664.3 361.1 665.3 360.3 666.5 356.8C667.7 353.3 669.0 346.3 670.3 340.4C671.6 334.4 672.9 326.2 674.2 321.1C675.5 316.0 676.8 312.0 678.0 309.6C679.2 307.2 680.2 306.6 681.3 306.7C682.4 306.8 683.6 308.1 684.8 310.5C686.0 312.9 687.0 317.6 688.6 321.1C690.2 324.6 692.1 328.8 694.4 331.7C696.6 334.6 699.5 337.1 702.1 338.5C704.7 339.9 708.7 340.1 710.0 340.4" fill="none" stroke="#1f8f60" stroke-width="1.85" stroke-linejoin="round"/>
<path clip-path="url(#ce)" d="M571.0 412.3C572.9 412.6 579.1 412.7 582.6 413.8C586.1 414.9 589.3 416.7 592.2 419.0C595.1 421.3 597.8 425.3 599.9 427.7C602.0 430.1 603.4 432.4 604.7 433.5C606.0 434.6 606.5 435.5 607.6 434.5C608.7 433.5 610.2 432.7 611.5 427.7C612.8 422.7 614.1 412.3 615.4 404.6C616.7 396.9 618.0 387.0 619.2 381.4C620.4 375.8 621.7 372.8 622.7 370.8C623.7 368.8 624.0 368.7 625.0 369.5C626.0 370.3 627.2 372.3 628.8 375.6C630.4 378.9 632.7 384.9 634.6 389.1C636.5 393.3 638.3 397.1 640.4 400.7C642.5 404.2 645.0 407.3 647.2 410.4C649.5 413.4 651.8 416.4 653.9 419.0C656.0 421.6 658.2 424.4 659.7 425.8C661.2 427.2 662.1 428.0 663.2 427.7C664.3 427.4 665.3 427.0 666.5 423.8C667.7 420.6 669.0 414.2 670.3 408.4C671.6 402.6 672.9 394.2 674.2 389.1C675.5 384.0 676.8 380.0 678.0 377.6C679.2 375.2 680.2 374.4 681.3 374.7C682.4 375.0 683.6 376.9 684.8 379.5C686.0 382.1 687.0 386.6 688.6 390.1C690.2 393.6 692.1 397.8 694.4 400.7C696.6 403.6 699.5 405.9 702.1 407.5C704.7 409.1 708.7 409.9 710.0 410.4" fill="none" stroke="#1f8f60" stroke-width="1.85" stroke-linejoin="round"/>
<rect x="32.20" y="23.50" width="159.60" height="158.80" fill="none" stroke="#231f20" stroke-width="1.50"/>
<rect x="32.20" y="277.30" width="159.50" height="158.80" fill="none" stroke="#231f20" stroke-width="1.50"/>
<rect x="219.50" y="24.30" width="137.50" height="412.40" fill="none" stroke="#231f20" stroke-width="1.50"/>
<rect x="395.80" y="24.30" width="136.90" height="412.40" fill="none" stroke="#231f20" stroke-width="1.50"/>
<rect x="571.70" y="24.30" width="137.20" height="412.40" fill="none" stroke="#231f20" stroke-width="1.50"/>
<line x1="219.50" x2="357.00" y1="161.80" y2="161.80" stroke="#231f20" stroke-width="1.50"/>
<line x1="219.50" x2="357.00" y1="299.40" y2="299.40" stroke="#231f20" stroke-width="1.50"/>
<line x1="395.80" x2="532.70" y1="93.03" y2="93.03" stroke="#231f20" stroke-width="1.50"/>
<line x1="395.80" x2="532.70" y1="161.77" y2="161.77" stroke="#231f20" stroke-width="1.50"/>
<line x1="395.80" x2="532.70" y1="230.50" y2="230.50" stroke="#231f20" stroke-width="1.50"/>
<line x1="395.80" x2="532.70" y1="299.23" y2="299.23" stroke="#231f20" stroke-width="1.50"/>
<line x1="395.80" x2="532.70" y1="367.97" y2="367.97" stroke="#231f20" stroke-width="1.50"/>
<line x1="571.70" x2="708.90" y1="93.03" y2="93.03" stroke="#231f20" stroke-width="1.50"/>
<line x1="571.70" x2="708.90" y1="161.77" y2="161.77" stroke="#231f20" stroke-width="1.50"/>
<line x1="571.70" x2="708.90" y1="230.50" y2="230.50" stroke="#231f20" stroke-width="1.50"/>
<line x1="571.70" x2="708.90" y1="299.23" y2="299.23" stroke="#231f20" stroke-width="1.50"/>
<line x1="571.70" x2="708.90" y1="367.97" y2="367.97" stroke="#231f20" stroke-width="1.50"/>
<line x1="265.33" x2="265.33" y1="24.30" y2="26.80" stroke="#231f20" stroke-width="1"/>
<line x1="311.17" x2="311.17" y1="24.30" y2="26.80" stroke="#231f20" stroke-width="1"/>
<line x1="265.33" x2="265.33" y1="159.27" y2="164.27" stroke="#231f20" stroke-width="1"/>
<line x1="311.17" x2="311.17" y1="159.27" y2="164.27" stroke="#231f20" stroke-width="1"/>
<line x1="265.33" x2="265.33" y1="296.73" y2="301.73" stroke="#231f20" stroke-width="1"/>
<line x1="311.17" x2="311.17" y1="296.73" y2="301.73" stroke="#231f20" stroke-width="1"/>
<line x1="265.33" x2="265.33" y1="434.20" y2="436.70" stroke="#231f20" stroke-width="1"/>
<line x1="311.17" x2="311.17" y1="434.20" y2="436.70" stroke="#231f20" stroke-width="1"/>
<line x1="441.43" x2="441.43" y1="24.30" y2="26.80" stroke="#231f20" stroke-width="1"/>
<line x1="487.07" x2="487.07" y1="24.30" y2="26.80" stroke="#231f20" stroke-width="1"/>
<line x1="441.43" x2="441.43" y1="90.53" y2="95.53" stroke="#231f20" stroke-width="1"/>
<line x1="487.07" x2="487.07" y1="90.53" y2="95.53" stroke="#231f20" stroke-width="1"/>
<line x1="441.43" x2="441.43" y1="159.27" y2="164.27" stroke="#231f20" stroke-width="1"/>
<line x1="487.07" x2="487.07" y1="159.27" y2="164.27" stroke="#231f20" stroke-width="1"/>
<line x1="441.43" x2="441.43" y1="228.00" y2="233.00" stroke="#231f20" stroke-width="1"/>
<line x1="487.07" x2="487.07" y1="228.00" y2="233.00" stroke="#231f20" stroke-width="1"/>
<line x1="441.43" x2="441.43" y1="296.73" y2="301.73" stroke="#231f20" stroke-width="1"/>
<line x1="487.07" x2="487.07" y1="296.73" y2="301.73" stroke="#231f20" stroke-width="1"/>
<line x1="441.43" x2="441.43" y1="365.47" y2="370.47" stroke="#231f20" stroke-width="1"/>
<line x1="487.07" x2="487.07" y1="365.47" y2="370.47" stroke="#231f20" stroke-width="1"/>
<line x1="441.43" x2="441.43" y1="434.20" y2="436.70" stroke="#231f20" stroke-width="1"/>
<line x1="487.07" x2="487.07" y1="434.20" y2="436.70" stroke="#231f20" stroke-width="1"/>
<line x1="617.43" x2="617.43" y1="24.30" y2="26.80" stroke="#231f20" stroke-width="1"/>
<line x1="663.17" x2="663.17" y1="24.30" y2="26.80" stroke="#231f20" stroke-width="1"/>
<line x1="617.43" x2="617.43" y1="90.53" y2="95.53" stroke="#231f20" stroke-width="1"/>
<line x1="663.17" x2="663.17" y1="90.53" y2="95.53" stroke="#231f20" stroke-width="1"/>
<line x1="617.43" x2="617.43" y1="159.27" y2="164.27" stroke="#231f20" stroke-width="1"/>
<line x1="663.17" x2="663.17" y1="159.27" y2="164.27" stroke="#231f20" stroke-width="1"/>
<line x1="617.43" x2="617.43" y1="228.00" y2="233.00" stroke="#231f20" stroke-width="1"/>
<line x1="663.17" x2="663.17" y1="228.00" y2="233.00" stroke="#231f20" stroke-width="1"/>
<line x1="617.43" x2="617.43" y1="296.73" y2="301.73" stroke="#231f20" stroke-width="1"/>
<line x1="663.17" x2="663.17" y1="296.73" y2="301.73" stroke="#231f20" stroke-width="1"/>
<line x1="617.43" x2="617.43" y1="365.47" y2="370.47" stroke="#231f20" stroke-width="1"/>
<line x1="663.17" x2="663.17" y1="365.47" y2="370.47" stroke="#231f20" stroke-width="1"/>
<line x1="617.43" x2="617.43" y1="434.20" y2="436.70" stroke="#231f20" stroke-width="1"/>
<line x1="663.17" x2="663.17" y1="434.20" y2="436.70" stroke="#231f20" stroke-width="1"/>
<line x1="45.50" x2="45.50" y1="182.30" y2="179.80" stroke="#231f20" stroke-width="1"/>
<line x1="45.50" x2="45.50" y1="23.50" y2="26.00" stroke="#231f20" stroke-width="1"/>
<line x1="32.20" x2="34.70" y1="169.07" y2="169.07" stroke="#231f20" stroke-width="1"/>
<line x1="191.80" x2="189.30" y1="169.07" y2="169.07" stroke="#231f20" stroke-width="1"/>
<line x1="67.67" x2="67.67" y1="182.30" y2="179.80" stroke="#231f20" stroke-width="1"/>
<line x1="67.67" x2="67.67" y1="23.50" y2="26.00" stroke="#231f20" stroke-width="1"/>
<line x1="32.20" x2="34.70" y1="147.01" y2="147.01" stroke="#231f20" stroke-width="1"/>
<line x1="191.80" x2="189.30" y1="147.01" y2="147.01" stroke="#231f20" stroke-width="1"/>
<line x1="89.83" x2="89.83" y1="182.30" y2="179.80" stroke="#231f20" stroke-width="1"/>
<line x1="89.83" x2="89.83" y1="23.50" y2="26.00" stroke="#231f20" stroke-width="1"/>
<line x1="32.20" x2="34.70" y1="124.96" y2="124.96" stroke="#231f20" stroke-width="1"/>
<line x1="191.80" x2="189.30" y1="124.96" y2="124.96" stroke="#231f20" stroke-width="1"/>
<line x1="112.00" x2="112.00" y1="182.30" y2="179.80" stroke="#231f20" stroke-width="1"/>
<line x1="112.00" x2="112.00" y1="23.50" y2="26.00" stroke="#231f20" stroke-width="1"/>
<line x1="32.20" x2="34.70" y1="102.90" y2="102.90" stroke="#231f20" stroke-width="1"/>
<line x1="191.80" x2="189.30" y1="102.90" y2="102.90" stroke="#231f20" stroke-width="1"/>
<line x1="134.17" x2="134.17" y1="182.30" y2="179.80" stroke="#231f20" stroke-width="1"/>
<line x1="134.17" x2="134.17" y1="23.50" y2="26.00" stroke="#231f20" stroke-width="1"/>
<line x1="32.20" x2="34.70" y1="80.84" y2="80.84" stroke="#231f20" stroke-width="1"/>
<line x1="191.80" x2="189.30" y1="80.84" y2="80.84" stroke="#231f20" stroke-width="1"/>
<line x1="156.33" x2="156.33" y1="182.30" y2="179.80" stroke="#231f20" stroke-width="1"/>
<line x1="156.33" x2="156.33" y1="23.50" y2="26.00" stroke="#231f20" stroke-width="1"/>
<line x1="32.20" x2="34.70" y1="58.79" y2="58.79" stroke="#231f20" stroke-width="1"/>
<line x1="191.80" x2="189.30" y1="58.79" y2="58.79" stroke="#231f20" stroke-width="1"/>
<line x1="178.50" x2="178.50" y1="182.30" y2="179.80" stroke="#231f20" stroke-width="1"/>
<line x1="178.50" x2="178.50" y1="23.50" y2="26.00" stroke="#231f20" stroke-width="1"/>
<line x1="32.20" x2="34.70" y1="36.73" y2="36.73" stroke="#231f20" stroke-width="1"/>
<line x1="191.80" x2="189.30" y1="36.73" y2="36.73" stroke="#231f20" stroke-width="1"/>
<line x1="45.49" x2="45.49" y1="436.10" y2="433.60" stroke="#231f20" stroke-width="1"/>
<line x1="45.49" x2="45.49" y1="277.30" y2="279.80" stroke="#231f20" stroke-width="1"/>
<line x1="32.20" x2="34.70" y1="422.87" y2="422.87" stroke="#231f20" stroke-width="1"/>
<line x1="191.70" x2="189.20" y1="422.87" y2="422.87" stroke="#231f20" stroke-width="1"/>
<line x1="67.64" x2="67.64" y1="436.10" y2="433.60" stroke="#231f20" stroke-width="1"/>
<line x1="67.64" x2="67.64" y1="277.30" y2="279.80" stroke="#231f20" stroke-width="1"/>
<line x1="32.20" x2="34.70" y1="400.81" y2="400.81" stroke="#231f20" stroke-width="1"/>
<line x1="191.70" x2="189.20" y1="400.81" y2="400.81" stroke="#231f20" stroke-width="1"/>
<line x1="89.80" x2="89.80" y1="436.10" y2="433.60" stroke="#231f20" stroke-width="1"/>
<line x1="89.80" x2="89.80" y1="277.30" y2="279.80" stroke="#231f20" stroke-width="1"/>
<line x1="32.20" x2="34.70" y1="378.76" y2="378.76" stroke="#231f20" stroke-width="1"/>
<line x1="191.70" x2="189.20" y1="378.76" y2="378.76" stroke="#231f20" stroke-width="1"/>
<line x1="111.95" x2="111.95" y1="436.10" y2="433.60" stroke="#231f20" stroke-width="1"/>
<line x1="111.95" x2="111.95" y1="277.30" y2="279.80" stroke="#231f20" stroke-width="1"/>
<line x1="32.20" x2="34.70" y1="356.70" y2="356.70" stroke="#231f20" stroke-width="1"/>
<line x1="191.70" x2="189.20" y1="356.70" y2="356.70" stroke="#231f20" stroke-width="1"/>
<line x1="134.10" x2="134.10" y1="436.10" y2="433.60" stroke="#231f20" stroke-width="1"/>
<line x1="134.10" x2="134.10" y1="277.30" y2="279.80" stroke="#231f20" stroke-width="1"/>
<line x1="32.20" x2="34.70" y1="334.64" y2="334.64" stroke="#231f20" stroke-width="1"/>
<line x1="191.70" x2="189.20" y1="334.64" y2="334.64" stroke="#231f20" stroke-width="1"/>
<line x1="156.26" x2="156.26" y1="436.10" y2="433.60" stroke="#231f20" stroke-width="1"/>
<line x1="156.26" x2="156.26" y1="277.30" y2="279.80" stroke="#231f20" stroke-width="1"/>
<line x1="32.20" x2="34.70" y1="312.59" y2="312.59" stroke="#231f20" stroke-width="1"/>
<line x1="191.70" x2="189.20" y1="312.59" y2="312.59" stroke="#231f20" stroke-width="1"/>
<line x1="178.41" x2="178.41" y1="436.10" y2="433.60" stroke="#231f20" stroke-width="1"/>
<line x1="178.41" x2="178.41" y1="277.30" y2="279.80" stroke="#231f20" stroke-width="1"/>
<line x1="32.20" x2="34.70" y1="290.53" y2="290.53" stroke="#231f20" stroke-width="1"/>
<line x1="191.70" x2="189.20" y1="290.53" y2="290.53" stroke="#231f20" stroke-width="1"/>
<text transform="translate(0.42 13.04) scale(0.8529 0.9623)" font-size="16" font-weight="bold" fill="#000">a</text>
<text transform="translate(-0.07 264.75) scale(1.0053 0.9296)" font-size="16" font-weight="bold" fill="#000">b</text>
<text transform="translate(208.41 13.43) scale(1.0304 1.0075)" font-size="16" font-weight="bold" fill="#000">c</text>
<text transform="translate(381.32 13.05) scale(1.0125 0.9296)" font-size="16" font-weight="bold" fill="#000">d</text>
<text transform="translate(558.30 13.43) scale(1.0565 1.0075)" font-size="16" font-weight="bold" fill="#000">e</text>
<text transform="translate(93.81 19.73) scale(1.0371 1.0846)" font-size="14" font-weight="normal" fill="#231f20">Original</text>
<text transform="translate(95.43 274.12) scale(1.0029 1.0742)" font-size="14" font-weight="normal" fill="#231f20">Refined</text>
<text transform="translate(275.48 20.00) scale(0.8777 1.0603)" font-size="14" font-weight="normal" fill="#231f20">FTIR</text>
<text transform="translate(419.84 19.91) scale(0.9912 1.0923)" font-size="14" font-weight="normal" fill="#231f20">2D IR diagonal</text>
<text transform="translate(638.98 19.80) scale(0.9576 1.0737)" font-size="14" font-weight="normal" fill="#231f20">TA</text>
<text transform="translate(31.53 195.83) scale(1.0025 1.0373)" font-size="14" font-weight="normal" fill="#231f20">-150</text>
<text transform="translate(79.14 195.83) scale(0.9842 1.0373)" font-size="14" font-weight="normal" fill="#231f20">-50</text>
<text transform="translate(126.13 195.83) scale(1.0047 1.0373)" font-size="14" font-weight="normal" fill="#231f20">50</text>
<text transform="translate(166.53 195.83) scale(0.9664 1.0373)" font-size="14" font-weight="normal" fill="#231f20">150</text>
<text transform="translate(27.53 48.05) scale(1.0373 0.9877) rotate(-90)" font-size="14" font-weight="normal" fill="#231f20">150</text>
<text transform="translate(27.53 88.39) scale(1.0373 0.9862) rotate(-90)" font-size="14" font-weight="normal" fill="#231f20">50</text>
<text transform="translate(27.53 135.67) scale(1.0373 1.0105) rotate(-90)" font-size="14" font-weight="normal" fill="#231f20">-50</text>
<text transform="translate(27.52 183.57) scale(1.0576 1.0025) rotate(-90)" font-size="14" font-weight="normal" fill="#231f20">-150</text>
<text transform="translate(97.17 211.43) scale(1.0000 0.9913)" font-size="14" font-weight="normal" fill="#231f20"><tspan font-style="italic">&#934;</tspan> (<tspan font-size="0.8em" dy="-0.25em">&#730;</tspan><tspan dy="0.25em">)</tspan></text>
<text transform="translate(12.58 112.86) scale(0.9783 1.0263) rotate(-90)" font-size="14" font-weight="normal" fill="#231f20"><tspan font-style="italic">&#968;</tspan> (<tspan font-size="0.8em" dy="-0.25em">&#730;</tspan><tspan dy="0.25em">)</tspan></text>
<text transform="translate(31.53 449.63) scale(1.0025 1.0373)" font-size="14" font-weight="normal" fill="#231f20">-150</text>
<text transform="translate(79.14 449.63) scale(0.9842 1.0373)" font-size="14" font-weight="normal" fill="#231f20">-50</text>
<text transform="translate(126.13 449.63) scale(1.0047 1.0373)" font-size="14" font-weight="normal" fill="#231f20">50</text>
<text transform="translate(166.53 449.63) scale(0.9664 1.0373)" font-size="14" font-weight="normal" fill="#231f20">150</text>
<text transform="translate(27.53 301.85) scale(1.0373 0.9877) rotate(-90)" font-size="14" font-weight="normal" fill="#231f20">150</text>
<text transform="translate(27.53 342.19) scale(1.0373 0.9862) rotate(-90)" font-size="14" font-weight="normal" fill="#231f20">50</text>
<text transform="translate(27.53 389.47) scale(1.0373 1.0105) rotate(-90)" font-size="14" font-weight="normal" fill="#231f20">-50</text>
<text transform="translate(27.52 437.37) scale(1.0576 1.0025) rotate(-90)" font-size="14" font-weight="normal" fill="#231f20">-150</text>
<text transform="translate(97.17 465.23) scale(1.0000 0.9913)" font-size="14" font-weight="normal" fill="#231f20"><tspan font-style="italic">&#934;</tspan> (<tspan font-size="0.8em" dy="-0.25em">&#730;</tspan><tspan dy="0.25em">)</tspan></text>
<text transform="translate(12.58 366.66) scale(0.9783 1.0263) rotate(-90)" font-size="14" font-weight="normal" fill="#231f20"><tspan font-style="italic">&#968;</tspan> (<tspan font-size="0.8em" dy="-0.25em">&#730;</tspan><tspan dy="0.25em">)</tspan></text>
<text transform="translate(204.46 450.73) scale(0.9944 1.0373)" font-size="14" font-weight="normal" fill="#231f20">1550</text>
<text transform="translate(250.29 450.73) scale(0.9944 1.0373)" font-size="14" font-weight="normal" fill="#231f20">1600</text>
<text transform="translate(296.12 450.73) scale(0.9944 1.0373)" font-size="14" font-weight="normal" fill="#231f20">1650</text>
<text transform="translate(341.96 450.73) scale(0.9944 1.0373)" font-size="14" font-weight="normal" fill="#231f20">1700</text>
<text transform="translate(380.76 450.73) scale(0.9944 1.0373)" font-size="14" font-weight="normal" fill="#231f20">1550</text>
<text transform="translate(426.39 450.73) scale(0.9944 1.0373)" font-size="14" font-weight="normal" fill="#231f20">1600</text>
<text transform="translate(472.02 450.73) scale(0.9944 1.0373)" font-size="14" font-weight="normal" fill="#231f20">1650</text>
<text transform="translate(517.66 450.73) scale(0.9944 1.0373)" font-size="14" font-weight="normal" fill="#231f20">1700</text>
<text transform="translate(556.66 450.73) scale(0.9944 1.0373)" font-size="14" font-weight="normal" fill="#231f20">1550</text>
<text transform="translate(602.39 450.73) scale(0.9944 1.0373)" font-size="14" font-weight="normal" fill="#231f20">1600</text>
<text transform="translate(648.12 450.73) scale(0.9944 1.0373)" font-size="14" font-weight="normal" fill="#231f20">1650</text>
<text transform="translate(693.86 450.73) scale(0.9944 1.0373)" font-size="14" font-weight="normal" fill="#231f20">1700</text>
<text transform="translate(237.14 464.59) scale(0.9936 0.9214)" font-size="14" font-weight="normal" fill="#231f20">Frequency (cm<tspan font-size="8.7" dy="-5.2">-1</tspan><tspan dy="5.2">)</tspan></text>
<text transform="translate(413.13 464.59) scale(1.0042 0.9214)" font-size="14" font-weight="normal" fill="#231f20">Frequency (cm<tspan font-size="8.7" dy="-5.2">-1</tspan><tspan dy="5.2">)</tspan></text>
<text transform="translate(556.13 464.59) scale(1.0042 0.9214)" font-size="14" font-weight="normal" fill="#231f20">Detection Frequency (cm<tspan font-size="8.7" dy="-5.2">-1</tspan><tspan dy="5.2">)</tspan></text>
<text transform="translate(214.09 256.95) scale(0.8846 0.9681) rotate(-90)" font-size="14" font-weight="normal" fill="#231f20">OD (a.u)</text>
<text transform="translate(222.75 41.52) scale(0.9515 1.0862)" font-size="14" font-weight="normal" fill="#231f20">UL</text>
<text transform="translate(241.85 58.63) scale(0.9882 1.0135)" font-size="14" font-weight="normal" fill="#231f20">Exp.</text>
<text transform="translate(241.79 81.44) scale(1.0650 1.0462)" font-size="14" font-weight="normal" fill="#b61f2e">Original</text>
<text transform="translate(241.30 102.02) scale(1.0310 1.0645)" font-size="14" font-weight="normal" fill="#3b9866">Refined</text>
<text transform="translate(223.20 178.80) scale(0.8667 1.0421)" font-size="14" font-weight="normal" fill="#231f20">A1</text>
<text transform="translate(223.20 316.40) scale(0.9796 1.0345)" font-size="14" font-weight="normal" fill="#231f20">A2</text>
<text transform="translate(398.25 41.52) scale(0.9515 1.0966)" font-size="14" font-weight="normal" fill="#231f20">UL</text>
<text transform="translate(396.95 108.02) scale(0.9515 1.0552)" font-size="14" font-weight="normal" fill="#231f20">UL</text>
<text transform="translate(399.20 178.90) scale(0.8545 1.1158)" font-size="14" font-weight="normal" fill="#231f20">A1</text>
<text transform="translate(397.90 245.70) scale(0.8545 1.0737)" font-size="14" font-weight="normal" fill="#231f20">A1</text>
<text transform="translate(399.20 316.50) scale(0.9612 1.0966)" font-size="14" font-weight="normal" fill="#231f20">A2</text>
<text transform="translate(397.90 382.90) scale(0.9612 1.0552)" font-size="14" font-weight="normal" fill="#231f20">A2</text>
<text transform="translate(574.15 41.52) scale(0.9515 1.0966)" font-size="14" font-weight="normal" fill="#231f20">UL</text>
<text transform="translate(572.85 108.02) scale(0.9515 1.0552)" font-size="14" font-weight="normal" fill="#231f20">UL</text>
<text transform="translate(575.10 178.90) scale(0.8545 1.1158)" font-size="14" font-weight="normal" fill="#231f20">A1</text>
<text transform="translate(573.80 245.70) scale(0.8545 1.0737)" font-size="14" font-weight="normal" fill="#231f20">A1</text>
<text transform="translate(575.10 316.50) scale(0.9612 1.0966)" font-size="14" font-weight="normal" fill="#231f20">A2</text>
<text transform="translate(573.80 382.90) scale(0.9612 1.0552)" font-size="14" font-weight="normal" fill="#231f20">A2</text>
<line x1="224.7" x2="237.8" y1="54.0" y2="54.0" stroke="#231f20" stroke-width="1.8"/>
<line x1="224.7" x2="237.8" y1="75.5" y2="75.5" stroke="#c4202e" stroke-width="1.8" stroke-dasharray="3.7 2.1"/>
<line x1="224.7" x2="237.8" y1="96.5" y2="96.5" stroke="#1f8f60" stroke-width="1.8"/>
<line x1="423.80" x2="423.80" y1="29.40" y2="45.00" stroke="#231f20" stroke-width="1.3"/>
<line x1="427.60" x2="427.60" y1="29.40" y2="45.00" stroke="#231f20" stroke-width="1.3"/>
<line x1="424.50" x2="424.50" y1="98.20" y2="110.40" stroke="#231f20" stroke-width="1.2"/>
<line x1="419.00" x2="430.00" y1="110.20" y2="110.20" stroke="#231f20" stroke-width="1.2"/>
<line x1="423.80" x2="423.80" y1="166.60" y2="182.20" stroke="#231f20" stroke-width="1.3"/>
<line x1="427.60" x2="427.60" y1="166.60" y2="182.20" stroke="#231f20" stroke-width="1.3"/>
<line x1="424.50" x2="424.50" y1="235.70" y2="247.90" stroke="#231f20" stroke-width="1.2"/>
<line x1="419.00" x2="430.00" y1="247.70" y2="247.70" stroke="#231f20" stroke-width="1.2"/>
<line x1="423.80" x2="423.80" y1="304.20" y2="319.80" stroke="#231f20" stroke-width="1.3"/>
<line x1="427.60" x2="427.60" y1="304.20" y2="319.80" stroke="#231f20" stroke-width="1.3"/>
<line x1="424.50" x2="424.50" y1="372.90" y2="385.10" stroke="#231f20" stroke-width="1.2"/>
<line x1="419.00" x2="430.00" y1="384.90" y2="384.90" stroke="#231f20" stroke-width="1.2"/>
<line x1="599.70" x2="599.70" y1="29.40" y2="45.00" stroke="#231f20" stroke-width="1.3"/>
<line x1="603.50" x2="603.50" y1="29.40" y2="45.00" stroke="#231f20" stroke-width="1.3"/>
<line x1="600.40" x2="600.40" y1="98.20" y2="110.40" stroke="#231f20" stroke-width="1.2"/>
<line x1="594.90" x2="605.90" y1="110.20" y2="110.20" stroke="#231f20" stroke-width="1.2"/>
<line x1="599.70" x2="599.70" y1="166.60" y2="182.20" stroke="#231f20" stroke-width="1.3"/>
<line x1="603.50" x2="603.50" y1="166.60" y2="182.20" stroke="#231f20" stroke-width="1.3"/>
<line x1="600.40" x2="600.40" y1="235.70" y2="247.90" stroke="#231f20" stroke-width="1.2"/>
<line x1="594.90" x2="605.90" y1="247.70" y2="247.70" stroke="#231f20" stroke-width="1.2"/>
<line x1="599.70" x2="599.70" y1="304.20" y2="319.80" stroke="#231f20" stroke-width="1.3"/>
<line x1="603.50" x2="603.50" y1="304.20" y2="319.80" stroke="#231f20" stroke-width="1.3"/>
<line x1="600.40" x2="600.40" y1="372.90" y2="385.10" stroke="#231f20" stroke-width="1.2"/>
<line x1="594.90" x2="605.90" y1="384.90" y2="384.90" stroke="#231f20" stroke-width="1.2"/></svg>
</body></html>
